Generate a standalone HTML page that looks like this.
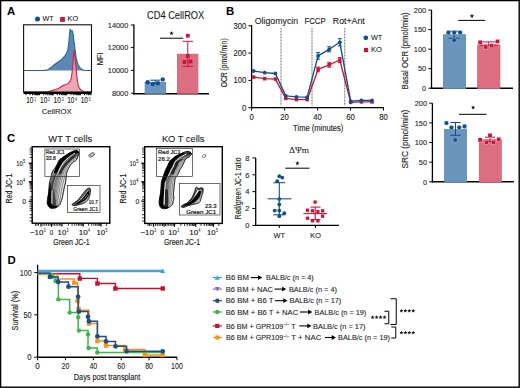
<!DOCTYPE html>
<html><head><meta charset="utf-8"><style>
html,body{margin:0;padding:0;background:#fff;}
svg{display:block;font-family:"Liberation Sans",sans-serif;}
</style></head><body>
<svg width="520" height="388" viewBox="0 0 520 388">
<rect width="520" height="388" fill="#fff"/>
<rect x="0.6" y="0.6" width="518.6" height="386.6" fill="none" stroke="#000" stroke-width="1.4" />
<text x="7" y="15.3" font-size="11.4" text-anchor="start" font-weight="bold" fill="#000" >A</text>
<text x="226" y="15.3" font-size="11.4" text-anchor="start" font-weight="bold" fill="#000" >B</text>
<text x="7" y="142.4" font-size="11.4" text-anchor="start" font-weight="bold" fill="#000" >C</text>
<text x="7.5" y="264.0" font-size="11.4" text-anchor="start" font-weight="bold" fill="#000" >D</text>
<text x="42.5" y="21.3" font-size="7.6" text-anchor="start" font-weight="normal" fill="#1c1c1c" stroke="#1c1c1c" stroke-width="0.1" textLength="11.2" lengthAdjust="spacingAndGlyphs" >WT</text>
<circle cx="37.5" cy="19" r="2.5" fill="#124e8c" />
<rect x="60.1" y="17.0" width="4.8" height="4.8" fill="#c8163a" />
<text x="67.5" y="21.3" font-size="7.6" text-anchor="start" font-weight="normal" fill="#1c1c1c" stroke="#1c1c1c" stroke-width="0.1" textLength="10.6" lengthAdjust="spacingAndGlyphs" >KO</text>
<path d="M23.60,70.50 L28.24,70.51 L34.70,70.52 L40.00,70.50 L42.88,70.46 L44.61,70.38 L46.00,70.20 L47.22,69.91 L48.11,69.52 L49.00,69.00 L50.00,68.29 L51.00,67.44 L52.00,66.60 L52.97,65.81 L53.93,65.03 L55.00,64.20 L56.30,63.25 L57.70,62.26 L58.90,61.40 L59.73,60.80 L60.35,60.33 L61.00,59.80 L61.75,59.13 L62.53,58.40 L63.30,57.60 L64.09,56.74 L64.87,55.81 L65.60,54.80 L66.26,53.76 L66.86,52.62 L67.40,51.20 L67.86,49.43 L68.25,47.37 L68.60,45.00 L68.90,42.13 L69.15,38.94 L69.40,36.00 L69.67,33.24 L69.93,30.73 L70.20,29.20 L70.47,29.30 L70.73,30.39 L71.00,31.20 L71.27,31.20 L71.53,30.93 L71.80,30.80 L72.06,30.77 L72.32,30.87 L72.60,31.60 L72.92,33.26 L73.26,35.54 L73.60,38.00 L73.93,40.50 L74.25,43.17 L74.60,46.00 L74.97,49.11 L75.37,52.39 L75.80,55.40 L76.26,58.05 L76.76,60.44 L77.30,62.50 L77.89,64.15 L78.52,65.47 L79.20,66.60 L79.91,67.57 L80.67,68.34 L81.50,69.00 L82.30,69.56 L83.19,69.99 L84.50,70.30 L86.77,70.46 L89.47,70.49 L91.40,70.50 Z" fill="#5d88b2" stroke="none" stroke-width="1" />
<path d="M23.60,70.50 L28.24,70.51 L34.70,70.52 L40.00,70.50 L42.88,70.46 L44.61,70.38 L46.00,70.20 L47.22,69.91 L48.11,69.52 L49.00,69.00 L50.00,68.29 L51.00,67.44 L52.00,66.60 L52.97,65.81 L53.93,65.03 L55.00,64.20 L56.30,63.25 L57.70,62.26 L58.90,61.40 L59.73,60.80 L60.35,60.33 L61.00,59.80 L61.75,59.13 L62.53,58.40 L63.30,57.60 L64.09,56.74 L64.87,55.81 L65.60,54.80 L66.26,53.76 L66.86,52.62 L67.40,51.20 L67.86,49.43 L68.25,47.37 L68.60,45.00 L68.90,42.13 L69.15,38.94 L69.40,36.00 L69.67,33.24 L69.93,30.73 L70.20,29.20 L70.47,29.30 L70.73,30.39 L71.00,31.20 L71.27,31.20 L71.53,30.93 L71.80,30.80 L72.06,30.77 L72.32,30.87 L72.60,31.60 L72.92,33.26 L73.26,35.54 L73.60,38.00 L73.93,40.50 L74.25,43.17 L74.60,46.00 L74.97,49.11 L75.37,52.39 L75.80,55.40 L76.26,58.05 L76.76,60.44 L77.30,62.50 L77.89,64.15 L78.52,65.47 L79.20,66.60 L79.91,67.57 L80.67,68.34 L81.50,69.00 L82.30,69.56 L83.19,69.99 L84.50,70.30 L86.77,70.46 L89.47,70.49 L91.40,70.50" fill="none" stroke="#2563a0" stroke-width="1.1" />
<path d="M23.60,92.00 L30.13,92.02 L39.14,92.04 L46.00,92.00 L48.40,91.87 L48.64,91.67 L49.00,91.40 L50.24,91.05 L51.59,90.64 L53.00,90.20 L54.50,89.77 L56.06,89.32 L57.50,88.80 L58.77,88.16 L59.92,87.46 L61.00,86.80 L61.99,86.21 L62.90,85.67 L63.80,85.20 L64.72,84.84 L65.63,84.54 L66.50,84.20 L67.31,83.83 L68.07,83.42 L68.80,82.80 L69.52,81.96 L70.20,80.91 L70.80,79.50 L71.27,77.68 L71.65,75.51 L72.00,73.00 L72.33,70.02 L72.63,66.70 L72.90,63.50 L73.16,60.43 L73.39,57.48 L73.60,55.00 L73.78,52.95 L73.93,51.38 L74.10,50.80 L74.28,51.59 L74.47,53.36 L74.70,55.50 L74.97,57.85 L75.28,60.56 L75.60,63.50 L75.93,66.74 L76.26,70.20 L76.60,73.50 L76.93,76.57 L77.25,79.48 L77.60,82.00 L77.95,84.00 L78.32,85.61 L78.80,87.00 L79.45,88.21 L80.21,89.19 L81.00,90.00 L81.81,90.61 L82.66,91.05 L83.50,91.40 L84.23,91.68 L84.95,91.87 L86.00,92.00 L87.79,92.04 L89.89,92.02 L91.40,92.00 Z" fill="#e796a5" stroke="none" stroke-width="1" fill-opacity="0.85"/>
<path d="M23.60,92.00 L30.13,92.02 L39.14,92.04 L46.00,92.00 L48.40,91.87 L48.64,91.67 L49.00,91.40 L50.24,91.05 L51.59,90.64 L53.00,90.20 L54.50,89.77 L56.06,89.32 L57.50,88.80 L58.77,88.16 L59.92,87.46 L61.00,86.80 L61.99,86.21 L62.90,85.67 L63.80,85.20 L64.72,84.84 L65.63,84.54 L66.50,84.20 L67.31,83.83 L68.07,83.42 L68.80,82.80 L69.52,81.96 L70.20,80.91 L70.80,79.50 L71.27,77.68 L71.65,75.51 L72.00,73.00 L72.33,70.02 L72.63,66.70 L72.90,63.50 L73.16,60.43 L73.39,57.48 L73.60,55.00 L73.78,52.95 L73.93,51.38 L74.10,50.80 L74.28,51.59 L74.47,53.36 L74.70,55.50 L74.97,57.85 L75.28,60.56 L75.60,63.50 L75.93,66.74 L76.26,70.20 L76.60,73.50 L76.93,76.57 L77.25,79.48 L77.60,82.00 L77.95,84.00 L78.32,85.61 L78.80,87.00 L79.45,88.21 L80.21,89.19 L81.00,90.00 L81.81,90.61 L82.66,91.05 L83.50,91.40 L84.23,91.68 L84.95,91.87 L86.00,92.00 L87.79,92.04 L89.89,92.02 L91.40,92.00" fill="none" stroke="#d2204a" stroke-width="1.1" />
<rect x="23.6" y="24.8" width="67.9" height="67.2" fill="none" stroke="#111" stroke-width="1.1" />
<line x1="26.00" y1="92" x2="26.00" y2="95.2" stroke="#000" stroke-width="1.0" />
<line x1="30.09" y1="92" x2="30.09" y2="95.2" stroke="#000" stroke-width="1.0" />
<line x1="32.49" y1="92" x2="32.49" y2="95.2" stroke="#000" stroke-width="1.0" />
<line x1="34.19" y1="92" x2="34.19" y2="95.2" stroke="#000" stroke-width="1.0" />
<line x1="35.51" y1="92" x2="35.51" y2="95.2" stroke="#000" stroke-width="1.0" />
<line x1="36.58" y1="92" x2="36.58" y2="95.2" stroke="#000" stroke-width="1.0" />
<line x1="37.49" y1="92" x2="37.49" y2="95.2" stroke="#000" stroke-width="1.0" />
<line x1="38.28" y1="92" x2="38.28" y2="95.2" stroke="#000" stroke-width="1.0" />
<line x1="38.98" y1="92" x2="38.98" y2="95.2" stroke="#000" stroke-width="1.0" />
<line x1="39.60" y1="92" x2="39.60" y2="95.2" stroke="#000" stroke-width="1.0" />
<line x1="43.69" y1="92" x2="43.69" y2="95.2" stroke="#000" stroke-width="1.0" />
<line x1="46.09" y1="92" x2="46.09" y2="95.2" stroke="#000" stroke-width="1.0" />
<line x1="47.79" y1="92" x2="47.79" y2="95.2" stroke="#000" stroke-width="1.0" />
<line x1="49.11" y1="92" x2="49.11" y2="95.2" stroke="#000" stroke-width="1.0" />
<line x1="50.18" y1="92" x2="50.18" y2="95.2" stroke="#000" stroke-width="1.0" />
<line x1="51.09" y1="92" x2="51.09" y2="95.2" stroke="#000" stroke-width="1.0" />
<line x1="51.88" y1="92" x2="51.88" y2="95.2" stroke="#000" stroke-width="1.0" />
<line x1="52.58" y1="92" x2="52.58" y2="95.2" stroke="#000" stroke-width="1.0" />
<line x1="53.20" y1="92" x2="53.20" y2="95.2" stroke="#000" stroke-width="1.0" />
<line x1="57.29" y1="92" x2="57.29" y2="95.2" stroke="#000" stroke-width="1.0" />
<line x1="59.69" y1="92" x2="59.69" y2="95.2" stroke="#000" stroke-width="1.0" />
<line x1="61.39" y1="92" x2="61.39" y2="95.2" stroke="#000" stroke-width="1.0" />
<line x1="62.71" y1="92" x2="62.71" y2="95.2" stroke="#000" stroke-width="1.0" />
<line x1="63.78" y1="92" x2="63.78" y2="95.2" stroke="#000" stroke-width="1.0" />
<line x1="64.69" y1="92" x2="64.69" y2="95.2" stroke="#000" stroke-width="1.0" />
<line x1="65.48" y1="92" x2="65.48" y2="95.2" stroke="#000" stroke-width="1.0" />
<line x1="66.18" y1="92" x2="66.18" y2="95.2" stroke="#000" stroke-width="1.0" />
<line x1="66.80" y1="92" x2="66.80" y2="95.2" stroke="#000" stroke-width="1.0" />
<line x1="70.89" y1="92" x2="70.89" y2="95.2" stroke="#000" stroke-width="1.0" />
<line x1="73.29" y1="92" x2="73.29" y2="95.2" stroke="#000" stroke-width="1.0" />
<line x1="74.99" y1="92" x2="74.99" y2="95.2" stroke="#000" stroke-width="1.0" />
<line x1="76.31" y1="92" x2="76.31" y2="95.2" stroke="#000" stroke-width="1.0" />
<line x1="77.38" y1="92" x2="77.38" y2="95.2" stroke="#000" stroke-width="1.0" />
<line x1="78.29" y1="92" x2="78.29" y2="95.2" stroke="#000" stroke-width="1.0" />
<line x1="79.08" y1="92" x2="79.08" y2="95.2" stroke="#000" stroke-width="1.0" />
<line x1="79.78" y1="92" x2="79.78" y2="95.2" stroke="#000" stroke-width="1.0" />
<line x1="80.40" y1="92" x2="80.40" y2="95.2" stroke="#000" stroke-width="1.0" />
<line x1="84.49" y1="92" x2="84.49" y2="95.2" stroke="#000" stroke-width="1.0" />
<line x1="86.89" y1="92" x2="86.89" y2="95.2" stroke="#000" stroke-width="1.0" />
<line x1="88.59" y1="92" x2="88.59" y2="95.2" stroke="#000" stroke-width="1.0" />
<line x1="89.91" y1="92" x2="89.91" y2="95.2" stroke="#000" stroke-width="1.0" />
<line x1="90.98" y1="92" x2="90.98" y2="95.2" stroke="#000" stroke-width="1.0" />
<line x1="23.6" y1="92.9" x2="91.4" y2="92.9" stroke="#000" stroke-width="2.0" />
<text x="26.2" y="103.3" font-size="8.2" text-anchor="start" font-weight="normal" fill="#1c1c1c" stroke="#1c1c1c" stroke-width="0.12" textLength="7.3" lengthAdjust="spacingAndGlyphs" >10</text>
<text x="34.3" y="100.8" font-size="4.8" text-anchor="start" font-weight="normal" fill="#1c1c1c" stroke="#1c1c1c" stroke-width="0.08" textLength="1.8" lengthAdjust="spacingAndGlyphs" >1</text>
<text x="40" y="103.3" font-size="8.2" text-anchor="start" font-weight="normal" fill="#1c1c1c" stroke="#1c1c1c" stroke-width="0.12" textLength="7.3" lengthAdjust="spacingAndGlyphs" >10</text>
<text x="48.1" y="100.8" font-size="4.8" text-anchor="start" font-weight="normal" fill="#1c1c1c" stroke="#1c1c1c" stroke-width="0.08" textLength="1.8" lengthAdjust="spacingAndGlyphs" >2</text>
<text x="53.6" y="103.3" font-size="8.2" text-anchor="start" font-weight="normal" fill="#1c1c1c" stroke="#1c1c1c" stroke-width="0.12" textLength="7.3" lengthAdjust="spacingAndGlyphs" >10</text>
<text x="61.7" y="100.8" font-size="4.8" text-anchor="start" font-weight="normal" fill="#1c1c1c" stroke="#1c1c1c" stroke-width="0.08" textLength="1.8" lengthAdjust="spacingAndGlyphs" >3</text>
<text x="67.2" y="103.3" font-size="8.2" text-anchor="start" font-weight="normal" fill="#1c1c1c" stroke="#1c1c1c" stroke-width="0.12" textLength="7.3" lengthAdjust="spacingAndGlyphs" >10</text>
<text x="75.3" y="100.8" font-size="4.8" text-anchor="start" font-weight="normal" fill="#1c1c1c" stroke="#1c1c1c" stroke-width="0.08" textLength="1.8" lengthAdjust="spacingAndGlyphs" >4</text>
<text x="80.7" y="103.3" font-size="8.2" text-anchor="start" font-weight="normal" fill="#1c1c1c" stroke="#1c1c1c" stroke-width="0.12" textLength="7.3" lengthAdjust="spacingAndGlyphs" >10</text>
<text x="88.8" y="100.8" font-size="4.8" text-anchor="start" font-weight="normal" fill="#1c1c1c" stroke="#1c1c1c" stroke-width="0.08" textLength="1.8" lengthAdjust="spacingAndGlyphs" >5</text>
<text x="41.7" y="113.7" font-size="7.6" text-anchor="start" font-weight="normal" fill="#1c1c1c" stroke="#1c1c1c" stroke-width="0.1" textLength="30" lengthAdjust="spacingAndGlyphs" >CellROX</text>
<text x="147.0" y="19.1" font-size="10.2" text-anchor="start" font-weight="normal" fill="#1c1c1c" stroke="#1c1c1c" stroke-width="0.1" textLength="57.3" lengthAdjust="spacingAndGlyphs" >CD4 CellROX</text>
<line x1="133.9" y1="24.6" x2="133.9" y2="94.5" stroke="#000" stroke-width="1.3" />
<line x1="133.3" y1="93.8" x2="209" y2="93.8" stroke="#000" stroke-width="1.5" />
<line x1="130.9" y1="25" x2="133.9" y2="25" stroke="#000" stroke-width="1" />
<text x="128.3" y="27.7" font-size="7.7" text-anchor="end" font-weight="normal" fill="#1c1c1c" stroke="#1c1c1c" stroke-width="0.1" textLength="20.5" lengthAdjust="spacingAndGlyphs" >14000</text>
<line x1="130.9" y1="47.6" x2="133.9" y2="47.6" stroke="#000" stroke-width="1" />
<text x="128.3" y="50.300000000000004" font-size="7.7" text-anchor="end" font-weight="normal" fill="#1c1c1c" stroke="#1c1c1c" stroke-width="0.1" textLength="20.5" lengthAdjust="spacingAndGlyphs" >12000</text>
<line x1="130.9" y1="70.4" x2="133.9" y2="70.4" stroke="#000" stroke-width="1" />
<text x="128.3" y="73.10000000000001" font-size="7.7" text-anchor="end" font-weight="normal" fill="#1c1c1c" stroke="#1c1c1c" stroke-width="0.1" textLength="20.5" lengthAdjust="spacingAndGlyphs" >10000</text>
<line x1="130.9" y1="93.2" x2="133.9" y2="93.2" stroke="#000" stroke-width="1" />
<text x="128.3" y="95.9" font-size="7.7" text-anchor="end" font-weight="normal" fill="#1c1c1c" stroke="#1c1c1c" stroke-width="0.1" textLength="16.4" lengthAdjust="spacingAndGlyphs" >8000</text>
<text x="103.3" y="58.9" font-size="8.6" text-anchor="middle" font-weight="normal" fill="#1c1c1c" stroke="#1c1c1c" stroke-width="0.1" textLength="12.9" lengthAdjust="spacingAndGlyphs" transform="rotate(-90 103.3 58.9)" >MFI</text>
<rect x="145.1" y="82.4" width="20.5" height="11.0" fill="#6b95bd" stroke="#5b88b3" stroke-width="0.8" />
<rect x="177.4" y="54.2" width="20.5" height="39.2" fill="#dd6e81" stroke="#d65a71" stroke-width="0.8" />
<line x1="155.2" y1="80.2" x2="155.2" y2="84" stroke="#124e8c" stroke-width="1" />
<line x1="150.2" y1="80.2" x2="160.1" y2="80.2" stroke="#124e8c" stroke-width="1" />
<circle cx="147.7" cy="82.2" r="2.2" fill="#124e8c" />
<circle cx="152.8" cy="83.9" r="2.2" fill="#124e8c" />
<circle cx="157.9" cy="83.3" r="2.2" fill="#124e8c" />
<circle cx="162.7" cy="79.4" r="2.2" fill="#124e8c" />
<line x1="187.8" y1="41.3" x2="187.8" y2="66.4" stroke="#c8163a" stroke-width="1" />
<line x1="182.6" y1="41.3" x2="193" y2="41.3" stroke="#c8163a" stroke-width="1" />
<line x1="182.6" y1="66.4" x2="193" y2="66.4" stroke="#c8163a" stroke-width="1" />
<rect x="185.9" y="33.800000000000004" width="3.8" height="3.8" fill="#c8163a" />
<rect x="185.9" y="54.1" width="3.8" height="3.8" fill="#c8163a" />
<rect x="182.6" y="60.1" width="3.8" height="3.8" fill="#c8163a" />
<rect x="188.6" y="59.6" width="3.8" height="3.8" fill="#c8163a" />
<line x1="160" y1="38.2" x2="183.3" y2="38.2" stroke="#000" stroke-width="1" />
<path d="M171.50,31.00 L172.07,32.52 L173.69,32.59 L172.42,33.60 L172.85,35.16 L171.50,34.27 L170.15,35.16 L170.58,33.60 L169.31,32.59 L170.93,32.52 Z" fill="#111"/>
<line x1="251.6" y1="25.2" x2="251.6" y2="108.3" stroke="#000" stroke-width="1.3" />
<line x1="251.0" y1="107.7" x2="384" y2="107.7" stroke="#000" stroke-width="1.3" />
<line x1="248.4" y1="107.7" x2="251.6" y2="107.7" stroke="#000" stroke-width="1" />
<text x="246.4" y="110.7" font-size="8.4" text-anchor="end" font-weight="normal" fill="#1c1c1c" stroke="#1c1c1c" stroke-width="0.12" textLength="4.3" lengthAdjust="spacingAndGlyphs" >0</text>
<line x1="248.4" y1="80.4" x2="251.6" y2="80.4" stroke="#000" stroke-width="1" />
<text x="246.4" y="83.4" font-size="8.4" text-anchor="end" font-weight="normal" fill="#1c1c1c" stroke="#1c1c1c" stroke-width="0.12" textLength="12.8" lengthAdjust="spacingAndGlyphs" >100</text>
<line x1="248.4" y1="53.1" x2="251.6" y2="53.1" stroke="#000" stroke-width="1" />
<text x="246.4" y="56.1" font-size="8.4" text-anchor="end" font-weight="normal" fill="#1c1c1c" stroke="#1c1c1c" stroke-width="0.12" textLength="12.8" lengthAdjust="spacingAndGlyphs" >200</text>
<line x1="248.4" y1="25.799999999999997" x2="251.6" y2="25.799999999999997" stroke="#000" stroke-width="1" />
<text x="246.4" y="28.799999999999997" font-size="8.4" text-anchor="end" font-weight="normal" fill="#1c1c1c" stroke="#1c1c1c" stroke-width="0.12" textLength="12.8" lengthAdjust="spacingAndGlyphs" >300</text>
<line x1="251.6" y1="107.7" x2="251.6" y2="110.5" stroke="#000" stroke-width="1" />
<text x="251.6" y="119.9" font-size="8.4" text-anchor="middle" font-weight="normal" fill="#1c1c1c" stroke="#1c1c1c" stroke-width="0.12" textLength="4.3" lengthAdjust="spacingAndGlyphs" >0</text>
<line x1="284.57" y1="107.7" x2="284.57" y2="110.5" stroke="#000" stroke-width="1" />
<text x="284.57" y="119.9" font-size="8.4" text-anchor="middle" font-weight="normal" fill="#1c1c1c" stroke="#1c1c1c" stroke-width="0.12" textLength="8.6" lengthAdjust="spacingAndGlyphs" >20</text>
<line x1="317.53999999999996" y1="107.7" x2="317.53999999999996" y2="110.5" stroke="#000" stroke-width="1" />
<text x="317.53999999999996" y="119.9" font-size="8.4" text-anchor="middle" font-weight="normal" fill="#1c1c1c" stroke="#1c1c1c" stroke-width="0.12" textLength="8.6" lengthAdjust="spacingAndGlyphs" >40</text>
<line x1="350.51" y1="107.7" x2="350.51" y2="110.5" stroke="#000" stroke-width="1" />
<text x="350.51" y="119.9" font-size="8.4" text-anchor="middle" font-weight="normal" fill="#1c1c1c" stroke="#1c1c1c" stroke-width="0.12" textLength="8.6" lengthAdjust="spacingAndGlyphs" >60</text>
<line x1="383.48" y1="107.7" x2="383.48" y2="110.5" stroke="#000" stroke-width="1" />
<text x="383.48" y="119.9" font-size="8.4" text-anchor="middle" font-weight="normal" fill="#1c1c1c" stroke="#1c1c1c" stroke-width="0.12" textLength="8.6" lengthAdjust="spacingAndGlyphs" >80</text>
<text x="293.1" y="130.5" font-size="9.2" text-anchor="start" font-weight="normal" fill="#1c1c1c" stroke="#1c1c1c" stroke-width="0.14" textLength="50.3" lengthAdjust="spacingAndGlyphs" >Time (minutes)</text>
<text x="227.4" y="62.85" font-size="9.0" text-anchor="middle" font-weight="normal" fill="#1c1c1c" stroke="#1c1c1c" stroke-width="0.14" textLength="49" lengthAdjust="spacingAndGlyphs" transform="rotate(-90 227.4 62.85)" >OCR (pmol/min)</text>
<line x1="281" y1="28" x2="281" y2="105.5" stroke="#888" stroke-width="1.2" stroke-dasharray="0.9,0.6"/>
<line x1="312" y1="28" x2="312" y2="105.5" stroke="#888" stroke-width="1.2" stroke-dasharray="0.9,0.6"/>
<line x1="344.7" y1="28" x2="344.7" y2="105.5" stroke="#888" stroke-width="1.2" stroke-dasharray="0.9,0.6"/>
<text x="254.8" y="24.4" font-size="8.4" text-anchor="start" font-weight="normal" fill="#1c1c1c" stroke="#1c1c1c" stroke-width="0.1" textLength="43.3" lengthAdjust="spacingAndGlyphs" >Oligomycin</text>
<text x="304.4" y="24.4" font-size="8.4" text-anchor="start" font-weight="normal" fill="#1c1c1c" stroke="#1c1c1c" stroke-width="0.1" textLength="21.4" lengthAdjust="spacingAndGlyphs" >FCCP</text>
<text x="332.8" y="24.4" font-size="8.4" text-anchor="start" font-weight="normal" fill="#1c1c1c" stroke="#1c1c1c" stroke-width="0.1" textLength="32" lengthAdjust="spacingAndGlyphs" >Rot+Ant</text>
<path d="M253.60,77.10 L264.70,78.70 L275.40,79.10 L285.80,98.40 L296.50,99.60 L307.20,99.60 L318.10,69.40 L329.20,64.80 L339.80,60.00 L350.70,102.40 L361.40,101.90 L372.00,101.90" fill="none" stroke="#c8163a" stroke-width="1.35" stroke-linejoin="round"/>
<rect x="251.85" y="75.35" width="3.5" height="3.5" fill="#c8163a" />
<rect x="262.95" y="76.95" width="3.5" height="3.5" fill="#c8163a" />
<rect x="273.65" y="77.35" width="3.5" height="3.5" fill="#c8163a" />
<rect x="284.05" y="96.65" width="3.5" height="3.5" fill="#c8163a" />
<rect x="294.75" y="97.85" width="3.5" height="3.5" fill="#c8163a" />
<rect x="305.45" y="97.85" width="3.5" height="3.5" fill="#c8163a" />
<rect x="316.35" y="67.65" width="3.5" height="3.5" fill="#c8163a" />
<rect x="327.45" y="63.05" width="3.5" height="3.5" fill="#c8163a" />
<rect x="338.05" y="58.25" width="3.5" height="3.5" fill="#c8163a" />
<rect x="348.95" y="100.65" width="3.5" height="3.5" fill="#c8163a" />
<rect x="359.65" y="100.15" width="3.5" height="3.5" fill="#c8163a" />
<rect x="370.25" y="100.15" width="3.5" height="3.5" fill="#c8163a" />
<path d="M253.60,71.00 L264.70,72.70 L275.40,73.50 L285.80,95.80 L296.50,96.80 L307.20,97.20 L318.10,55.90 L329.20,49.30 L339.80,42.30 L350.70,101.20 L361.40,100.40 L372.00,100.40" fill="none" stroke="#124e8c" stroke-width="1.35" stroke-linejoin="round"/>
<circle cx="253.6" cy="71" r="1.9" fill="#124e8c" />
<circle cx="264.7" cy="72.7" r="1.9" fill="#124e8c" />
<circle cx="275.4" cy="73.5" r="1.9" fill="#124e8c" />
<circle cx="285.8" cy="95.8" r="1.9" fill="#124e8c" />
<circle cx="296.5" cy="96.8" r="1.9" fill="#124e8c" />
<circle cx="307.2" cy="97.2" r="1.9" fill="#124e8c" />
<circle cx="318.1" cy="55.9" r="1.9" fill="#124e8c" />
<circle cx="329.2" cy="49.3" r="1.9" fill="#124e8c" />
<circle cx="339.8" cy="42.3" r="1.9" fill="#124e8c" />
<circle cx="350.7" cy="101.2" r="1.9" fill="#124e8c" />
<circle cx="361.4" cy="100.4" r="1.9" fill="#124e8c" />
<circle cx="372.0" cy="100.4" r="1.9" fill="#124e8c" />
<line x1="318.1" y1="52.6" x2="318.1" y2="59.199999999999996" stroke="#124e8c" stroke-width="1" />
<line x1="316.1" y1="52.6" x2="320.1" y2="52.6" stroke="#124e8c" stroke-width="1" />
<line x1="316.1" y1="59.199999999999996" x2="320.1" y2="59.199999999999996" stroke="#124e8c" stroke-width="1" />
<line x1="329.2" y1="46.8" x2="329.2" y2="51.8" stroke="#124e8c" stroke-width="1" />
<line x1="327.2" y1="46.8" x2="331.2" y2="46.8" stroke="#124e8c" stroke-width="1" />
<line x1="327.2" y1="51.8" x2="331.2" y2="51.8" stroke="#124e8c" stroke-width="1" />
<line x1="339.8" y1="38.699999999999996" x2="339.8" y2="45.9" stroke="#124e8c" stroke-width="1" />
<line x1="337.8" y1="38.699999999999996" x2="341.8" y2="38.699999999999996" stroke="#124e8c" stroke-width="1" />
<line x1="337.8" y1="45.9" x2="341.8" y2="45.9" stroke="#124e8c" stroke-width="1" />
<line x1="318.1" y1="67.0" x2="318.1" y2="71.80000000000001" stroke="#c8163a" stroke-width="1" />
<line x1="316.1" y1="67.0" x2="320.1" y2="67.0" stroke="#c8163a" stroke-width="1" />
<line x1="316.1" y1="71.80000000000001" x2="320.1" y2="71.80000000000001" stroke="#c8163a" stroke-width="1" />
<line x1="329.2" y1="62.4" x2="329.2" y2="67.2" stroke="#c8163a" stroke-width="1" />
<line x1="327.2" y1="62.4" x2="331.2" y2="62.4" stroke="#c8163a" stroke-width="1" />
<line x1="327.2" y1="67.2" x2="331.2" y2="67.2" stroke="#c8163a" stroke-width="1" />
<line x1="339.8" y1="57.6" x2="339.8" y2="62.4" stroke="#c8163a" stroke-width="1" />
<line x1="337.8" y1="57.6" x2="341.8" y2="57.6" stroke="#c8163a" stroke-width="1" />
<line x1="337.8" y1="62.4" x2="341.8" y2="62.4" stroke="#c8163a" stroke-width="1" />
<circle cx="365.8" cy="37.8" r="2.4" fill="#124e8c" />
<text x="370.9" y="40.3" font-size="7.6" text-anchor="start" font-weight="normal" fill="#1c1c1c" stroke="#1c1c1c" stroke-width="0.1" textLength="11.4" lengthAdjust="spacingAndGlyphs" >WT</text>
<rect x="363.9" y="47.9" width="4.2" height="4.2" fill="#c8163a" />
<text x="371.0" y="52.1" font-size="7.6" text-anchor="start" font-weight="normal" fill="#1c1c1c" stroke="#1c1c1c" stroke-width="0.1" textLength="11.0" lengthAdjust="spacingAndGlyphs" >KO</text>
<line x1="431.5" y1="10.099999999999994" x2="431.5" y2="88.9" stroke="#000" stroke-width="1.3" />
<line x1="430.9" y1="88.2" x2="513.0" y2="88.2" stroke="#000" stroke-width="1.5" />
<line x1="428.3" y1="88.2" x2="431.5" y2="88.2" stroke="#000" stroke-width="1" />
<text x="426.1" y="91.0" font-size="7.8" text-anchor="end" font-weight="normal" fill="#1c1c1c" stroke="#1c1c1c" stroke-width="0.1" textLength="4.0" lengthAdjust="spacingAndGlyphs" >0</text>
<line x1="428.3" y1="68.675" x2="431.5" y2="68.675" stroke="#000" stroke-width="1" />
<text x="426.1" y="71.475" font-size="7.8" text-anchor="end" font-weight="normal" fill="#1c1c1c" stroke="#1c1c1c" stroke-width="0.1" textLength="8.2" lengthAdjust="spacingAndGlyphs" >50</text>
<line x1="428.3" y1="49.15" x2="431.5" y2="49.15" stroke="#000" stroke-width="1" />
<text x="426.1" y="51.949999999999996" font-size="7.8" text-anchor="end" font-weight="normal" fill="#1c1c1c" stroke="#1c1c1c" stroke-width="0.1" textLength="12.3" lengthAdjust="spacingAndGlyphs" >100</text>
<line x1="428.3" y1="29.625" x2="431.5" y2="29.625" stroke="#000" stroke-width="1" />
<text x="426.1" y="32.425" font-size="7.8" text-anchor="end" font-weight="normal" fill="#1c1c1c" stroke="#1c1c1c" stroke-width="0.1" textLength="12.3" lengthAdjust="spacingAndGlyphs" >150</text>
<line x1="428.3" y1="10.099999999999994" x2="431.5" y2="10.099999999999994" stroke="#000" stroke-width="1" />
<text x="426.1" y="12.899999999999995" font-size="7.8" text-anchor="end" font-weight="normal" fill="#1c1c1c" stroke="#1c1c1c" stroke-width="0.1" textLength="12.3" lengthAdjust="spacingAndGlyphs" >200</text>
<rect x="443.4" y="34.711" width="22.2" height="53.889" fill="#6b95bd" stroke="#5b88b3" stroke-width="0.8" />
<rect x="477.7" y="44.864" width="22.2" height="43.736000000000004" fill="#dd6e81" stroke="#d65a71" stroke-width="0.8" />
<line x1="454.2" y1="31.3" x2="454.2" y2="38.3" stroke="#124e8c" stroke-width="1" />
<line x1="448.7" y1="31.3" x2="459.7" y2="31.3" stroke="#124e8c" stroke-width="1" />
<line x1="448.7" y1="38.3" x2="459.7" y2="38.3" stroke="#124e8c" stroke-width="1" />
<circle cx="448.4" cy="32.6" r="2.3" fill="#124e8c" stroke="#fff" stroke-width="0.3"/>
<circle cx="454.2" cy="32.6" r="2.3" fill="#124e8c" stroke="#fff" stroke-width="0.3"/>
<circle cx="460.2" cy="32.6" r="2.3" fill="#124e8c" stroke="#fff" stroke-width="0.3"/>
<circle cx="454.2" cy="40.3" r="2.3" fill="#124e8c" stroke="#fff" stroke-width="0.3"/>
<line x1="488.8" y1="41.9" x2="488.8" y2="45.3" stroke="#c8163a" stroke-width="1" />
<line x1="480.3" y1="41.9" x2="497.3" y2="41.9" stroke="#c8163a" stroke-width="1" />
<line x1="480.3" y1="45.3" x2="497.3" y2="45.3" stroke="#c8163a" stroke-width="1" />
<rect x="478.05" y="40.25" width="4.1" height="4.1" fill="#c8163a" stroke="#fff" stroke-width="0.3"/>
<rect x="483.75" y="44.95" width="4.1" height="4.1" fill="#c8163a" stroke="#fff" stroke-width="0.3"/>
<rect x="489.45" y="43.650000000000006" width="4.1" height="4.1" fill="#c8163a" stroke="#fff" stroke-width="0.3"/>
<rect x="495.45" y="39.35" width="4.1" height="4.1" fill="#c8163a" stroke="#fff" stroke-width="0.3"/>
<line x1="458.2" y1="20.4" x2="485.1" y2="20.4" stroke="#000" stroke-width="1" />
<path d="M471.95,13.80 L472.52,15.32 L474.14,15.39 L472.87,16.40 L473.30,17.96 L471.95,17.07 L470.60,17.96 L471.03,16.40 L469.76,15.39 L471.38,15.32 Z" fill="#111"/>
<text x="407.8" y="50.9" font-size="8.6" text-anchor="middle" font-weight="normal" fill="#1c1c1c" stroke="#1c1c1c" stroke-width="0.14" textLength="77.2" lengthAdjust="spacingAndGlyphs" transform="rotate(-90 407.8 50.9)" >Basal OCR (pmol/min)</text>
<line x1="432.4" y1="103.2" x2="432.4" y2="182.5" stroke="#000" stroke-width="1.3" />
<line x1="431.79999999999995" y1="181.8" x2="513.9" y2="181.8" stroke="#000" stroke-width="1.5" />
<line x1="429.2" y1="181.8" x2="432.4" y2="181.8" stroke="#000" stroke-width="1" />
<text x="427.0" y="184.60000000000002" font-size="7.8" text-anchor="end" font-weight="normal" fill="#1c1c1c" stroke="#1c1c1c" stroke-width="0.1" textLength="4.0" lengthAdjust="spacingAndGlyphs" >0</text>
<line x1="429.2" y1="162.15" x2="432.4" y2="162.15" stroke="#000" stroke-width="1" />
<text x="427.0" y="164.95000000000002" font-size="7.8" text-anchor="end" font-weight="normal" fill="#1c1c1c" stroke="#1c1c1c" stroke-width="0.1" textLength="8.2" lengthAdjust="spacingAndGlyphs" >50</text>
<line x1="429.2" y1="142.5" x2="432.4" y2="142.5" stroke="#000" stroke-width="1" />
<text x="427.0" y="145.3" font-size="7.8" text-anchor="end" font-weight="normal" fill="#1c1c1c" stroke="#1c1c1c" stroke-width="0.1" textLength="12.3" lengthAdjust="spacingAndGlyphs" >100</text>
<line x1="429.2" y1="122.85000000000001" x2="432.4" y2="122.85000000000001" stroke="#000" stroke-width="1" />
<text x="427.0" y="125.65" font-size="7.8" text-anchor="end" font-weight="normal" fill="#1c1c1c" stroke="#1c1c1c" stroke-width="0.1" textLength="12.3" lengthAdjust="spacingAndGlyphs" >150</text>
<line x1="429.2" y1="103.2" x2="432.4" y2="103.2" stroke="#000" stroke-width="1" />
<text x="427.0" y="106.0" font-size="7.8" text-anchor="end" font-weight="normal" fill="#1c1c1c" stroke="#1c1c1c" stroke-width="0.1" textLength="12.3" lengthAdjust="spacingAndGlyphs" >200</text>
<rect x="444.5" y="129.538" width="21.999999999999954" height="52.662" fill="#6b95bd" stroke="#5b88b3" stroke-width="0.8" />
<rect x="479.29999999999995" y="139.756" width="22.00000000000001" height="42.444" fill="#dd6e81" stroke="#d65a71" stroke-width="0.8" />
<line x1="455.5" y1="122.5" x2="455.5" y2="135.3" stroke="#124e8c" stroke-width="1" />
<line x1="450.3" y1="122.5" x2="460.7" y2="122.5" stroke="#124e8c" stroke-width="1" />
<line x1="450.3" y1="135.3" x2="460.7" y2="135.3" stroke="#124e8c" stroke-width="1" />
<circle cx="446.4" cy="123" r="2.3" fill="#124e8c" stroke="#fff" stroke-width="0.3"/>
<circle cx="451.5" cy="127.6" r="2.3" fill="#124e8c" stroke="#fff" stroke-width="0.3"/>
<circle cx="459.2" cy="127.6" r="2.3" fill="#124e8c" stroke="#fff" stroke-width="0.3"/>
<circle cx="464.5" cy="126.4" r="2.3" fill="#124e8c" stroke="#fff" stroke-width="0.3"/>
<circle cx="455.2" cy="139.9" r="2.3" fill="#124e8c" stroke="#fff" stroke-width="0.3"/>
<line x1="490" y1="137.2" x2="490" y2="141.5" stroke="#c8163a" stroke-width="1" />
<line x1="485.0" y1="137.2" x2="495.0" y2="137.2" stroke="#c8163a" stroke-width="1" />
<line x1="485.0" y1="141.5" x2="495.0" y2="141.5" stroke="#c8163a" stroke-width="1" />
<rect x="478.05" y="137.85" width="4.1" height="4.1" fill="#c8163a" stroke="#fff" stroke-width="0.3"/>
<rect x="484.55" y="140.14999999999998" width="4.1" height="4.1" fill="#c8163a" stroke="#fff" stroke-width="0.3"/>
<rect x="487.95" y="133.25" width="4.1" height="4.1" fill="#c8163a" stroke="#fff" stroke-width="0.3"/>
<rect x="491.45" y="140.14999999999998" width="4.1" height="4.1" fill="#c8163a" stroke="#fff" stroke-width="0.3"/>
<rect x="496.65" y="137.14999999999998" width="4.1" height="4.1" fill="#c8163a" stroke="#fff" stroke-width="0.3"/>
<line x1="459.0" y1="114.3" x2="486.6" y2="114.3" stroke="#000" stroke-width="1" />
<path d="M473.10,105.20 L473.67,106.72 L475.29,106.79 L474.02,107.80 L474.45,109.36 L473.10,108.47 L471.75,109.36 L472.18,107.80 L470.91,106.79 L472.53,106.72 Z" fill="#111"/>
<text x="408.3" y="139.1" font-size="8.6" text-anchor="middle" font-weight="normal" fill="#1c1c1c" stroke="#1c1c1c" stroke-width="0.14" textLength="58.8" lengthAdjust="spacingAndGlyphs" transform="rotate(-90 408.3 139.1)" >SRC (pmol/min)</text>
<text x="48.3" y="142.4" font-size="9.8" text-anchor="start" font-weight="normal" fill="#1c1c1c" stroke="#1c1c1c" stroke-width="0.1" textLength="43.9" lengthAdjust="spacingAndGlyphs" >WT T cells</text>
<text x="161.9" y="142.4" font-size="9.8" text-anchor="start" font-weight="normal" fill="#1c1c1c" stroke="#1c1c1c" stroke-width="0.1" textLength="42.6" lengthAdjust="spacingAndGlyphs" >KO T cells</text>
<line x1="29.6" y1="148.10" x2="32.2" y2="148.10" stroke="#000" stroke-width="0.8" />
<line x1="29.6" y1="150.00" x2="32.2" y2="150.00" stroke="#000" stroke-width="0.8" />
<line x1="29.6" y1="152.00" x2="32.2" y2="152.00" stroke="#000" stroke-width="0.8" />
<line x1="29.6" y1="154.30" x2="32.2" y2="154.30" stroke="#000" stroke-width="0.8" />
<line x1="29.6" y1="157.40" x2="32.2" y2="157.40" stroke="#000" stroke-width="0.8" />
<line x1="29.6" y1="176.20" x2="32.2" y2="176.20" stroke="#000" stroke-width="0.8" />
<line x1="29.6" y1="191.38" x2="32.2" y2="191.38" stroke="#000" stroke-width="0.8" />
<line x1="29.6" y1="172.93" x2="32.2" y2="172.93" stroke="#000" stroke-width="0.8" />
<line x1="29.6" y1="188.96" x2="32.2" y2="188.96" stroke="#000" stroke-width="0.8" />
<line x1="29.6" y1="170.60" x2="32.2" y2="170.60" stroke="#000" stroke-width="0.8" />
<line x1="29.6" y1="187.25" x2="32.2" y2="187.25" stroke="#000" stroke-width="0.8" />
<line x1="29.6" y1="168.80" x2="32.2" y2="168.80" stroke="#000" stroke-width="0.8" />
<line x1="29.6" y1="185.92" x2="32.2" y2="185.92" stroke="#000" stroke-width="0.8" />
<line x1="29.6" y1="167.33" x2="32.2" y2="167.33" stroke="#000" stroke-width="0.8" />
<line x1="29.6" y1="184.84" x2="32.2" y2="184.84" stroke="#000" stroke-width="0.8" />
<line x1="29.6" y1="166.08" x2="32.2" y2="166.08" stroke="#000" stroke-width="0.8" />
<line x1="29.6" y1="183.92" x2="32.2" y2="183.92" stroke="#000" stroke-width="0.8" />
<line x1="29.6" y1="165.00" x2="32.2" y2="165.00" stroke="#000" stroke-width="0.8" />
<line x1="29.6" y1="183.13" x2="32.2" y2="183.13" stroke="#000" stroke-width="0.8" />
<line x1="29.6" y1="164.05" x2="32.2" y2="164.05" stroke="#000" stroke-width="0.8" />
<line x1="29.6" y1="182.43" x2="32.2" y2="182.43" stroke="#000" stroke-width="0.8" />
<line x1="29.6" y1="197.00" x2="32.2" y2="197.00" stroke="#000" stroke-width="0.8" />
<line x1="29.6" y1="199.40" x2="32.2" y2="199.40" stroke="#000" stroke-width="0.8" />
<line x1="29.6" y1="203.20" x2="32.2" y2="203.20" stroke="#000" stroke-width="0.8" />
<line x1="29.6" y1="205.00" x2="32.2" y2="205.00" stroke="#000" stroke-width="0.8" />
<line x1="29.6" y1="206.80" x2="32.2" y2="206.80" stroke="#000" stroke-width="0.8" />
<line x1="29.6" y1="208.60" x2="32.2" y2="208.60" stroke="#000" stroke-width="0.8" />
<line x1="29.6" y1="210.40" x2="32.2" y2="210.40" stroke="#000" stroke-width="0.8" />
<line x1="29.6" y1="214.70" x2="32.2" y2="214.70" stroke="#000" stroke-width="0.8" />
<line x1="29.6" y1="217.80" x2="32.2" y2="217.80" stroke="#000" stroke-width="0.8" />
<line x1="29.6" y1="221.00" x2="32.2" y2="221.00" stroke="#000" stroke-width="0.8" />
<line x1="28.800000000000004" y1="163.2" x2="32.2" y2="163.2" stroke="#000" stroke-width="1.3" />
<line x1="28.800000000000004" y1="181.8" x2="32.2" y2="181.8" stroke="#000" stroke-width="1.3" />
<line x1="28.800000000000004" y1="201.2" x2="32.2" y2="201.2" stroke="#000" stroke-width="1.3" />
<line x1="88.56" y1="223.2" x2="88.56" y2="225.79999999999998" stroke="#000" stroke-width="0.8" />
<line x1="68.38" y1="223.2" x2="68.38" y2="225.79999999999998" stroke="#000" stroke-width="0.8" />
<line x1="106.36" y1="223.2" x2="106.36" y2="225.79999999999998" stroke="#000" stroke-width="0.8" />
<line x1="91.69" y1="223.2" x2="91.69" y2="225.79999999999998" stroke="#000" stroke-width="0.8" />
<line x1="72.11" y1="223.2" x2="72.11" y2="225.79999999999998" stroke="#000" stroke-width="0.8" />
<line x1="93.92" y1="223.2" x2="93.92" y2="225.79999999999998" stroke="#000" stroke-width="0.8" />
<line x1="74.76" y1="223.2" x2="74.76" y2="225.79999999999998" stroke="#000" stroke-width="0.8" />
<line x1="95.64" y1="223.2" x2="95.64" y2="225.79999999999998" stroke="#000" stroke-width="0.8" />
<line x1="76.82" y1="223.2" x2="76.82" y2="225.79999999999998" stroke="#000" stroke-width="0.8" />
<line x1="97.05" y1="223.2" x2="97.05" y2="225.79999999999998" stroke="#000" stroke-width="0.8" />
<line x1="78.50" y1="223.2" x2="78.50" y2="225.79999999999998" stroke="#000" stroke-width="0.8" />
<line x1="98.24" y1="223.2" x2="98.24" y2="225.79999999999998" stroke="#000" stroke-width="0.8" />
<line x1="79.92" y1="223.2" x2="79.92" y2="225.79999999999998" stroke="#000" stroke-width="0.8" />
<line x1="99.28" y1="223.2" x2="99.28" y2="225.79999999999998" stroke="#000" stroke-width="0.8" />
<line x1="81.15" y1="223.2" x2="81.15" y2="225.79999999999998" stroke="#000" stroke-width="0.8" />
<line x1="100.19" y1="223.2" x2="100.19" y2="225.79999999999998" stroke="#000" stroke-width="0.8" />
<line x1="82.23" y1="223.2" x2="82.23" y2="225.79999999999998" stroke="#000" stroke-width="0.8" />
<line x1="35.50" y1="223.2" x2="35.50" y2="225.79999999999998" stroke="#000" stroke-width="0.8" />
<line x1="37.00" y1="223.2" x2="37.00" y2="225.79999999999998" stroke="#000" stroke-width="0.8" />
<line x1="38.50" y1="223.2" x2="38.50" y2="225.79999999999998" stroke="#000" stroke-width="0.8" />
<line x1="43.00" y1="223.2" x2="43.00" y2="225.79999999999998" stroke="#000" stroke-width="0.8" />
<line x1="44.80" y1="223.2" x2="44.80" y2="225.79999999999998" stroke="#000" stroke-width="0.8" />
<line x1="46.60" y1="223.2" x2="46.60" y2="225.79999999999998" stroke="#000" stroke-width="0.8" />
<line x1="48.40" y1="223.2" x2="48.40" y2="225.79999999999998" stroke="#000" stroke-width="0.8" />
<line x1="50.00" y1="223.2" x2="50.00" y2="225.79999999999998" stroke="#000" stroke-width="0.8" />
<line x1="53.00" y1="223.2" x2="53.00" y2="225.79999999999998" stroke="#000" stroke-width="0.8" />
<line x1="54.60" y1="223.2" x2="54.60" y2="225.79999999999998" stroke="#000" stroke-width="0.8" />
<line x1="56.20" y1="223.2" x2="56.20" y2="225.79999999999998" stroke="#000" stroke-width="0.8" />
<line x1="57.80" y1="223.2" x2="57.80" y2="225.79999999999998" stroke="#000" stroke-width="0.8" />
<line x1="59.40" y1="223.2" x2="59.40" y2="225.79999999999998" stroke="#000" stroke-width="0.8" />
<line x1="60.80" y1="223.2" x2="60.80" y2="225.79999999999998" stroke="#000" stroke-width="0.8" />
<line x1="41.0" y1="223.2" x2="41.0" y2="226.6" stroke="#000" stroke-width="1.2" />
<line x1="51.5" y1="223.2" x2="51.5" y2="226.6" stroke="#000" stroke-width="1.2" />
<line x1="62.0" y1="223.2" x2="62.0" y2="226.6" stroke="#000" stroke-width="1.2" />
<line x1="83.2" y1="223.2" x2="83.2" y2="226.6" stroke="#000" stroke-width="1.2" />
<line x1="101.0" y1="223.2" x2="101.0" y2="226.6" stroke="#000" stroke-width="1.2" />
<rect x="32.2" y="146.7" width="77.6" height="76.5" fill="none" stroke="#000" stroke-width="1.4" />
<text x="16.3" y="166.0" font-size="7.8" text-anchor="start" font-weight="normal" fill="#1c1c1c" stroke="#1c1c1c" stroke-width="0.14" textLength="6.5" lengthAdjust="spacingAndGlyphs" >10</text>
<text x="16.3" y="184.60000000000002" font-size="7.8" text-anchor="start" font-weight="normal" fill="#1c1c1c" stroke="#1c1c1c" stroke-width="0.14" textLength="6.5" lengthAdjust="spacingAndGlyphs" >10</text>
<text x="23.0" y="163.39999999999998" font-size="4.8" text-anchor="start" font-weight="normal" fill="#1c1c1c" stroke="#1c1c1c" stroke-width="0.1" textLength="2.2" lengthAdjust="spacingAndGlyphs" >5</text>
<text x="23.0" y="182.0" font-size="4.8" text-anchor="start" font-weight="normal" fill="#1c1c1c" stroke="#1c1c1c" stroke-width="0.1" textLength="2.2" lengthAdjust="spacingAndGlyphs" >4</text>
<text x="26.1" y="204.0" font-size="7.8" text-anchor="end" font-weight="normal" fill="#1c1c1c" stroke="#1c1c1c" stroke-width="0.14" textLength="3.8" lengthAdjust="spacingAndGlyphs" >0</text>
<text x="12.4" y="188.6" font-size="8.6" text-anchor="middle" font-weight="normal" fill="#1c1c1c" stroke="#1c1c1c" stroke-width="0.16" textLength="30" lengthAdjust="spacingAndGlyphs" transform="rotate(-90 12.4 188.6)" >Red JC-1</text>
<text x="29.9" y="235.2" font-size="7.4" text-anchor="start" font-weight="normal" fill="#1c1c1c" stroke="#1c1c1c" stroke-width="0.14" textLength="13.4" lengthAdjust="spacingAndGlyphs" >−10</text>
<text x="43.7" y="232.4" font-size="4.6" text-anchor="start" font-weight="normal" fill="#1c1c1c" stroke="#1c1c1c" stroke-width="0.1" textLength="1.8" lengthAdjust="spacingAndGlyphs" >3</text>
<text x="49.8" y="235.2" font-size="7.4" text-anchor="start" font-weight="normal" fill="#1c1c1c" stroke="#1c1c1c" stroke-width="0.14" textLength="3.4" lengthAdjust="spacingAndGlyphs" >0</text>
<text x="57.6" y="235.2" font-size="7.4" text-anchor="start" font-weight="normal" fill="#1c1c1c" stroke="#1c1c1c" stroke-width="0.14" textLength="8.6" lengthAdjust="spacingAndGlyphs" >10</text>
<text x="66.6" y="232.4" font-size="4.6" text-anchor="start" font-weight="normal" fill="#1c1c1c" stroke="#1c1c1c" stroke-width="0.1" textLength="1.8" lengthAdjust="spacingAndGlyphs" >3</text>
<text x="78.7" y="235.2" font-size="7.4" text-anchor="start" font-weight="normal" fill="#1c1c1c" stroke="#1c1c1c" stroke-width="0.14" textLength="9.0" lengthAdjust="spacingAndGlyphs" >10</text>
<text x="88.0" y="232.4" font-size="4.6" text-anchor="start" font-weight="normal" fill="#1c1c1c" stroke="#1c1c1c" stroke-width="0.1" textLength="1.9" lengthAdjust="spacingAndGlyphs" >4</text>
<text x="96.4" y="235.2" font-size="7.4" text-anchor="start" font-weight="normal" fill="#1c1c1c" stroke="#1c1c1c" stroke-width="0.14" textLength="8.6" lengthAdjust="spacingAndGlyphs" >10</text>
<text x="105.4" y="232.4" font-size="4.6" text-anchor="start" font-weight="normal" fill="#1c1c1c" stroke="#1c1c1c" stroke-width="0.1" textLength="1.8" lengthAdjust="spacingAndGlyphs" >5</text>
<text x="53.3" y="245.4" font-size="9.2" text-anchor="start" font-weight="normal" fill="#1c1c1c" stroke="#1c1c1c" stroke-width="0.16" textLength="36.3" lengthAdjust="spacingAndGlyphs" >Green JC-1</text>
<line x1="142.1" y1="148.10" x2="144.7" y2="148.10" stroke="#000" stroke-width="0.8" />
<line x1="142.1" y1="150.00" x2="144.7" y2="150.00" stroke="#000" stroke-width="0.8" />
<line x1="142.1" y1="152.00" x2="144.7" y2="152.00" stroke="#000" stroke-width="0.8" />
<line x1="142.1" y1="154.30" x2="144.7" y2="154.30" stroke="#000" stroke-width="0.8" />
<line x1="142.1" y1="157.40" x2="144.7" y2="157.40" stroke="#000" stroke-width="0.8" />
<line x1="142.1" y1="176.20" x2="144.7" y2="176.20" stroke="#000" stroke-width="0.8" />
<line x1="142.1" y1="191.38" x2="144.7" y2="191.38" stroke="#000" stroke-width="0.8" />
<line x1="142.1" y1="172.93" x2="144.7" y2="172.93" stroke="#000" stroke-width="0.8" />
<line x1="142.1" y1="188.96" x2="144.7" y2="188.96" stroke="#000" stroke-width="0.8" />
<line x1="142.1" y1="170.60" x2="144.7" y2="170.60" stroke="#000" stroke-width="0.8" />
<line x1="142.1" y1="187.25" x2="144.7" y2="187.25" stroke="#000" stroke-width="0.8" />
<line x1="142.1" y1="168.80" x2="144.7" y2="168.80" stroke="#000" stroke-width="0.8" />
<line x1="142.1" y1="185.92" x2="144.7" y2="185.92" stroke="#000" stroke-width="0.8" />
<line x1="142.1" y1="167.33" x2="144.7" y2="167.33" stroke="#000" stroke-width="0.8" />
<line x1="142.1" y1="184.84" x2="144.7" y2="184.84" stroke="#000" stroke-width="0.8" />
<line x1="142.1" y1="166.08" x2="144.7" y2="166.08" stroke="#000" stroke-width="0.8" />
<line x1="142.1" y1="183.92" x2="144.7" y2="183.92" stroke="#000" stroke-width="0.8" />
<line x1="142.1" y1="165.00" x2="144.7" y2="165.00" stroke="#000" stroke-width="0.8" />
<line x1="142.1" y1="183.13" x2="144.7" y2="183.13" stroke="#000" stroke-width="0.8" />
<line x1="142.1" y1="164.05" x2="144.7" y2="164.05" stroke="#000" stroke-width="0.8" />
<line x1="142.1" y1="182.43" x2="144.7" y2="182.43" stroke="#000" stroke-width="0.8" />
<line x1="142.1" y1="197.00" x2="144.7" y2="197.00" stroke="#000" stroke-width="0.8" />
<line x1="142.1" y1="199.40" x2="144.7" y2="199.40" stroke="#000" stroke-width="0.8" />
<line x1="142.1" y1="203.20" x2="144.7" y2="203.20" stroke="#000" stroke-width="0.8" />
<line x1="142.1" y1="205.00" x2="144.7" y2="205.00" stroke="#000" stroke-width="0.8" />
<line x1="142.1" y1="206.80" x2="144.7" y2="206.80" stroke="#000" stroke-width="0.8" />
<line x1="142.1" y1="208.60" x2="144.7" y2="208.60" stroke="#000" stroke-width="0.8" />
<line x1="142.1" y1="210.40" x2="144.7" y2="210.40" stroke="#000" stroke-width="0.8" />
<line x1="142.1" y1="214.70" x2="144.7" y2="214.70" stroke="#000" stroke-width="0.8" />
<line x1="142.1" y1="217.80" x2="144.7" y2="217.80" stroke="#000" stroke-width="0.8" />
<line x1="142.1" y1="221.00" x2="144.7" y2="221.00" stroke="#000" stroke-width="0.8" />
<line x1="141.29999999999998" y1="163.2" x2="144.7" y2="163.2" stroke="#000" stroke-width="1.3" />
<line x1="141.29999999999998" y1="181.8" x2="144.7" y2="181.8" stroke="#000" stroke-width="1.3" />
<line x1="141.29999999999998" y1="201.2" x2="144.7" y2="201.2" stroke="#000" stroke-width="1.3" />
<line x1="201.06" y1="223.4" x2="201.06" y2="226.0" stroke="#000" stroke-width="0.8" />
<line x1="180.88" y1="223.4" x2="180.88" y2="226.0" stroke="#000" stroke-width="0.8" />
<line x1="218.86" y1="223.4" x2="218.86" y2="226.0" stroke="#000" stroke-width="0.8" />
<line x1="204.19" y1="223.4" x2="204.19" y2="226.0" stroke="#000" stroke-width="0.8" />
<line x1="184.61" y1="223.4" x2="184.61" y2="226.0" stroke="#000" stroke-width="0.8" />
<line x1="206.42" y1="223.4" x2="206.42" y2="226.0" stroke="#000" stroke-width="0.8" />
<line x1="187.26" y1="223.4" x2="187.26" y2="226.0" stroke="#000" stroke-width="0.8" />
<line x1="208.14" y1="223.4" x2="208.14" y2="226.0" stroke="#000" stroke-width="0.8" />
<line x1="189.32" y1="223.4" x2="189.32" y2="226.0" stroke="#000" stroke-width="0.8" />
<line x1="209.55" y1="223.4" x2="209.55" y2="226.0" stroke="#000" stroke-width="0.8" />
<line x1="191.00" y1="223.4" x2="191.00" y2="226.0" stroke="#000" stroke-width="0.8" />
<line x1="210.74" y1="223.4" x2="210.74" y2="226.0" stroke="#000" stroke-width="0.8" />
<line x1="192.42" y1="223.4" x2="192.42" y2="226.0" stroke="#000" stroke-width="0.8" />
<line x1="211.78" y1="223.4" x2="211.78" y2="226.0" stroke="#000" stroke-width="0.8" />
<line x1="193.65" y1="223.4" x2="193.65" y2="226.0" stroke="#000" stroke-width="0.8" />
<line x1="212.69" y1="223.4" x2="212.69" y2="226.0" stroke="#000" stroke-width="0.8" />
<line x1="194.73" y1="223.4" x2="194.73" y2="226.0" stroke="#000" stroke-width="0.8" />
<line x1="148.00" y1="223.4" x2="148.00" y2="226.0" stroke="#000" stroke-width="0.8" />
<line x1="149.50" y1="223.4" x2="149.50" y2="226.0" stroke="#000" stroke-width="0.8" />
<line x1="151.00" y1="223.4" x2="151.00" y2="226.0" stroke="#000" stroke-width="0.8" />
<line x1="155.50" y1="223.4" x2="155.50" y2="226.0" stroke="#000" stroke-width="0.8" />
<line x1="157.30" y1="223.4" x2="157.30" y2="226.0" stroke="#000" stroke-width="0.8" />
<line x1="159.10" y1="223.4" x2="159.10" y2="226.0" stroke="#000" stroke-width="0.8" />
<line x1="160.90" y1="223.4" x2="160.90" y2="226.0" stroke="#000" stroke-width="0.8" />
<line x1="162.50" y1="223.4" x2="162.50" y2="226.0" stroke="#000" stroke-width="0.8" />
<line x1="165.50" y1="223.4" x2="165.50" y2="226.0" stroke="#000" stroke-width="0.8" />
<line x1="167.10" y1="223.4" x2="167.10" y2="226.0" stroke="#000" stroke-width="0.8" />
<line x1="168.70" y1="223.4" x2="168.70" y2="226.0" stroke="#000" stroke-width="0.8" />
<line x1="170.30" y1="223.4" x2="170.30" y2="226.0" stroke="#000" stroke-width="0.8" />
<line x1="171.90" y1="223.4" x2="171.90" y2="226.0" stroke="#000" stroke-width="0.8" />
<line x1="173.30" y1="223.4" x2="173.30" y2="226.0" stroke="#000" stroke-width="0.8" />
<line x1="153.5" y1="223.4" x2="153.5" y2="226.8" stroke="#000" stroke-width="1.2" />
<line x1="164.0" y1="223.4" x2="164.0" y2="226.8" stroke="#000" stroke-width="1.2" />
<line x1="174.5" y1="223.4" x2="174.5" y2="226.8" stroke="#000" stroke-width="1.2" />
<line x1="195.7" y1="223.4" x2="195.7" y2="226.8" stroke="#000" stroke-width="1.2" />
<line x1="213.5" y1="223.4" x2="213.5" y2="226.8" stroke="#000" stroke-width="1.2" />
<rect x="144.7" y="146.7" width="77.60000000000002" height="76.70000000000002" fill="none" stroke="#000" stroke-width="1.4" />
<text x="129.6" y="166.0" font-size="7.8" text-anchor="start" font-weight="normal" fill="#1c1c1c" stroke="#1c1c1c" stroke-width="0.14" textLength="6.5" lengthAdjust="spacingAndGlyphs" >10</text>
<text x="129.6" y="184.60000000000002" font-size="7.8" text-anchor="start" font-weight="normal" fill="#1c1c1c" stroke="#1c1c1c" stroke-width="0.14" textLength="6.5" lengthAdjust="spacingAndGlyphs" >10</text>
<text x="136.3" y="163.39999999999998" font-size="4.8" text-anchor="start" font-weight="normal" fill="#1c1c1c" stroke="#1c1c1c" stroke-width="0.1" textLength="2.2" lengthAdjust="spacingAndGlyphs" >5</text>
<text x="136.3" y="182.0" font-size="4.8" text-anchor="start" font-weight="normal" fill="#1c1c1c" stroke="#1c1c1c" stroke-width="0.1" textLength="2.2" lengthAdjust="spacingAndGlyphs" >4</text>
<text x="139.4" y="204.0" font-size="7.8" text-anchor="end" font-weight="normal" fill="#1c1c1c" stroke="#1c1c1c" stroke-width="0.14" textLength="3.8" lengthAdjust="spacingAndGlyphs" >0</text>
<text x="125.7" y="188.6" font-size="8.6" text-anchor="middle" font-weight="normal" fill="#1c1c1c" stroke="#1c1c1c" stroke-width="0.16" textLength="30" lengthAdjust="spacingAndGlyphs" transform="rotate(-90 125.7 188.6)" >Red JC-1</text>
<text x="140.5" y="235.2" font-size="7.4" text-anchor="start" font-weight="normal" fill="#1c1c1c" stroke="#1c1c1c" stroke-width="0.14" textLength="13.4" lengthAdjust="spacingAndGlyphs" >−10</text>
<text x="154.3" y="232.4" font-size="4.6" text-anchor="start" font-weight="normal" fill="#1c1c1c" stroke="#1c1c1c" stroke-width="0.1" textLength="1.8" lengthAdjust="spacingAndGlyphs" >3</text>
<text x="160.39999999999998" y="235.2" font-size="7.4" text-anchor="start" font-weight="normal" fill="#1c1c1c" stroke="#1c1c1c" stroke-width="0.14" textLength="3.4" lengthAdjust="spacingAndGlyphs" >0</text>
<text x="168.2" y="235.2" font-size="7.4" text-anchor="start" font-weight="normal" fill="#1c1c1c" stroke="#1c1c1c" stroke-width="0.14" textLength="8.6" lengthAdjust="spacingAndGlyphs" >10</text>
<text x="177.2" y="232.4" font-size="4.6" text-anchor="start" font-weight="normal" fill="#1c1c1c" stroke="#1c1c1c" stroke-width="0.1" textLength="1.8" lengthAdjust="spacingAndGlyphs" >3</text>
<text x="189.3" y="235.2" font-size="7.4" text-anchor="start" font-weight="normal" fill="#1c1c1c" stroke="#1c1c1c" stroke-width="0.14" textLength="9.0" lengthAdjust="spacingAndGlyphs" >10</text>
<text x="198.6" y="232.4" font-size="4.6" text-anchor="start" font-weight="normal" fill="#1c1c1c" stroke="#1c1c1c" stroke-width="0.1" textLength="1.9" lengthAdjust="spacingAndGlyphs" >4</text>
<text x="207.0" y="235.2" font-size="7.4" text-anchor="start" font-weight="normal" fill="#1c1c1c" stroke="#1c1c1c" stroke-width="0.14" textLength="8.6" lengthAdjust="spacingAndGlyphs" >10</text>
<text x="216.0" y="232.4" font-size="4.6" text-anchor="start" font-weight="normal" fill="#1c1c1c" stroke="#1c1c1c" stroke-width="0.1" textLength="1.8" lengthAdjust="spacingAndGlyphs" >5</text>
<text x="163.89999999999998" y="245.4" font-size="9.2" text-anchor="start" font-weight="normal" fill="#1c1c1c" stroke="#1c1c1c" stroke-width="0.16" textLength="36.3" lengthAdjust="spacingAndGlyphs" >Green JC-1</text>
<path d="M50.00,207.80 L49.45,207.31 L48.90,206.65 L48.38,205.90 L47.94,205.16 L47.60,204.50 L47.39,203.97 L47.30,203.51 L47.27,203.07 L47.28,202.58 L47.30,202.00 L47.33,201.30 L47.39,200.51 L47.48,199.67 L47.58,198.82 L47.70,198.00 L47.84,197.20 L48.02,196.40 L48.20,195.60 L48.37,194.80 L48.50,194.00 L48.59,193.20 L48.65,192.40 L48.70,191.60 L48.74,190.80 L48.80,190.00 L48.87,189.20 L48.95,188.40 L49.04,187.60 L49.12,186.80 L49.20,186.00 L49.27,185.20 L49.32,184.40 L49.38,183.60 L49.47,182.80 L49.60,182.00 L49.78,181.23 L50.01,180.50 L50.26,179.74 L50.53,178.93 L50.80,178.00 L51.06,176.90 L51.32,175.65 L51.60,174.35 L51.92,173.10 L52.30,172.00 L52.77,171.07 L53.31,170.26 L53.89,169.50 L54.47,168.77 L55.00,168.00 L55.49,167.20 L55.97,166.40 L56.43,165.60 L56.87,164.80 L57.30,164.00 L57.69,163.16 L58.06,162.29 L58.41,161.43 L58.78,160.65 L59.20,160.00 L59.66,159.53 L60.14,159.21 L60.65,158.95 L61.20,158.67 L61.80,158.30 L62.45,157.80 L63.16,157.24 L63.90,156.64 L64.65,156.05 L65.40,155.50 L66.13,155.01 L66.87,154.54 L67.61,154.10 L68.39,153.65 L69.20,153.20 L70.08,152.71 L71.03,152.18 L71.99,151.67 L72.92,151.23 L73.80,150.90 L74.63,150.69 L75.46,150.55 L76.23,150.50 L76.92,150.55 L77.50,150.70 L77.96,150.99 L78.34,151.40 L78.62,151.90 L78.80,152.44 L78.90,153.00 L78.88,153.57 L78.75,154.19 L78.54,154.83 L78.27,155.51 L78.00,156.20 L77.72,156.95 L77.41,157.75 L77.06,158.57 L76.66,159.33 L76.20,160.00 L75.63,160.54 L74.97,160.99 L74.28,161.39 L73.60,161.78 L73.00,162.20 L72.49,162.63 L72.04,163.06 L71.62,163.49 L71.21,163.96 L70.80,164.50 L70.39,165.12 L69.98,165.79 L69.58,166.51 L69.19,167.25 L68.80,168.00 L68.39,168.77 L67.97,169.56 L67.56,170.38 L67.20,171.19 L66.90,172.00 L66.70,172.77 L66.57,173.50 L66.48,174.26 L66.41,175.07 L66.30,176.00 L66.17,177.10 L66.04,178.35 L65.91,179.65 L65.76,180.90 L65.60,182.00 L65.42,182.93 L65.21,183.74 L65.00,184.50 L64.79,185.23 L64.60,186.00 L64.43,186.80 L64.27,187.60 L64.11,188.40 L63.96,189.20 L63.80,190.00 L63.64,190.80 L63.48,191.60 L63.31,192.40 L63.15,193.20 L63.00,194.00 L62.87,194.80 L62.75,195.60 L62.63,196.40 L62.49,197.20 L62.30,198.00 L62.05,198.82 L61.74,199.65 L61.42,200.47 L61.09,201.26 L60.80,202.00 L60.58,202.67 L60.41,203.29 L60.24,203.88 L59.99,204.44 L59.60,205.00 L59.02,205.58 L58.30,206.16 L57.51,206.72 L56.72,207.21 L56.00,207.60 L55.36,207.86 L54.76,208.03 L54.17,208.13 L53.59,208.18 L53.00,208.20 L52.39,208.23 L51.77,208.25 L51.16,208.22 L50.56,208.08 Z" fill="#e6e6e6" stroke="none"/>
<path d="M50.00,207.80 L49.45,207.31 L48.90,206.65 L48.38,205.90 L47.94,205.16 L47.60,204.50 L47.39,203.97 L47.30,203.51 L47.27,203.07 L47.28,202.58 L47.30,202.00 L47.33,201.30 L47.39,200.51 L47.48,199.67 L47.58,198.82 L47.70,198.00 L47.84,197.20 L48.02,196.40 L48.20,195.60 L48.37,194.80 L48.50,194.00 L48.59,193.20 L48.65,192.40 L48.70,191.60 L48.74,190.80 L48.80,190.00 L48.87,189.20 L48.95,188.40 L49.04,187.60 L49.12,186.80 L49.20,186.00 L49.27,185.20 L49.32,184.40 L49.38,183.60 L49.47,182.80 L49.60,182.00 L49.78,181.23 L50.01,180.50 L50.26,179.74 L50.53,178.93 L50.80,178.00 L51.06,176.90 L51.32,175.65 L51.60,174.35 L51.92,173.10 L52.30,172.00 L52.77,171.07 L53.31,170.26 L53.89,169.50 L54.47,168.77 L55.00,168.00 L55.49,167.20 L55.97,166.40 L56.43,165.60 L56.87,164.80 L57.30,164.00 L57.69,163.16 L58.06,162.29 L58.41,161.43 L58.78,160.65 L59.20,160.00 L59.66,159.53 L60.14,159.21 L60.65,158.95 L61.20,158.67 L61.80,158.30 L62.45,157.80 L63.16,157.24 L63.90,156.64 L64.65,156.05 L65.40,155.50 L66.13,155.01 L66.87,154.54 L67.61,154.10 L68.39,153.65 L69.20,153.20 L70.08,152.71 L71.03,152.18 L71.99,151.67 L72.92,151.23 L73.80,150.90 L74.63,150.69 L75.46,150.55 L76.23,150.50 L76.92,150.55 L77.50,150.70 L77.96,150.99 L78.34,151.40 L78.62,151.90 L78.80,152.44 L78.90,153.00 L78.88,153.57 L78.75,154.19 L78.54,154.83 L78.27,155.51 L78.00,156.20 L77.72,156.95 L77.41,157.75 L77.06,158.57 L76.66,159.33 L76.20,160.00 L75.63,160.54 L74.97,160.99 L74.28,161.39 L73.60,161.78 L73.00,162.20 L72.49,162.63 L72.04,163.06 L71.62,163.49 L71.21,163.96 L70.80,164.50 L70.39,165.12 L69.98,165.79 L69.58,166.51 L69.19,167.25 L68.80,168.00 L68.39,168.77 L67.97,169.56 L67.56,170.38 L67.20,171.19 L66.90,172.00 L66.70,172.77 L66.57,173.50 L66.48,174.26 L66.41,175.07 L66.30,176.00 L66.17,177.10 L66.04,178.35 L65.91,179.65 L65.76,180.90 L65.60,182.00 L65.42,182.93 L65.21,183.74 L65.00,184.50 L64.79,185.23 L64.60,186.00 L64.43,186.80 L64.27,187.60 L64.11,188.40 L63.96,189.20 L63.80,190.00 L63.64,190.80 L63.48,191.60 L63.31,192.40 L63.15,193.20 L63.00,194.00 L62.87,194.80 L62.75,195.60 L62.63,196.40 L62.49,197.20 L62.30,198.00 L62.05,198.82 L61.74,199.65 L61.42,200.47 L61.09,201.26 L60.80,202.00 L60.58,202.67 L60.41,203.29 L60.24,203.88 L59.99,204.44 L59.60,205.00 L59.02,205.58 L58.30,206.16 L57.51,206.72 L56.72,207.21 L56.00,207.60 L55.36,207.86 L54.76,208.03 L54.17,208.13 L53.59,208.18 L53.00,208.20 L52.39,208.23 L51.77,208.25 L51.16,208.22 L50.56,208.08 Z" fill="none" stroke="#1a1a1a" stroke-width="0.5"/>
<path d="M50.44,207.14 L50.00,206.75 L49.56,206.22 L49.14,205.62 L48.79,205.02 L48.52,204.47 L48.35,203.94 L48.27,203.48 L48.25,203.04 L48.25,202.55 L48.26,201.97 L48.28,201.27 L48.33,200.48 L48.39,199.64 L48.47,198.80 L48.56,198.00 L48.68,197.24 L48.83,196.44 L48.98,195.64 L49.12,194.84 L49.24,194.04 L49.32,193.24 L49.38,192.44 L49.42,191.64 L49.46,190.84 L49.52,190.04 L49.59,189.32 L49.68,188.53 L49.77,187.73 L49.86,186.93 L49.96,186.13 L50.04,185.33 L50.11,184.54 L50.19,183.74 L50.28,182.94 L50.42,182.14 L50.59,181.39 L50.77,180.78 L51.03,180.03 L51.30,179.21 L51.59,178.29 L51.87,177.19 L52.17,175.96 L52.48,174.68 L52.78,173.60 L53.20,172.52 L53.68,171.60 L54.21,170.77 L54.80,169.94 L55.34,169.18 L55.85,168.40 L56.32,167.59 L56.78,166.79 L57.22,166.01 L57.66,165.21 L58.08,164.41 L58.49,163.58 L58.86,162.71 L59.19,161.95 L59.54,161.25 L59.97,160.61 L60.42,160.13 L60.87,159.79 L61.35,159.50 L61.86,159.19 L62.42,158.79 L63.02,158.28 L63.65,157.77 L64.38,157.17 L65.12,156.57 L65.86,156.01 L66.58,155.50 L67.20,155.09 L67.94,154.65 L68.71,154.20 L69.52,153.74 L70.40,153.24 L71.34,152.71 L72.29,152.20 L73.18,151.78 L74.05,151.44 L74.87,151.19 L75.67,151.02 L76.42,150.92 L77.06,150.92 L77.52,151.04 L77.89,151.27 L78.19,151.60 L78.41,152.00 L78.56,152.43 L78.64,152.88 L78.63,153.34 L78.52,153.83 L78.32,154.36 L78.01,154.94 L77.70,155.54 L77.37,156.19 L77.01,156.89 L76.61,157.59 L76.17,158.26 L75.55,158.92 L74.97,159.43 L74.30,159.88 L73.61,160.28 L72.93,160.67 L72.33,161.08 L71.81,161.50 L71.15,162.07 L70.72,162.50 L70.30,162.96 L69.88,163.48 L69.28,164.24 L68.86,164.91 L68.44,165.61 L68.03,166.33 L67.61,167.06 L67.05,168.06 L66.62,168.86 L66.21,169.67 L65.84,170.48 L65.50,171.33 L65.27,172.09 L65.10,172.81 L64.97,173.54 L64.84,174.33 L64.70,175.20 L64.55,176.17 L64.33,177.37 L64.10,178.61 L63.72,180.15 L63.52,181.24 L63.31,182.16 L63.09,182.96 L62.86,183.71 L62.55,184.84 L62.37,185.61 L62.20,186.41 L62.04,187.21 L61.89,188.01 L61.74,188.81 L61.59,189.61 L61.43,190.41 L61.25,191.49 L61.11,192.29 L60.98,193.09 L60.85,193.89 L60.73,194.69 L60.63,195.49 L60.53,196.29 L60.40,197.10 L60.25,197.90 L60.04,198.88 L59.81,199.71 L59.55,200.53 L59.30,201.32 L59.07,202.05 L58.89,202.72 L58.77,203.34 L58.63,203.93 L58.43,204.45 L58.12,204.90 L57.66,205.36 L57.08,205.83 L56.45,206.28 L55.82,206.67 L55.24,206.98 L54.73,207.19 L54.25,207.33 L53.78,207.40 L53.31,207.44 L52.84,207.46 L52.35,207.48 L51.86,207.50 L51.37,207.47 L50.89,207.37 Z" fill="none" stroke="#1a1a1a" stroke-width="0.5"/>
<path d="M50.84,206.55 L50.49,206.24 L50.15,205.83 L49.83,205.37 L49.56,204.91 L49.35,204.45 L49.21,203.92 L49.15,203.46 L49.12,203.01 L49.13,202.53 L49.13,201.94 L49.14,201.24 L49.17,200.45 L49.21,199.62 L49.27,198.77 L49.33,198.00 L49.43,197.28 L49.56,196.48 L49.68,195.67 L49.80,194.87 L49.90,194.07 L49.97,193.27 L50.03,192.47 L50.07,191.67 L50.11,190.87 L50.16,190.07 L50.23,189.44 L50.33,188.64 L50.43,187.84 L50.53,187.05 L50.64,186.25 L50.73,185.46 L50.82,184.66 L50.91,183.87 L51.01,183.07 L51.15,182.27 L51.31,181.52 L51.46,181.03 L51.72,180.28 L52.00,179.47 L52.30,178.55 L52.61,177.46 L52.93,176.24 L53.27,174.98 L53.56,174.05 L54.01,172.99 L54.50,172.07 L55.02,171.24 L55.63,170.33 L56.13,169.56 L56.61,168.77 L57.07,167.95 L57.52,167.14 L57.93,166.39 L58.36,165.58 L58.79,164.78 L59.20,163.95 L59.59,163.09 L59.89,162.41 L60.22,161.79 L60.66,161.16 L61.10,160.67 L61.53,160.31 L61.97,159.99 L62.45,159.65 L62.97,159.22 L63.53,158.71 L64.09,158.26 L64.81,157.65 L65.55,157.04 L66.27,156.46 L66.97,155.93 L67.49,155.59 L68.24,155.14 L69.01,154.69 L69.82,154.23 L70.69,153.72 L71.63,153.19 L72.56,152.67 L73.41,152.27 L74.27,151.92 L75.08,151.65 L75.87,151.44 L76.60,151.29 L77.18,151.25 L77.54,151.35 L77.83,151.52 L78.06,151.78 L78.23,152.09 L78.35,152.43 L78.41,152.77 L78.39,153.13 L78.31,153.51 L78.12,153.94 L77.78,154.44 L77.42,154.95 L77.05,155.51 L76.65,156.11 L76.21,156.72 L75.72,157.30 L74.97,157.95 L74.37,158.44 L73.70,158.87 L73.01,159.28 L72.33,159.67 L71.73,160.08 L71.20,160.47 L70.34,161.19 L69.91,161.61 L69.49,162.06 L69.04,162.56 L68.29,163.46 L67.85,164.11 L67.42,164.79 L66.98,165.50 L66.54,166.22 L65.83,167.42 L65.41,168.22 L65.00,169.03 L64.61,169.84 L64.23,170.73 L63.98,171.48 L63.79,172.18 L63.61,172.89 L63.44,173.66 L63.26,174.48 L63.09,175.33 L62.79,176.48 L62.48,177.68 L61.89,179.48 L61.65,180.55 L61.41,181.46 L61.18,182.26 L60.94,183.01 L60.53,184.49 L60.36,185.26 L60.20,186.06 L60.05,186.86 L59.90,187.66 L59.75,188.46 L59.60,189.26 L59.44,190.07 L59.25,191.39 L59.13,192.19 L59.02,192.99 L58.91,193.80 L58.81,194.60 L58.72,195.40 L58.63,196.20 L58.53,197.00 L58.40,197.80 L58.24,198.93 L58.06,199.76 L57.87,200.58 L57.68,201.37 L57.51,202.10 L57.38,202.77 L57.28,203.39 L57.18,203.97 L57.03,204.46 L56.79,204.81 L56.43,205.17 L55.98,205.53 L55.49,205.88 L55.00,206.18 L54.56,206.42 L54.16,206.59 L53.79,206.69 L53.42,206.75 L53.06,206.78 L52.70,206.79 L52.32,206.81 L51.93,206.83 L51.55,206.80 L51.18,206.72 Z" fill="none" stroke="#1a1a1a" stroke-width="0.5"/>
<path d="M51.14,206.08 L50.88,205.85 L50.61,205.53 L50.37,205.17 L50.15,204.81 L49.99,204.43 L49.88,203.90 L49.83,203.44 L49.81,202.99 L49.81,202.51 L49.81,201.92 L49.81,201.22 L49.83,200.43 L49.85,199.60 L49.89,198.75 L49.94,198.00 L50.02,197.31 L50.12,196.51 L50.23,195.70 L50.33,194.90 L50.42,194.10 L50.48,193.29 L50.53,192.49 L50.58,191.69 L50.62,190.89 L50.67,190.09 L50.72,189.52 L50.83,188.73 L50.94,187.93 L51.06,187.14 L51.17,186.34 L51.27,185.55 L51.37,184.76 L51.47,183.97 L51.58,183.17 L51.72,182.37 L51.87,181.63 L52.00,181.23 L52.26,180.48 L52.54,179.67 L52.85,178.75 L53.17,177.67 L53.52,176.46 L53.89,175.21 L54.16,174.40 L54.64,173.35 L55.14,172.43 L55.65,171.60 L56.26,170.63 L56.74,169.85 L57.21,169.05 L57.65,168.23 L58.09,167.41 L58.48,166.68 L58.91,165.87 L59.34,165.07 L59.75,164.24 L60.15,163.39 L60.43,162.77 L60.76,162.21 L61.20,161.58 L61.64,161.09 L62.05,160.71 L62.46,160.37 L62.90,160.01 L63.40,159.56 L63.93,159.05 L64.43,158.64 L65.15,158.02 L65.88,157.40 L66.59,156.82 L67.28,156.27 L67.72,155.97 L68.47,155.52 L69.24,155.07 L70.04,154.61 L70.92,154.10 L71.85,153.56 L72.77,153.04 L73.59,152.66 L74.45,152.30 L75.25,152.01 L76.02,151.77 L76.73,151.58 L77.27,151.51 L77.55,151.58 L77.77,151.72 L77.95,151.92 L78.09,152.16 L78.18,152.42 L78.22,152.69 L78.22,152.96 L78.15,153.26 L77.97,153.61 L77.60,154.04 L77.21,154.49 L76.81,154.98 L76.37,155.50 L75.89,156.03 L75.37,156.55 L74.52,157.20 L73.91,157.67 L73.24,158.09 L72.54,158.50 L71.87,158.90 L71.26,159.29 L70.72,159.68 L69.72,160.50 L69.29,160.92 L68.85,161.36 L68.40,161.85 L67.51,162.85 L67.07,163.49 L66.62,164.16 L66.16,164.86 L65.71,165.56 L64.89,166.93 L64.47,167.73 L64.05,168.53 L63.66,169.34 L63.25,170.27 L62.98,171.00 L62.76,171.69 L62.56,172.39 L62.35,173.14 L62.14,173.92 L61.95,174.68 L61.59,175.79 L61.22,176.95 L60.46,178.95 L60.19,180.02 L59.94,180.92 L59.69,181.72 L59.45,182.46 L58.96,184.21 L58.80,184.98 L58.64,185.79 L58.49,186.59 L58.34,187.39 L58.20,188.19 L58.05,188.99 L57.90,189.80 L57.69,191.31 L57.59,192.11 L57.49,192.92 L57.40,193.72 L57.31,194.52 L57.24,195.32 L57.16,196.13 L57.07,196.93 L56.96,197.73 L56.84,198.98 L56.71,199.80 L56.56,200.62 L56.42,201.41 L56.29,202.14 L56.20,202.81 L56.13,203.42 L56.05,204.01 L55.94,204.47 L55.75,204.74 L55.48,205.02 L55.13,205.30 L54.75,205.57 L54.37,205.80 L54.02,205.99 L53.72,206.11 L53.43,206.20 L53.15,206.24 L52.87,206.26 L52.58,206.28 L52.29,206.29 L51.99,206.30 L51.70,206.28 L51.41,206.22 Z" fill="none" stroke="#1a1a1a" stroke-width="0.5"/>
<path d="M51.39,205.72 L51.18,205.54 L50.98,205.30 L50.79,205.02 L50.62,204.74 L50.50,204.41 L50.41,203.88 L50.36,203.42 L50.34,202.97 L50.34,202.49 L50.34,201.91 L50.33,201.20 L50.34,200.42 L50.36,199.58 L50.38,198.74 L50.41,198.00 L50.48,197.33 L50.57,196.53 L50.66,195.72 L50.75,194.92 L50.83,194.12 L50.88,193.31 L50.93,192.51 L50.97,191.71 L51.02,190.91 L51.06,190.11 L51.11,189.59 L51.23,188.80 L51.35,188.00 L51.47,187.21 L51.58,186.42 L51.70,185.62 L51.80,184.83 L51.91,184.04 L52.03,183.25 L52.17,182.45 L52.31,181.72 L52.42,181.38 L52.69,180.63 L52.97,179.82 L53.28,178.91 L53.62,177.83 L53.99,176.63 L54.37,175.39 L54.64,174.67 L55.14,173.63 L55.64,172.72 L56.15,171.89 L56.77,170.87 L57.23,170.08 L57.67,169.27 L58.11,168.44 L58.53,167.62 L58.91,166.90 L59.35,166.10 L59.77,165.30 L60.19,164.47 L60.60,163.62 L60.86,163.05 L61.17,162.54 L61.63,161.92 L62.05,161.42 L62.45,161.03 L62.84,160.67 L63.26,160.30 L63.74,159.83 L64.25,159.31 L64.70,158.93 L65.41,158.31 L66.14,157.69 L66.84,157.09 L67.52,156.54 L67.91,156.27 L68.65,155.83 L69.42,155.37 L70.22,154.90 L71.10,154.39 L72.03,153.85 L72.94,153.33 L73.73,152.96 L74.58,152.59 L75.38,152.29 L76.14,152.02 L76.84,151.81 L77.35,151.71 L77.56,151.77 L77.73,151.88 L77.87,152.03 L77.98,152.21 L78.05,152.42 L78.08,152.62 L78.07,152.83 L78.03,153.06 L77.85,153.35 L77.45,153.73 L77.04,154.13 L76.61,154.56 L76.15,155.02 L75.64,155.50 L75.10,155.96 L74.17,156.61 L73.54,157.06 L72.87,157.48 L72.18,157.89 L71.50,158.29 L70.89,158.68 L70.34,159.05 L69.23,159.96 L68.79,160.37 L68.35,160.81 L67.89,161.29 L66.91,162.37 L66.45,163.00 L65.99,163.67 L65.52,164.35 L65.05,165.04 L64.15,166.54 L63.73,167.34 L63.31,168.14 L62.91,168.94 L62.48,169.90 L62.19,170.63 L61.95,171.31 L61.73,172.00 L61.49,172.74 L61.26,173.48 L61.05,174.16 L60.65,175.25 L60.22,176.38 L59.34,178.54 L59.05,179.60 L58.78,180.49 L58.52,181.29 L58.27,182.03 L57.73,184.00 L57.57,184.77 L57.42,185.57 L57.27,186.38 L57.12,187.18 L56.98,187.98 L56.83,188.78 L56.68,189.58 L56.46,191.25 L56.38,192.05 L56.30,192.86 L56.21,193.66 L56.14,194.46 L56.07,195.27 L56.00,196.07 L55.92,196.87 L55.83,197.68 L55.74,199.01 L55.64,199.84 L55.54,200.65 L55.43,201.44 L55.34,202.17 L55.27,202.83 L55.22,203.45 L55.17,204.03 L55.08,204.48 L54.94,204.69 L54.72,204.90 L54.46,205.12 L54.17,205.32 L53.87,205.50 L53.61,205.65 L53.37,205.74 L53.15,205.81 L52.93,205.84 L52.71,205.86 L52.50,205.87 L52.27,205.88 L52.04,205.89 L51.81,205.88 L51.59,205.83 Z" fill="none" stroke="#1a1a1a" stroke-width="0.5"/>
<path d="M51.58,205.42 L51.43,205.29 L51.27,205.10 L51.13,204.89 L51.01,204.68 L50.91,204.40 L50.84,203.87 L50.80,203.41 L50.78,202.96 L50.78,202.48 L50.77,201.89 L50.76,201.19 L50.76,200.40 L50.77,199.57 L50.78,198.73 L50.80,198.00 L50.86,197.35 L50.93,196.55 L51.01,195.74 L51.09,194.94 L51.16,194.13 L51.21,193.33 L51.26,192.53 L51.30,191.73 L51.34,190.93 L51.39,190.13 L51.43,189.65 L51.56,188.86 L51.68,188.06 L51.80,187.27 L51.92,186.48 L52.04,185.69 L52.16,184.90 L52.27,184.11 L52.40,183.31 L52.53,182.51 L52.68,181.78 L52.76,181.51 L53.03,180.76 L53.32,179.95 L53.63,179.04 L53.99,177.97 L54.37,176.77 L54.77,175.54 L55.03,174.89 L55.55,173.87 L56.05,172.96 L56.55,172.12 L57.18,171.07 L57.62,170.27 L58.05,169.45 L58.48,168.62 L58.90,167.79 L59.27,167.09 L59.70,166.28 L60.12,165.48 L60.54,164.66 L60.96,163.81 L61.21,163.28 L61.51,162.81 L61.98,162.19 L62.40,161.69 L62.78,161.29 L63.15,160.92 L63.56,160.53 L64.02,160.05 L64.50,159.53 L64.92,159.17 L65.63,158.55 L66.35,157.92 L67.05,157.32 L67.72,156.76 L68.05,156.52 L68.80,156.07 L69.57,155.62 L70.37,155.15 L71.24,154.64 L72.17,154.09 L73.08,153.56 L73.84,153.21 L74.70,152.83 L75.48,152.52 L76.24,152.24 L76.93,152.00 L77.41,151.88 L77.57,151.92 L77.70,152.00 L77.81,152.12 L77.88,152.26 L77.94,152.41 L77.96,152.57 L77.96,152.73 L77.92,152.90 L77.75,153.13 L77.34,153.48 L76.91,153.84 L76.46,154.22 L75.97,154.63 L75.44,155.06 L74.88,155.48 L73.87,156.12 L73.24,156.56 L72.57,156.98 L71.88,157.39 L71.20,157.79 L70.59,158.18 L70.04,158.54 L68.83,159.51 L68.39,159.93 L67.94,160.36 L67.47,160.83 L66.41,161.98 L65.95,162.61 L65.48,163.26 L65.00,163.94 L64.52,164.62 L63.54,166.22 L63.12,167.02 L62.70,167.82 L62.30,168.62 L61.85,169.60 L61.55,170.32 L61.29,171.00 L61.05,171.67 L60.79,172.40 L60.54,173.12 L60.32,173.74 L59.88,174.81 L59.41,175.91 L58.43,178.21 L58.11,179.25 L57.83,180.15 L57.56,180.94 L57.31,181.68 L56.72,183.82 L56.57,184.59 L56.42,185.40 L56.27,186.20 L56.13,187.00 L55.98,187.80 L55.84,188.61 L55.69,189.41 L55.46,191.20 L55.39,192.00 L55.32,192.81 L55.24,193.61 L55.18,194.42 L55.12,195.22 L55.05,196.02 L54.98,196.82 L54.90,197.63 L54.84,199.04 L54.77,199.86 L54.70,200.68 L54.62,201.46 L54.56,202.19 L54.51,202.86 L54.48,203.47 L54.44,204.06 L54.38,204.48 L54.27,204.64 L54.11,204.80 L53.91,204.97 L53.69,205.12 L53.47,205.26 L53.26,205.37 L53.09,205.44 L52.92,205.49 L52.75,205.52 L52.59,205.53 L52.42,205.54 L52.25,205.54 L52.08,205.55 L51.91,205.54 L51.74,205.50 Z" fill="none" stroke="#1a1a1a" stroke-width="0.5"/>
<path d="M51.76,205.16 L51.65,205.06 L51.54,204.93 L51.44,204.78 L51.35,204.63 L51.28,204.39 L51.22,203.86 L51.19,203.39 L51.17,202.95 L51.17,202.46 L51.15,201.88 L51.14,201.18 L51.14,200.39 L51.13,199.56 L51.13,198.71 L51.14,198.00 L51.19,197.37 L51.26,196.56 L51.33,195.76 L51.39,194.95 L51.45,194.15 L51.50,193.35 L51.55,192.54 L51.59,191.74 L51.63,190.94 L51.67,190.14 L51.72,189.70 L51.85,188.91 L51.97,188.11 L52.10,187.32 L52.23,186.53 L52.35,185.74 L52.47,184.95 L52.59,184.16 L52.72,183.37 L52.86,182.57 L53.00,181.85 L53.07,181.62 L53.34,180.87 L53.63,180.07 L53.95,179.15 L54.31,178.09 L54.71,176.89 L55.12,175.67 L55.37,175.09 L55.91,174.07 L56.42,173.17 L56.91,172.33 L57.54,171.24 L57.97,170.43 L58.39,169.61 L58.81,168.78 L59.23,167.95 L59.58,167.26 L60.01,166.45 L60.44,165.65 L60.86,164.82 L61.28,163.98 L61.52,163.49 L61.82,163.05 L62.28,162.43 L62.70,161.93 L63.07,161.52 L63.43,161.14 L63.82,160.74 L64.26,160.25 L64.73,159.72 L65.11,159.39 L65.82,158.76 L66.54,158.13 L67.23,157.52 L67.90,156.96 L68.19,156.74 L68.93,156.29 L69.70,155.84 L70.50,155.36 L71.37,154.85 L72.30,154.30 L73.20,153.77 L73.94,153.43 L74.80,153.05 L75.58,152.72 L76.32,152.42 L77.00,152.17 L77.46,152.03 L77.58,152.06 L77.67,152.12 L77.75,152.20 L77.80,152.30 L77.84,152.41 L77.86,152.52 L77.86,152.63 L77.83,152.76 L77.66,152.95 L77.23,153.26 L76.78,153.58 L76.32,153.92 L75.80,154.29 L75.26,154.67 L74.68,155.05 L73.62,155.69 L72.98,156.12 L72.30,156.54 L71.61,156.95 L70.94,157.34 L70.32,157.73 L69.76,158.09 L68.47,159.12 L68.03,159.53 L67.58,159.96 L67.10,160.42 L65.97,161.63 L65.50,162.25 L65.02,162.90 L64.53,163.57 L64.04,164.24 L63.00,165.94 L62.58,166.74 L62.16,167.54 L61.76,168.34 L61.29,169.33 L60.98,170.05 L60.71,170.72 L60.44,171.39 L60.16,172.11 L59.90,172.80 L59.67,173.37 L59.19,174.41 L58.69,175.50 L57.61,177.91 L57.28,178.95 L56.98,179.84 L56.71,180.63 L56.46,181.36 L55.82,183.66 L55.67,184.44 L55.53,185.24 L55.38,186.05 L55.24,186.85 L55.09,187.65 L54.95,188.45 L54.81,189.25 L54.57,191.15 L54.51,191.96 L54.44,192.76 L54.38,193.57 L54.32,194.37 L54.27,195.18 L54.21,195.98 L54.15,196.78 L54.08,197.59 L54.04,199.06 L54.00,199.89 L53.95,200.70 L53.91,201.49 L53.87,202.21 L53.84,202.88 L53.82,203.49 L53.80,204.07 L53.76,204.49 L53.68,204.60 L53.56,204.72 L53.42,204.83 L53.26,204.94 L53.10,205.04 L52.96,205.12 L52.83,205.17 L52.71,205.21 L52.59,205.23 L52.48,205.24 L52.36,205.24 L52.24,205.25 L52.11,205.25 L51.99,205.24 L51.87,205.22 Z" fill="none" stroke="#1a1a1a" stroke-width="0.5"/>
<path d="M51.91,204.93 L51.84,204.87 L51.77,204.78 L51.70,204.68 L51.65,204.59 L51.60,204.38 L51.56,203.84 L51.53,203.38 L51.52,202.94 L51.51,202.45 L51.49,201.87 L51.48,201.17 L51.46,200.38 L51.45,199.55 L51.44,198.71 L51.44,198.00 L51.49,197.38 L51.54,196.58 L51.60,195.77 L51.66,194.96 L51.71,194.16 L51.76,193.36 L51.80,192.56 L51.84,191.76 L51.88,190.96 L51.92,190.16 L51.97,189.74 L52.10,188.95 L52.23,188.16 L52.36,187.37 L52.49,186.58 L52.62,185.79 L52.75,185.00 L52.88,184.21 L53.01,183.42 L53.15,182.62 L53.28,181.90 L53.34,181.72 L53.61,180.97 L53.90,180.16 L54.23,179.26 L54.60,178.19 L55.01,177.00 L55.43,175.79 L55.68,175.26 L56.22,174.26 L56.73,173.35 L57.23,172.51 L57.86,171.39 L58.28,170.58 L58.69,169.75 L59.10,168.92 L59.51,168.08 L59.86,167.40 L60.29,166.59 L60.71,165.79 L61.14,164.97 L61.56,164.13 L61.79,163.67 L62.08,163.26 L62.55,162.65 L62.97,162.14 L63.33,161.72 L63.67,161.33 L64.05,160.92 L64.48,160.42 L64.93,159.89 L65.28,159.58 L65.99,158.95 L66.70,158.31 L67.40,157.70 L68.05,157.13 L68.30,156.93 L69.05,156.49 L69.81,156.03 L70.61,155.55 L71.48,155.04 L72.41,154.49 L73.30,153.96 L74.03,153.62 L74.88,153.24 L75.66,152.90 L76.40,152.59 L77.07,152.32 L77.51,152.16 L77.59,152.18 L77.65,152.22 L77.70,152.27 L77.73,152.33 L77.76,152.41 L77.77,152.48 L77.77,152.55 L77.75,152.63 L77.58,152.78 L77.14,153.06 L76.68,153.35 L76.19,153.65 L75.66,153.98 L75.10,154.33 L74.51,154.68 L73.39,155.32 L72.75,155.73 L72.07,156.15 L71.38,156.56 L70.71,156.96 L70.08,157.34 L69.53,157.69 L68.16,158.77 L67.72,159.18 L67.26,159.61 L66.78,160.07 L65.58,161.32 L65.11,161.94 L64.62,162.59 L64.12,163.25 L63.62,163.91 L62.53,165.69 L62.11,166.49 L61.69,167.29 L61.28,168.09 L60.80,169.10 L60.48,169.81 L60.19,170.47 L59.91,171.13 L59.62,171.85 L59.34,172.52 L59.11,173.04 L58.59,174.07 L58.06,175.14 L56.90,177.65 L56.55,178.68 L56.25,179.57 L55.97,180.36 L55.71,181.09 L55.04,183.52 L54.89,184.30 L54.75,185.11 L54.60,185.91 L54.46,186.71 L54.32,187.51 L54.18,188.32 L54.03,189.12 L53.79,191.12 L53.74,191.92 L53.68,192.73 L53.63,193.53 L53.58,194.34 L53.53,195.14 L53.47,195.94 L53.42,196.75 L53.36,197.55 L53.34,199.08 L53.32,199.91 L53.30,200.72 L53.28,201.50 L53.26,202.23 L53.25,202.90 L53.24,203.51 L53.23,204.09 L53.21,204.49 L53.16,204.56 L53.09,204.64 L52.99,204.72 L52.89,204.79 L52.79,204.85 L52.69,204.90 L52.61,204.94 L52.53,204.96 L52.46,204.97 L52.38,204.98 L52.30,204.98 L52.22,204.98 L52.14,204.99 L52.06,204.98 L51.99,204.97 Z" fill="none" stroke="#1a1a1a" stroke-width="0.5"/>
<path d="M52.05,204.73 L52.01,204.70 L51.97,204.65 L51.93,204.60 L51.90,204.55 L51.87,204.37 L51.84,203.84 L51.82,203.38 L51.81,202.93 L51.80,202.44 L51.78,201.86 L51.76,201.16 L51.74,200.37 L51.73,199.54 L51.71,198.70 L51.70,198.00 L51.74,197.39 L51.79,196.59 L51.84,195.78 L51.89,194.98 L51.93,194.17 L51.98,193.37 L52.02,192.57 L52.06,191.77 L52.10,190.97 L52.14,190.17 L52.18,189.78 L52.32,188.99 L52.45,188.20 L52.58,187.41 L52.72,186.62 L52.85,185.83 L52.98,185.04 L53.12,184.25 L53.25,183.46 L53.39,182.66 L53.52,181.95 L53.57,181.80 L53.84,181.06 L54.13,180.25 L54.46,179.34 L54.84,178.28 L55.26,177.09 L55.69,175.88 L55.93,175.41 L56.49,174.41 L57.01,173.51 L57.50,172.66 L58.14,171.52 L58.54,170.70 L58.95,169.87 L59.35,169.03 L59.76,168.20 L60.10,167.53 L60.52,166.72 L60.95,165.91 L61.37,165.09 L61.80,164.26 L62.03,163.82 L62.31,163.44 L62.79,162.83 L63.19,162.32 L63.55,161.89 L63.88,161.50 L64.24,161.07 L64.66,160.56 L65.10,160.03 L65.43,159.74 L66.13,159.11 L66.85,158.47 L67.53,157.85 L68.19,157.27 L68.40,157.10 L69.15,156.65 L69.91,156.19 L70.71,155.72 L71.58,155.20 L72.50,154.64 L73.39,154.12 L74.11,153.78 L74.96,153.40 L75.73,153.05 L76.46,152.73 L77.13,152.44 L77.55,152.27 L77.59,152.28 L77.63,152.30 L77.65,152.33 L77.67,152.36 L77.68,152.40 L77.69,152.44 L77.69,152.48 L77.68,152.53 L77.52,152.64 L77.06,152.89 L76.59,153.15 L76.09,153.42 L75.54,153.72 L74.96,154.04 L74.36,154.36 L73.20,154.99 L72.55,155.40 L71.87,155.81 L71.18,156.22 L70.51,156.62 L69.88,157.00 L69.32,157.35 L67.89,158.48 L67.45,158.89 L66.99,159.31 L66.50,159.76 L65.25,161.06 L64.77,161.68 L64.28,162.32 L63.77,162.97 L63.27,163.63 L62.13,165.48 L61.71,166.28 L61.29,167.08 L60.87,167.87 L60.37,168.90 L60.05,169.61 L59.75,170.27 L59.46,170.92 L59.15,171.62 L58.86,172.28 L58.62,172.76 L58.08,173.77 L57.52,174.82 L56.29,177.42 L55.93,178.45 L55.61,179.33 L55.33,180.12 L55.07,180.85 L54.36,183.41 L54.22,184.18 L54.08,184.99 L53.94,185.79 L53.80,186.59 L53.65,187.40 L53.51,188.20 L53.37,189.00 L53.13,191.08 L53.08,191.89 L53.03,192.69 L52.98,193.50 L52.93,194.30 L52.89,195.11 L52.84,195.91 L52.80,196.72 L52.74,197.52 L52.74,199.10 L52.74,199.93 L52.74,200.74 L52.74,201.52 L52.74,202.25 L52.74,202.91 L52.75,203.53 L52.75,204.11 L52.75,204.50 L52.72,204.53 L52.68,204.58 L52.63,204.62 L52.57,204.66 L52.52,204.69 L52.47,204.72 L52.42,204.74 L52.38,204.75 L52.34,204.75 L52.30,204.76 L52.26,204.76 L52.21,204.76 L52.17,204.76 L52.13,204.76 L52.09,204.75 Z" fill="none" stroke="#1a1a1a" stroke-width="0.5"/>
<path d="M54.00,172.80 L54.13,171.53 L54.78,169.72 L55.50,168.00 L56.16,166.61 L56.89,165.30 L57.60,164.00 L58.25,162.61 L58.89,161.21 L59.60,160.00 L60.39,159.08 L61.25,158.34 L62.20,157.60 L63.26,156.79 L64.41,155.99 L65.60,155.20 L66.81,154.45 L68.07,153.72 L69.40,153.00 L70.85,152.22 L72.36,151.46 L73.80,150.90 L75.17,150.60 L76.46,150.51 L77.50,150.70 L78.28,151.36 L78.80,152.30 L78.90,153.00 L78.46,153.15 L77.60,153.06 L76.50,153.20 L75.16,153.77 L73.58,154.56 L72.00,155.40 L70.46,156.22 L68.93,157.09 L67.50,158.00 L66.23,158.96 L65.08,159.96 L64.00,161.00 L62.99,162.09 L62.06,163.22 L61.20,164.40 L60.41,165.61 L59.68,166.86 L59.00,168.20 L58.42,169.84 L57.89,171.58 L57.20,172.80 L56.06,173.32 L54.77,173.33 Z" fill="#000" stroke="none"/>
<path d="M50.00,182.50 L49.81,183.35 L49.60,184.65 L49.40,186.00 L49.20,187.30 L48.99,188.65 L48.80,190.00 L48.63,191.33 L48.48,192.67 L48.30,194.00 L48.07,195.33 L47.81,196.67 L47.60,198.00 L47.44,199.37 L47.33,200.74 L47.30,202.00 L47.31,203.08 L47.40,204.05 L47.70,205.00 L48.30,206.03 L49.11,207.04 L50.00,207.80 L50.94,208.18 L51.95,208.31 L53.00,208.30 L54.14,208.20 L55.32,207.97 L56.30,207.60 L57.07,206.95 L57.65,206.15 L57.80,205.60 L57.35,205.53 L56.48,205.71 L55.50,205.80 L54.38,205.83 L53.15,205.77 L52.20,205.20 L51.73,203.84 L51.53,201.96 L51.40,200.00 L51.30,198.06 L51.26,196.03 L51.20,194.00 L51.08,191.96 L50.93,189.93 L50.80,188.00 L50.70,186.09 L50.61,184.30 L50.50,183.00 L50.35,182.35 L50.18,182.20 Z" fill="#000" stroke="none"/>
<path d="M58.60,173.50 L59.16,172.17 L60.29,170.34 L61.50,168.50 L62.65,166.78 L63.89,165.05 L65.20,163.40 L66.57,161.85 L68.01,160.38 L69.50,159.00 L71.14,157.59 L72.83,156.27 L74.20,155.40 L75.25,155.10 L75.97,155.24 L76.00,155.80 L74.96,156.91 L73.21,158.45 L71.50,160.00 L70.07,161.40 L68.67,162.82 L67.30,164.30 L65.93,165.89 L64.59,167.55 L63.40,169.20 L62.42,171.00 L61.59,172.80 L60.80,174.00 L59.85,174.39 L58.94,174.20 Z" fill="#1a1a1a" fill-opacity="0.85" stroke="none"/>
<path d="M52.40,190.00 L52.26,191.97 L52.32,195.05 L52.40,198.00 L52.33,200.59 L52.29,203.04 L52.60,204.80 L53.64,205.72 L55.04,205.95 L56.00,205.40 L56.12,203.81 L55.79,201.44 L55.40,199.00 L55.07,196.53 L54.67,193.99 L54.20,192.00 L53.58,190.59 L52.89,189.74 Z" fill="#1a1a1a" fill-opacity="0.6" stroke="none"/>
<path d="M51.90,203.50 L51.90,201.80 L51.89,199.37 L51.90,197.00 L51.93,194.74 L51.97,192.54 L52.00,191.00" fill="none" stroke="#fff" stroke-width="0.9" stroke-linecap="round"/>
<path d="M57.80,172.90 L58.49,171.48 L59.48,169.46 L60.50,167.50 L61.46,165.82 L62.45,164.21 L63.50,162.70 L64.61,161.30 L65.79,160.01 L67.00,158.80 L68.28,157.68 L69.60,156.64 L70.90,155.70 L72.29,154.79 L73.65,153.97 L74.60,153.40" fill="none" stroke="#fff" stroke-width="0.9" stroke-linecap="round"/>
<path d="M50.00,207.80 L49.45,207.31 L48.90,206.65 L48.38,205.90 L47.94,205.16 L47.60,204.50 L47.39,203.97 L47.30,203.51 L47.27,203.07 L47.28,202.58 L47.30,202.00 L47.33,201.30 L47.39,200.51 L47.48,199.67 L47.58,198.82 L47.70,198.00 L47.84,197.20 L48.02,196.40 L48.20,195.60 L48.37,194.80 L48.50,194.00 L48.59,193.20 L48.65,192.40 L48.70,191.60 L48.74,190.80 L48.80,190.00 L48.87,189.20 L48.95,188.40 L49.04,187.60 L49.12,186.80 L49.20,186.00 L49.27,185.20 L49.32,184.40 L49.38,183.60 L49.47,182.80 L49.60,182.00 L49.78,181.23 L50.01,180.50 L50.26,179.74 L50.53,178.93 L50.80,178.00 L51.06,176.90 L51.32,175.65 L51.60,174.35 L51.92,173.10 L52.30,172.00 L52.77,171.07 L53.31,170.26 L53.89,169.50 L54.47,168.77 L55.00,168.00 L55.49,167.20 L55.97,166.40 L56.43,165.60 L56.87,164.80 L57.30,164.00 L57.69,163.16 L58.06,162.29 L58.41,161.43 L58.78,160.65 L59.20,160.00 L59.66,159.53 L60.14,159.21 L60.65,158.95 L61.20,158.67 L61.80,158.30 L62.45,157.80 L63.16,157.24 L63.90,156.64 L64.65,156.05 L65.40,155.50 L66.13,155.01 L66.87,154.54 L67.61,154.10 L68.39,153.65 L69.20,153.20 L70.08,152.71 L71.03,152.18 L71.99,151.67 L72.92,151.23 L73.80,150.90 L74.63,150.69 L75.46,150.55 L76.23,150.50 L76.92,150.55 L77.50,150.70 L77.96,150.99 L78.34,151.40 L78.62,151.90 L78.80,152.44 L78.90,153.00 L78.88,153.57 L78.75,154.19 L78.54,154.83 L78.27,155.51 L78.00,156.20 L77.72,156.95 L77.41,157.75 L77.06,158.57 L76.66,159.33 L76.20,160.00 L75.63,160.54 L74.97,160.99 L74.28,161.39 L73.60,161.78 L73.00,162.20 L72.49,162.63 L72.04,163.06 L71.62,163.49 L71.21,163.96 L70.80,164.50 L70.39,165.12 L69.98,165.79 L69.58,166.51 L69.19,167.25 L68.80,168.00 L68.39,168.77 L67.97,169.56 L67.56,170.38 L67.20,171.19 L66.90,172.00 L66.70,172.77 L66.57,173.50 L66.48,174.26 L66.41,175.07 L66.30,176.00 L66.17,177.10 L66.04,178.35 L65.91,179.65 L65.76,180.90 L65.60,182.00 L65.42,182.93 L65.21,183.74 L65.00,184.50 L64.79,185.23 L64.60,186.00 L64.43,186.80 L64.27,187.60 L64.11,188.40 L63.96,189.20 L63.80,190.00 L63.64,190.80 L63.48,191.60 L63.31,192.40 L63.15,193.20 L63.00,194.00 L62.87,194.80 L62.75,195.60 L62.63,196.40 L62.49,197.20 L62.30,198.00 L62.05,198.82 L61.74,199.65 L61.42,200.47 L61.09,201.26 L60.80,202.00 L60.58,202.67 L60.41,203.29 L60.24,203.88 L59.99,204.44 L59.60,205.00 L59.02,205.58 L58.30,206.16 L57.51,206.72 L56.72,207.21 L56.00,207.60 L55.36,207.86 L54.76,208.03 L54.17,208.13 L53.59,208.18 L53.00,208.20 L52.39,208.23 L51.77,208.25 L51.16,208.22 L50.56,208.08 Z" fill="none" stroke="#000" stroke-width="0.7"/>
<path d="M72.00,204.60 L72.17,204.27 L72.61,203.89 L73.22,203.47 L73.88,203.04 L74.50,202.60 L75.07,202.20 L75.66,201.82 L76.27,201.41 L76.92,200.92 L77.60,200.30 L78.33,199.52 L79.11,198.61 L79.91,197.62 L80.71,196.60 L81.50,195.60 L82.28,194.58 L83.07,193.49 L83.85,192.42 L84.60,191.43 L85.30,190.60 L85.95,189.93 L86.57,189.36 L87.15,188.90 L87.69,188.55 L88.20,188.30 L88.69,188.14 L89.16,188.06 L89.58,188.10 L89.94,188.27 L90.20,188.60 L90.37,189.11 L90.46,189.79 L90.48,190.60 L90.43,191.52 L90.30,192.50 L90.11,193.62 L89.86,194.91 L89.54,196.25 L89.12,197.55 L88.60,198.70 L87.96,199.71 L87.20,200.64 L86.36,201.50 L85.45,202.25 L84.50,202.90 L83.47,203.41 L82.35,203.79 L81.20,204.09 L80.06,204.34 L79.00,204.60 L78.00,204.88 L77.03,205.15 L76.11,205.38 L75.26,205.54 L74.50,205.60 L73.79,205.54 L73.12,205.39 L72.54,205.17 L72.15,204.90 Z" fill="#ececec" stroke="none"/>
<path d="M72.00,204.60 L72.17,204.27 L72.61,203.89 L73.22,203.47 L73.88,203.04 L74.50,202.60 L75.07,202.20 L75.66,201.82 L76.27,201.41 L76.92,200.92 L77.60,200.30 L78.33,199.52 L79.11,198.61 L79.91,197.62 L80.71,196.60 L81.50,195.60 L82.28,194.58 L83.07,193.49 L83.85,192.42 L84.60,191.43 L85.30,190.60 L85.95,189.93 L86.57,189.36 L87.15,188.90 L87.69,188.55 L88.20,188.30 L88.69,188.14 L89.16,188.06 L89.58,188.10 L89.94,188.27 L90.20,188.60 L90.37,189.11 L90.46,189.79 L90.48,190.60 L90.43,191.52 L90.30,192.50 L90.11,193.62 L89.86,194.91 L89.54,196.25 L89.12,197.55 L88.60,198.70 L87.96,199.71 L87.20,200.64 L86.36,201.50 L85.45,202.25 L84.50,202.90 L83.47,203.41 L82.35,203.79 L81.20,204.09 L80.06,204.34 L79.00,204.60 L78.00,204.88 L77.03,205.15 L76.11,205.38 L75.26,205.54 L74.50,205.60 L73.79,205.54 L73.12,205.39 L72.54,205.17 L72.15,204.90 Z" fill="none" stroke="#1a1a1a" stroke-width="0.5"/>
<path d="M72.60,204.48 L72.74,204.22 L73.09,203.91 L73.57,203.58 L74.11,203.23 L74.67,202.83 L75.23,202.43 L75.82,202.04 L76.43,201.63 L77.08,201.15 L77.77,200.55 L78.53,199.80 L79.37,198.86 L80.19,197.89 L81.01,196.89 L81.82,195.91 L82.66,194.86 L83.45,193.78 L84.23,192.71 L84.98,191.72 L85.67,190.88 L86.31,190.19 L86.90,189.61 L87.38,189.22 L87.81,188.94 L88.22,188.74 L88.61,188.61 L88.98,188.55 L89.32,188.58 L89.61,188.71 L89.82,188.98 L89.96,189.39 L90.03,189.93 L90.04,190.58 L90.00,191.31 L89.85,192.16 L89.58,193.22 L89.24,194.44 L88.83,195.72 L88.34,196.96 L87.77,198.08 L87.16,199.01 L86.43,199.89 L85.59,200.74 L84.69,201.52 L83.78,202.19 L82.81,202.76 L81.78,203.19 L80.77,203.49 L79.69,203.82 L78.67,204.14 L77.72,204.48 L76.79,204.80 L75.90,205.09 L75.20,205.23 L74.60,205.28 L74.03,205.24 L73.49,205.11 L73.04,204.93 L72.72,204.72 Z" fill="none" stroke="#1a1a1a" stroke-width="0.5"/>
<path d="M73.20,204.36 L73.30,204.16 L73.57,203.93 L73.93,203.68 L74.33,203.42 L74.83,203.07 L75.40,202.66 L75.98,202.27 L76.59,201.86 L77.24,201.37 L77.95,200.79 L78.73,200.08 L79.63,199.11 L80.46,198.16 L81.31,197.18 L82.13,196.22 L83.03,195.14 L83.83,194.06 L84.61,193.00 L85.36,192.01 L86.05,191.16 L86.66,190.46 L87.23,189.86 L87.61,189.54 L87.94,189.33 L88.24,189.18 L88.53,189.08 L88.81,189.04 L89.07,189.06 L89.28,189.16 L89.44,189.36 L89.54,189.67 L89.60,190.07 L89.61,190.56 L89.58,191.11 L89.41,191.83 L89.05,192.82 L88.62,193.97 L88.12,195.18 L87.56,196.37 L86.95,197.45 L86.37,198.30 L85.66,199.13 L84.82,199.99 L83.94,200.78 L83.06,201.49 L82.14,202.11 L81.21,202.60 L80.35,202.90 L79.31,203.30 L78.35,203.68 L77.43,204.08 L76.54,204.46 L75.70,204.80 L75.15,204.92 L74.70,204.96 L74.28,204.93 L73.87,204.84 L73.53,204.70 L73.29,204.54 Z" fill="none" stroke="#1a1a1a" stroke-width="0.5"/>
<path d="M73.74,204.25 L73.81,204.11 L74.00,203.95 L74.25,203.78 L74.53,203.59 L74.98,203.28 L75.55,202.87 L76.13,202.48 L76.74,202.06 L77.39,201.58 L78.11,201.01 L78.91,200.33 L79.86,199.34 L80.71,198.40 L81.57,197.44 L82.41,196.50 L83.37,195.40 L84.17,194.32 L84.96,193.26 L85.71,192.27 L86.38,191.42 L86.98,190.70 L87.53,190.08 L87.82,189.83 L88.04,189.68 L88.26,189.58 L88.46,189.51 L88.66,189.48 L88.84,189.49 L88.99,189.56 L89.10,189.70 L89.17,189.92 L89.21,190.20 L89.22,190.54 L89.19,190.93 L89.00,191.52 L88.57,192.46 L88.06,193.55 L87.48,194.70 L86.85,195.84 L86.20,196.89 L85.66,197.67 L84.96,198.46 L84.12,199.31 L83.26,200.12 L82.41,200.85 L81.54,201.52 L80.70,202.06 L79.96,202.36 L78.98,202.83 L78.06,203.27 L77.18,203.72 L76.32,204.15 L75.51,204.54 L75.11,204.65 L74.79,204.67 L74.49,204.65 L74.21,204.58 L73.97,204.49 L73.80,204.38 Z" fill="none" stroke="#1a1a1a" stroke-width="0.5"/>
<path d="M74.22,204.16 L74.26,204.07 L74.38,203.97 L74.54,203.86 L74.71,203.75 L75.11,203.46 L75.68,203.06 L76.26,202.66 L76.86,202.24 L77.52,201.76 L78.25,201.21 L79.07,200.56 L80.07,199.55 L80.93,198.62 L81.81,197.67 L82.67,196.74 L83.67,195.62 L84.47,194.55 L85.27,193.49 L86.01,192.50 L86.68,191.64 L87.26,190.92 L87.79,190.28 L88.00,190.08 L88.14,189.99 L88.27,189.93 L88.40,189.89 L88.52,189.87 L88.63,189.87 L88.73,189.92 L88.79,190.01 L88.84,190.14 L88.86,190.32 L88.87,190.53 L88.85,190.76 L88.65,191.25 L88.15,192.14 L87.56,193.17 L86.91,194.27 L86.23,195.37 L85.54,196.39 L85.03,197.11 L84.35,197.85 L83.51,198.71 L82.66,199.53 L81.83,200.29 L81.01,201.00 L80.24,201.58 L79.62,201.88 L78.68,202.41 L77.80,202.91 L76.95,203.40 L76.13,203.87 L75.35,204.31 L75.07,204.40 L74.87,204.42 L74.69,204.40 L74.51,204.36 L74.36,204.30 L74.26,204.23 Z" fill="none" stroke="#1a1a1a" stroke-width="0.5"/>
<path d="M76.00,203.20 L76.93,202.50 L78.46,201.63 L80.00,200.60 L81.36,199.39 L82.73,198.03 L84.00,196.60 L85.17,194.96 L86.24,193.26 L87.20,192.00 L88.09,191.31 L88.86,191.07 L89.30,191.40 L89.31,192.56 L89.00,194.30 L88.40,196.00 L87.49,197.49 L86.30,198.93 L85.00,200.20 L83.56,201.23 L82.01,202.08 L80.60,202.80 L79.41,203.44 L78.37,203.96 L77.50,204.20 L76.68,204.10 L76.03,203.74 Z" fill="#000" stroke="none"/>
<path d="M82.50,200.20 L83.30,199.50 L84.44,198.48 L85.50,197.40 L86.40,196.19 L87.23,194.90 L87.80,194.00" fill="none" stroke="#fff" stroke-width="0.55" stroke-opacity="0.9"/>
<path d="M72.00,204.60 L72.17,204.27 L72.61,203.89 L73.22,203.47 L73.88,203.04 L74.50,202.60 L75.07,202.20 L75.66,201.82 L76.27,201.41 L76.92,200.92 L77.60,200.30 L78.33,199.52 L79.11,198.61 L79.91,197.62 L80.71,196.60 L81.50,195.60 L82.28,194.58 L83.07,193.49 L83.85,192.42 L84.60,191.43 L85.30,190.60 L85.95,189.93 L86.57,189.36 L87.15,188.90 L87.69,188.55 L88.20,188.30 L88.69,188.14 L89.16,188.06 L89.58,188.10 L89.94,188.27 L90.20,188.60 L90.37,189.11 L90.46,189.79 L90.48,190.60 L90.43,191.52 L90.30,192.50 L90.11,193.62 L89.86,194.91 L89.54,196.25 L89.12,197.55 L88.60,198.70 L87.96,199.71 L87.20,200.64 L86.36,201.50 L85.45,202.25 L84.50,202.90 L83.47,203.41 L82.35,203.79 L81.20,204.09 L80.06,204.34 L79.00,204.60 L78.00,204.88 L77.03,205.15 L76.11,205.38 L75.26,205.54 L74.50,205.60 L73.79,205.54 L73.12,205.39 L72.54,205.17 L72.15,204.90 Z" fill="none" stroke="#000" stroke-width="0.6"/>
<ellipse cx="91.7" cy="154.9" rx="3.2" ry="1.8" transform="rotate(-28 91.7 154.9)" fill="none" stroke="#222" stroke-width="0.6"/>
<ellipse cx="91.7" cy="154.9" rx="1.9" ry="0.9" transform="rotate(-28 91.7 154.9)" fill="none" stroke="#333" stroke-width="0.5"/>
<rect x="44.9" y="149.0" width="34.50000000000001" height="27.400000000000006" fill="none" stroke="#333" stroke-width="0.7" />
<rect x="67.5" y="185.5" width="32.5" height="27.099999999999994" fill="none" stroke="#333" stroke-width="0.7" />
<text x="46.0" y="153.9" font-size="5.0" text-anchor="start" font-weight="normal" fill="#1c1c1c" stroke="#1c1c1c" stroke-width="0.22" textLength="18.8" lengthAdjust="spacingAndGlyphs" >Red JC1</text>
<text x="46.0" y="159.6" font-size="5.4" text-anchor="start" font-weight="normal" fill="#1c1c1c" stroke="#1c1c1c" stroke-width="0.22" textLength="9.8" lengthAdjust="spacingAndGlyphs" >33.8</text>
<text x="88.8" y="204.2" font-size="5.6" text-anchor="start" font-weight="normal" fill="#1c1c1c" stroke="#1c1c1c" stroke-width="0.22" textLength="8.9" lengthAdjust="spacingAndGlyphs" >10.7</text>
<text x="73.3" y="211.4" font-size="5.4" text-anchor="start" font-weight="normal" fill="#1c1c1c" stroke="#1c1c1c" stroke-width="0.22" textLength="24.8" lengthAdjust="spacingAndGlyphs" >Green JC1</text>
<path d="M162.00,208.30 L161.42,208.00 L160.91,207.61 L160.48,207.14 L160.11,206.60 L159.80,206.00 L159.56,205.31 L159.40,204.52 L159.29,203.68 L159.23,202.83 L159.20,202.00 L159.21,201.20 L159.27,200.40 L159.36,199.60 L159.48,198.80 L159.60,198.00 L159.74,197.20 L159.91,196.40 L160.09,195.60 L160.26,194.80 L160.40,194.00 L160.51,193.20 L160.59,192.40 L160.66,191.60 L160.73,190.80 L160.80,190.00 L160.88,189.20 L160.96,188.40 L161.05,187.60 L161.13,186.80 L161.20,186.00 L161.25,185.20 L161.28,184.40 L161.32,183.60 L161.38,182.80 L161.50,182.00 L161.69,181.18 L161.92,180.35 L162.19,179.53 L162.46,178.74 L162.70,178.00 L162.90,177.37 L163.07,176.82 L163.24,176.30 L163.45,175.71 L163.70,175.00 L164.02,174.11 L164.40,173.10 L164.80,172.02 L165.21,170.97 L165.60,170.00 L165.98,169.13 L166.36,168.30 L166.75,167.52 L167.13,166.75 L167.50,166.00 L167.86,165.26 L168.19,164.53 L168.53,163.82 L168.90,163.14 L169.30,162.50 L169.74,161.91 L170.19,161.37 L170.68,160.85 L171.21,160.33 L171.80,159.80 L172.46,159.24 L173.18,158.66 L173.95,158.08 L174.73,157.52 L175.50,157.00 L176.26,156.52 L177.03,156.09 L177.80,155.67 L178.59,155.24 L179.40,154.80 L180.23,154.31 L181.08,153.79 L181.94,153.27 L182.81,152.79 L183.70,152.40 L184.62,152.06 L185.59,151.75 L186.55,151.50 L187.46,151.37 L188.30,151.40 L189.11,151.63 L189.92,152.03 L190.64,152.54 L191.20,153.08 L191.50,153.60 L191.51,154.09 L191.29,154.59 L190.90,155.11 L190.38,155.65 L189.80,156.20 L189.08,156.78 L188.17,157.38 L187.20,158.00 L186.30,158.61 L185.60,159.20 L185.15,159.75 L184.87,160.28 L184.67,160.80 L184.47,161.37 L184.20,162.00 L183.84,162.72 L183.46,163.51 L183.06,164.34 L182.64,165.18 L182.20,166.00 L181.74,166.78 L181.26,167.55 L180.77,168.33 L180.28,169.14 L179.80,170.00 L179.33,170.97 L178.86,172.02 L178.40,173.10 L177.95,174.11 L177.50,175.00 L177.05,175.71 L176.58,176.30 L176.14,176.82 L175.73,177.37 L175.40,178.00 L175.15,178.74 L174.97,179.53 L174.83,180.35 L174.71,181.18 L174.60,182.00 L174.49,182.80 L174.41,183.60 L174.34,184.40 L174.27,185.20 L174.20,186.00 L174.12,186.80 L174.04,187.60 L173.96,188.40 L173.88,189.20 L173.80,190.00 L173.71,190.80 L173.60,191.60 L173.50,192.40 L173.43,193.20 L173.40,194.00 L173.45,194.80 L173.56,195.60 L173.69,196.40 L173.78,197.20 L173.80,198.00 L173.72,198.82 L173.56,199.67 L173.37,200.51 L173.17,201.30 L173.00,202.00 L172.88,202.60 L172.79,203.12 L172.69,203.59 L172.54,204.04 L172.30,204.50 L171.97,204.98 L171.58,205.46 L171.12,205.93 L170.59,206.38 L170.00,206.80 L169.31,207.21 L168.52,207.61 L167.68,207.99 L166.83,208.29 L166.00,208.50 L165.17,208.62 L164.31,208.66 L163.47,208.62 L162.68,208.50 Z" fill="#e6e6e6" stroke="none"/>
<path d="M162.00,208.30 L161.42,208.00 L160.91,207.61 L160.48,207.14 L160.11,206.60 L159.80,206.00 L159.56,205.31 L159.40,204.52 L159.29,203.68 L159.23,202.83 L159.20,202.00 L159.21,201.20 L159.27,200.40 L159.36,199.60 L159.48,198.80 L159.60,198.00 L159.74,197.20 L159.91,196.40 L160.09,195.60 L160.26,194.80 L160.40,194.00 L160.51,193.20 L160.59,192.40 L160.66,191.60 L160.73,190.80 L160.80,190.00 L160.88,189.20 L160.96,188.40 L161.05,187.60 L161.13,186.80 L161.20,186.00 L161.25,185.20 L161.28,184.40 L161.32,183.60 L161.38,182.80 L161.50,182.00 L161.69,181.18 L161.92,180.35 L162.19,179.53 L162.46,178.74 L162.70,178.00 L162.90,177.37 L163.07,176.82 L163.24,176.30 L163.45,175.71 L163.70,175.00 L164.02,174.11 L164.40,173.10 L164.80,172.02 L165.21,170.97 L165.60,170.00 L165.98,169.13 L166.36,168.30 L166.75,167.52 L167.13,166.75 L167.50,166.00 L167.86,165.26 L168.19,164.53 L168.53,163.82 L168.90,163.14 L169.30,162.50 L169.74,161.91 L170.19,161.37 L170.68,160.85 L171.21,160.33 L171.80,159.80 L172.46,159.24 L173.18,158.66 L173.95,158.08 L174.73,157.52 L175.50,157.00 L176.26,156.52 L177.03,156.09 L177.80,155.67 L178.59,155.24 L179.40,154.80 L180.23,154.31 L181.08,153.79 L181.94,153.27 L182.81,152.79 L183.70,152.40 L184.62,152.06 L185.59,151.75 L186.55,151.50 L187.46,151.37 L188.30,151.40 L189.11,151.63 L189.92,152.03 L190.64,152.54 L191.20,153.08 L191.50,153.60 L191.51,154.09 L191.29,154.59 L190.90,155.11 L190.38,155.65 L189.80,156.20 L189.08,156.78 L188.17,157.38 L187.20,158.00 L186.30,158.61 L185.60,159.20 L185.15,159.75 L184.87,160.28 L184.67,160.80 L184.47,161.37 L184.20,162.00 L183.84,162.72 L183.46,163.51 L183.06,164.34 L182.64,165.18 L182.20,166.00 L181.74,166.78 L181.26,167.55 L180.77,168.33 L180.28,169.14 L179.80,170.00 L179.33,170.97 L178.86,172.02 L178.40,173.10 L177.95,174.11 L177.50,175.00 L177.05,175.71 L176.58,176.30 L176.14,176.82 L175.73,177.37 L175.40,178.00 L175.15,178.74 L174.97,179.53 L174.83,180.35 L174.71,181.18 L174.60,182.00 L174.49,182.80 L174.41,183.60 L174.34,184.40 L174.27,185.20 L174.20,186.00 L174.12,186.80 L174.04,187.60 L173.96,188.40 L173.88,189.20 L173.80,190.00 L173.71,190.80 L173.60,191.60 L173.50,192.40 L173.43,193.20 L173.40,194.00 L173.45,194.80 L173.56,195.60 L173.69,196.40 L173.78,197.20 L173.80,198.00 L173.72,198.82 L173.56,199.67 L173.37,200.51 L173.17,201.30 L173.00,202.00 L172.88,202.60 L172.79,203.12 L172.69,203.59 L172.54,204.04 L172.30,204.50 L171.97,204.98 L171.58,205.46 L171.12,205.93 L170.59,206.38 L170.00,206.80 L169.31,207.21 L168.52,207.61 L167.68,207.99 L166.83,208.29 L166.00,208.50 L165.17,208.62 L164.31,208.66 L163.47,208.62 L162.68,208.50 Z" fill="none" stroke="#1a1a1a" stroke-width="0.5"/>
<path d="M162.36,207.44 L161.90,207.20 L161.49,206.89 L161.14,206.51 L160.85,206.08 L160.60,205.60 L160.41,205.05 L160.28,204.42 L160.19,203.71 L160.15,202.86 L160.13,202.03 L160.15,201.23 L160.20,200.43 L160.28,199.63 L160.38,198.83 L160.48,198.03 L160.60,197.33 L160.76,196.53 L160.92,195.73 L161.08,194.92 L161.22,194.12 L161.33,193.28 L161.41,192.48 L161.49,191.68 L161.56,190.88 L161.63,190.08 L161.71,189.28 L161.80,188.48 L161.88,187.68 L161.96,186.88 L162.03,186.08 L162.09,185.28 L162.13,184.48 L162.18,183.69 L162.24,182.89 L162.35,182.09 L162.51,181.35 L162.73,180.59 L162.99,179.77 L163.25,178.97 L163.49,178.24 L163.69,177.60 L163.86,177.06 L164.00,176.64 L164.18,176.12 L164.46,175.42 L164.81,174.54 L165.21,173.54 L165.64,172.49 L166.08,171.45 L166.49,170.49 L166.89,169.63 L167.28,168.81 L167.67,168.02 L168.05,167.28 L168.43,166.54 L168.80,165.80 L169.15,165.07 L169.50,164.37 L169.93,163.50 L170.30,162.84 L170.70,162.24 L171.10,161.68 L171.52,161.18 L171.95,160.77 L172.43,160.32 L173.07,159.74 L173.77,159.14 L174.50,158.53 L175.24,157.94 L175.88,157.51 L176.63,157.02 L177.38,156.57 L178.14,156.12 L178.92,155.68 L179.68,155.24 L180.47,154.78 L181.33,154.27 L182.20,153.76 L183.07,153.29 L183.95,152.89 L184.87,152.53 L185.79,152.20 L186.65,151.98 L187.57,151.84 L188.39,151.82 L189.18,151.97 L189.97,152.27 L190.55,152.67 L191.00,153.11 L191.24,153.52 L191.25,153.91 L191.07,154.31 L190.76,154.73 L190.27,155.17 L189.68,155.65 L188.93,156.14 L188.01,156.67 L186.85,157.32 L185.94,157.90 L185.22,158.46 L184.74,158.96 L184.43,159.43 L184.20,159.89 L183.96,160.38 L183.65,160.93 L183.08,161.69 L182.65,162.42 L182.19,163.18 L181.72,163.95 L180.99,165.00 L180.26,166.27 L179.82,167.06 L179.36,167.85 L178.96,168.51 L178.54,169.27 L178.05,170.23 L177.57,171.28 L177.08,172.34 L176.59,173.37 L176.14,174.25 L175.70,174.97 L175.26,175.57 L174.83,176.11 L174.45,176.66 L174.11,177.29 L173.84,178.01 L173.61,178.78 L173.43,179.58 L173.26,180.38 L172.99,181.52 L172.86,182.31 L172.74,183.10 L172.60,184.23 L172.53,185.03 L172.46,185.83 L172.38,186.63 L172.30,187.43 L172.22,188.23 L172.14,189.03 L172.06,189.83 L171.97,190.63 L171.87,191.43 L171.77,192.23 L171.70,193.03 L171.66,193.83 L171.68,194.62 L171.76,195.33 L171.84,196.12 L171.89,196.92 L171.88,197.71 L171.79,198.54 L171.64,199.61 L171.48,200.45 L171.32,201.23 L171.18,201.94 L171.07,202.54 L171.00,203.06 L170.92,203.53 L170.79,203.98 L170.60,204.40 L170.34,204.79 L170.02,205.17 L169.66,205.55 L169.24,205.91 L168.76,206.24 L168.21,206.57 L167.58,206.89 L166.91,207.19 L166.22,207.43 L165.56,207.60 L164.90,207.69 L164.21,207.73 L163.54,207.70 L162.91,207.60 Z" fill="none" stroke="#1a1a1a" stroke-width="0.5"/>
<path d="M162.68,206.67 L162.32,206.48 L162.01,206.24 L161.74,205.95 L161.51,205.61 L161.32,205.24 L161.17,204.81 L161.07,204.32 L161.01,203.74 L160.98,202.89 L160.97,202.06 L160.99,201.26 L161.03,200.46 L161.10,199.66 L161.18,198.86 L161.27,198.06 L161.37,197.44 L161.52,196.64 L161.68,195.84 L161.83,195.04 L161.96,194.23 L162.08,193.36 L162.16,192.56 L162.23,191.76 L162.30,190.96 L162.38,190.16 L162.46,189.36 L162.54,188.56 L162.62,187.76 L162.70,186.96 L162.78,186.16 L162.84,185.36 L162.89,184.56 L162.95,183.76 L163.02,182.96 L163.12,182.16 L163.25,181.49 L163.45,180.81 L163.71,179.98 L163.96,179.19 L164.20,178.45 L164.39,177.82 L164.56,177.27 L164.67,176.94 L164.85,176.48 L165.14,175.79 L165.51,174.93 L165.94,173.95 L166.40,172.90 L166.86,171.88 L167.29,170.93 L167.70,170.07 L168.11,169.26 L168.50,168.48 L168.88,167.76 L169.27,167.02 L169.65,166.29 L170.01,165.57 L170.37,164.87 L170.86,163.82 L171.20,163.15 L171.56,162.54 L171.92,161.96 L172.28,161.48 L172.61,161.16 L173.00,160.80 L173.62,160.20 L174.29,159.57 L174.99,158.94 L175.70,158.32 L176.22,157.96 L176.96,157.47 L177.70,157.00 L178.45,156.54 L179.21,156.08 L179.93,155.64 L180.69,155.21 L181.55,154.71 L182.43,154.21 L183.31,153.74 L184.18,153.33 L185.08,152.95 L185.97,152.60 L186.75,152.41 L187.66,152.25 L188.48,152.20 L189.25,152.29 L190.02,152.48 L190.47,152.79 L190.82,153.13 L191.01,153.45 L191.01,153.75 L190.88,154.06 L190.63,154.39 L190.18,154.75 L189.57,155.15 L188.81,155.57 L187.87,156.03 L186.53,156.70 L185.61,157.27 L184.87,157.80 L184.37,158.25 L184.03,158.66 L183.77,159.06 L183.50,159.49 L183.15,159.97 L182.39,160.77 L181.92,161.43 L181.42,162.13 L180.90,162.84 L179.90,164.10 L178.92,165.81 L178.51,166.61 L178.10,167.41 L177.78,167.94 L177.40,168.62 L176.91,169.57 L176.40,170.61 L175.89,171.65 L175.38,172.70 L174.92,173.58 L174.48,174.30 L174.06,174.91 L173.66,175.46 L173.29,176.02 L172.95,176.65 L172.65,177.36 L172.40,178.11 L172.17,178.89 L171.95,179.67 L171.53,181.08 L171.38,181.87 L171.24,182.65 L171.04,184.07 L170.97,184.87 L170.89,185.67 L170.81,186.47 L170.73,187.27 L170.65,188.07 L170.57,188.87 L170.49,189.67 L170.40,190.47 L170.31,191.27 L170.21,192.07 L170.14,192.87 L170.09,193.67 L170.09,194.46 L170.14,195.09 L170.18,195.87 L170.19,196.66 L170.16,197.45 L170.06,198.28 L169.91,199.55 L169.78,200.39 L169.65,201.18 L169.53,201.88 L169.45,202.48 L169.39,203.00 L169.32,203.47 L169.22,203.93 L169.07,204.31 L168.87,204.61 L168.62,204.91 L168.34,205.20 L168.01,205.48 L167.64,205.74 L167.22,205.99 L166.73,206.24 L166.21,206.47 L165.68,206.66 L165.16,206.79 L164.65,206.86 L164.12,206.89 L163.60,206.87 L163.11,206.79 Z" fill="none" stroke="#1a1a1a" stroke-width="0.5"/>
<path d="M162.94,206.06 L162.66,205.92 L162.41,205.73 L162.21,205.51 L162.03,205.25 L161.88,204.96 L161.77,204.63 L161.69,204.25 L161.64,203.76 L161.62,202.91 L161.62,202.08 L161.64,201.28 L161.68,200.48 L161.74,199.68 L161.81,198.88 L161.89,198.08 L161.97,197.53 L162.11,196.73 L162.26,195.93 L162.41,195.12 L162.54,194.32 L162.65,193.41 L162.74,192.61 L162.81,191.82 L162.89,191.02 L162.96,190.22 L163.04,189.42 L163.12,188.62 L163.21,187.82 L163.29,187.02 L163.36,186.22 L163.43,185.42 L163.49,184.62 L163.54,183.82 L163.62,183.02 L163.71,182.22 L163.83,181.61 L164.01,180.98 L164.27,180.15 L164.52,179.35 L164.75,178.62 L164.95,177.98 L165.11,177.44 L165.20,177.18 L165.37,176.77 L165.68,176.09 L166.06,175.24 L166.51,174.26 L166.99,173.23 L167.47,172.21 L167.92,171.27 L168.34,170.42 L168.75,169.61 L169.15,168.84 L169.53,168.13 L169.92,167.39 L170.31,166.66 L170.68,165.95 L171.04,165.26 L171.59,164.06 L171.91,163.39 L172.23,162.77 L172.56,162.18 L172.87,161.71 L173.13,161.46 L173.45,161.16 L174.05,160.55 L174.69,159.91 L175.37,159.26 L176.05,158.62 L176.48,158.32 L177.22,157.81 L177.95,157.33 L178.69,156.86 L179.44,156.38 L180.13,155.94 L180.86,155.53 L181.73,155.05 L182.61,154.56 L183.49,154.09 L184.36,153.67 L185.25,153.27 L186.11,152.92 L186.82,152.75 L187.73,152.58 L188.54,152.50 L189.31,152.53 L190.05,152.64 L190.41,152.88 L190.68,153.14 L190.82,153.39 L190.83,153.63 L190.72,153.87 L190.53,154.12 L190.10,154.42 L189.48,154.76 L188.71,155.13 L187.76,155.53 L186.28,156.23 L185.36,156.78 L184.61,157.28 L184.09,157.70 L183.73,158.07 L183.44,158.42 L183.14,158.80 L182.77,159.23 L181.86,160.05 L181.35,160.67 L180.81,161.32 L180.26,161.98 L179.05,163.40 L177.88,165.46 L177.50,166.26 L177.11,167.07 L176.86,167.51 L176.52,168.11 L176.01,169.06 L175.49,170.09 L174.97,171.12 L174.43,172.18 L173.97,173.06 L173.54,173.78 L173.13,174.40 L172.75,174.96 L172.39,175.53 L172.05,176.16 L171.73,176.86 L171.45,177.59 L171.19,178.35 L170.93,179.11 L170.40,180.74 L170.23,181.52 L170.07,182.30 L169.82,183.95 L169.75,184.75 L169.67,185.55 L169.59,186.35 L169.51,187.15 L169.43,187.95 L169.35,188.75 L169.27,189.55 L169.18,190.35 L169.09,191.15 L169.00,191.95 L168.92,192.75 L168.87,193.55 L168.85,194.34 L168.88,194.90 L168.88,195.68 L168.87,196.46 L168.82,197.25 L168.71,198.07 L168.57,199.51 L168.46,200.34 L168.35,201.14 L168.26,201.84 L168.19,202.44 L168.14,202.96 L168.08,203.43 L168.00,203.89 L167.88,204.24 L167.72,204.47 L167.53,204.70 L167.31,204.93 L167.06,205.14 L166.78,205.34 L166.44,205.54 L166.07,205.73 L165.66,205.91 L165.25,206.06 L164.86,206.16 L164.46,206.22 L164.05,206.24 L163.64,206.22 L163.26,206.16 Z" fill="none" stroke="#1a1a1a" stroke-width="0.5"/>
<path d="M163.13,205.59 L162.92,205.48 L162.73,205.34 L162.57,205.16 L162.43,204.96 L162.32,204.74 L162.23,204.48 L162.17,204.19 L162.14,203.78 L162.13,202.92 L162.14,202.10 L162.16,201.30 L162.20,200.50 L162.25,199.70 L162.31,198.89 L162.37,198.09 L162.44,197.60 L162.58,196.80 L162.72,195.99 L162.86,195.19 L162.99,194.39 L163.11,193.46 L163.19,192.66 L163.27,191.86 L163.34,191.06 L163.42,190.26 L163.50,189.46 L163.58,188.66 L163.66,187.86 L163.74,187.06 L163.82,186.26 L163.89,185.46 L163.95,184.67 L164.01,183.87 L164.09,183.07 L164.18,182.27 L164.28,181.70 L164.45,181.11 L164.71,180.28 L164.96,179.49 L165.19,178.75 L165.38,178.11 L165.55,177.57 L165.61,177.37 L165.77,176.99 L166.09,176.32 L166.50,175.47 L166.96,174.51 L167.45,173.48 L167.94,172.47 L168.41,171.54 L168.83,170.70 L169.25,169.89 L169.66,169.12 L170.03,168.42 L170.44,167.69 L170.83,166.96 L171.20,166.26 L171.57,165.57 L172.16,164.26 L172.46,163.58 L172.76,162.95 L173.07,162.35 L173.34,161.89 L173.54,161.70 L173.79,161.45 L174.38,160.83 L175.01,160.17 L175.67,159.51 L176.33,158.85 L176.69,158.60 L177.42,158.09 L178.15,157.60 L178.88,157.11 L179.62,156.62 L180.28,156.19 L181.00,155.79 L181.87,155.31 L182.75,154.83 L183.63,154.37 L184.50,153.94 L185.39,153.53 L186.22,153.17 L186.88,153.01 L187.79,152.83 L188.60,152.73 L189.35,152.72 L190.08,152.77 L190.36,152.95 L190.57,153.16 L190.68,153.35 L190.69,153.53 L190.60,153.72 L190.46,153.91 L190.05,154.15 L189.41,154.45 L188.63,154.78 L187.67,155.14 L186.09,155.86 L185.16,156.39 L184.40,156.87 L183.86,157.27 L183.48,157.60 L183.18,157.92 L182.86,158.25 L182.46,158.64 L181.44,159.48 L180.90,160.07 L180.34,160.68 L179.76,161.31 L178.39,162.84 L177.06,165.18 L176.70,165.99 L176.34,166.81 L176.13,167.16 L175.82,167.71 L175.31,168.66 L174.78,169.68 L174.24,170.71 L173.69,171.77 L173.22,172.65 L172.80,173.37 L172.40,174.00 L172.03,174.57 L171.68,175.14 L171.34,175.77 L171.01,176.46 L170.71,177.18 L170.42,177.93 L170.14,178.67 L169.51,180.47 L169.33,181.25 L169.16,182.02 L168.86,183.85 L168.79,184.65 L168.71,185.45 L168.63,186.25 L168.55,187.05 L168.47,187.85 L168.39,188.65 L168.31,189.45 L168.23,190.25 L168.14,191.05 L168.05,191.85 L167.97,192.65 L167.91,193.45 L167.88,194.24 L167.89,194.75 L167.87,195.53 L167.83,196.31 L167.76,197.09 L167.65,197.91 L167.51,199.47 L167.42,200.31 L167.33,201.10 L167.25,201.81 L167.20,202.41 L167.15,202.93 L167.10,203.40 L167.04,203.85 L166.95,204.19 L166.82,204.36 L166.68,204.54 L166.51,204.72 L166.31,204.88 L166.09,205.04 L165.84,205.19 L165.55,205.34 L165.24,205.47 L164.92,205.59 L164.61,205.66 L164.31,205.71 L163.99,205.72 L163.68,205.71 L163.39,205.67 Z" fill="none" stroke="#1a1a1a" stroke-width="0.5"/>
<path d="M163.30,205.20 L163.13,205.12 L162.99,205.01 L162.87,204.88 L162.77,204.73 L162.68,204.56 L162.61,204.37 L162.57,204.15 L162.54,203.79 L162.54,202.94 L162.56,202.11 L162.58,201.31 L162.61,200.51 L162.66,199.71 L162.71,198.91 L162.76,198.11 L162.82,197.66 L162.96,196.86 L163.10,196.05 L163.23,195.25 L163.36,194.44 L163.48,193.50 L163.56,192.70 L163.64,191.90 L163.72,191.10 L163.79,190.30 L163.87,189.50 L163.96,188.70 L164.04,187.90 L164.12,187.10 L164.19,186.30 L164.27,185.50 L164.33,184.70 L164.40,183.91 L164.48,183.11 L164.57,182.31 L164.65,181.77 L164.81,181.22 L165.06,180.39 L165.31,179.59 L165.54,178.85 L165.73,178.22 L165.90,177.67 L165.95,177.52 L166.11,177.18 L166.44,176.50 L166.85,175.67 L167.33,174.71 L167.83,173.69 L168.34,172.69 L168.81,171.76 L169.24,170.92 L169.66,170.12 L170.07,169.35 L170.45,168.66 L170.85,167.93 L171.25,167.21 L171.63,166.50 L172.01,165.82 L172.62,164.42 L172.91,163.74 L173.19,163.10 L173.48,162.49 L173.72,162.04 L173.87,161.89 L174.08,161.69 L174.66,161.05 L175.28,160.39 L175.92,159.71 L176.56,159.04 L176.86,158.83 L177.59,158.31 L178.31,157.81 L179.03,157.32 L179.76,156.82 L180.41,156.38 L181.11,156.01 L181.98,155.53 L182.86,155.05 L183.74,154.59 L184.61,154.16 L185.49,153.74 L186.32,153.37 L186.93,153.22 L187.84,153.04 L188.64,152.92 L189.38,152.87 L190.10,152.88 L190.32,153.01 L190.48,153.17 L190.56,153.31 L190.57,153.45 L190.51,153.59 L190.39,153.74 L190.00,153.94 L189.36,154.20 L188.57,154.49 L187.60,154.82 L185.93,155.55 L184.99,156.08 L184.22,156.54 L183.68,156.91 L183.29,157.22 L182.96,157.51 L182.63,157.81 L182.21,158.16 L181.09,159.02 L180.54,159.57 L179.95,160.16 L179.35,160.75 L177.84,162.39 L176.39,164.95 L176.05,165.76 L175.70,166.59 L175.54,166.88 L175.25,167.39 L174.74,168.33 L174.20,169.34 L173.65,170.36 L173.08,171.43 L172.61,172.31 L172.19,173.04 L171.80,173.67 L171.44,174.24 L171.10,174.82 L170.76,175.45 L170.42,176.13 L170.10,176.85 L169.79,177.58 L169.48,178.31 L168.79,180.26 L168.59,181.03 L168.41,181.80 L168.08,183.77 L168.00,184.57 L167.93,185.37 L167.85,186.17 L167.77,186.97 L167.69,187.77 L167.61,188.57 L167.53,189.37 L167.44,190.17 L167.36,190.98 L167.27,191.78 L167.19,192.58 L167.13,193.37 L167.08,194.16 L167.08,194.63 L167.04,195.40 L166.98,196.18 L166.90,196.96 L166.79,197.78 L166.64,199.44 L166.57,200.28 L166.50,201.07 L166.43,201.78 L166.38,202.38 L166.35,202.90 L166.31,203.37 L166.25,203.83 L166.18,204.14 L166.09,204.28 L165.98,204.41 L165.85,204.54 L165.70,204.67 L165.54,204.78 L165.34,204.90 L165.12,205.01 L164.89,205.12 L164.65,205.20 L164.42,205.26 L164.18,205.29 L163.94,205.30 L163.71,205.29 L163.49,205.26 Z" fill="none" stroke="#1a1a1a" stroke-width="0.5"/>
<path d="M163.44,204.86 L163.32,204.80 L163.22,204.72 L163.14,204.63 L163.06,204.52 L163.00,204.40 L162.95,204.26 L162.92,204.10 L162.90,203.80 L162.91,202.95 L162.93,202.12 L162.95,201.32 L162.99,200.52 L163.03,199.72 L163.07,198.92 L163.12,198.12 L163.17,197.71 L163.30,196.91 L163.43,196.10 L163.56,195.30 L163.69,194.49 L163.81,193.53 L163.89,192.73 L163.97,191.93 L164.05,191.13 L164.13,190.33 L164.21,189.53 L164.29,188.73 L164.37,187.93 L164.45,187.13 L164.53,186.33 L164.60,185.53 L164.67,184.74 L164.74,183.94 L164.82,183.14 L164.91,182.34 L164.98,181.84 L165.13,181.31 L165.38,180.49 L165.63,179.69 L165.86,178.95 L166.05,178.31 L166.21,177.77 L166.25,177.66 L166.40,177.34 L166.74,176.67 L167.16,175.84 L167.65,174.89 L168.17,173.88 L168.68,172.88 L169.16,171.96 L169.60,171.12 L170.03,170.32 L170.44,169.55 L170.82,168.88 L171.23,168.14 L171.63,167.42 L172.01,166.72 L172.39,166.04 L173.04,164.56 L173.31,163.87 L173.58,163.23 L173.84,162.62 L174.06,162.17 L174.16,162.07 L174.33,161.90 L174.90,161.26 L175.51,160.58 L176.14,159.89 L176.77,159.21 L177.01,159.03 L177.73,158.51 L178.45,158.00 L179.17,157.50 L179.89,156.99 L180.52,156.56 L181.20,156.19 L182.08,155.72 L182.96,155.25 L183.85,154.79 L184.71,154.36 L185.59,153.93 L186.40,153.55 L186.97,153.42 L187.88,153.23 L188.68,153.09 L189.42,153.01 L190.12,152.97 L190.29,153.07 L190.40,153.18 L190.46,153.28 L190.46,153.38 L190.42,153.48 L190.34,153.58 L189.96,153.75 L189.31,153.98 L188.51,154.24 L187.53,154.54 L185.79,155.28 L184.85,155.80 L184.07,156.24 L183.52,156.60 L183.11,156.88 L182.77,157.14 L182.43,157.41 L181.99,157.73 L180.79,158.61 L180.21,159.14 L179.60,159.69 L178.98,160.26 L177.36,161.99 L175.79,164.74 L175.47,165.56 L175.14,166.40 L175.02,166.63 L174.75,167.10 L174.23,168.03 L173.68,169.04 L173.12,170.06 L172.54,171.14 L172.06,172.01 L171.65,172.74 L171.27,173.38 L170.92,173.96 L170.58,174.54 L170.24,175.16 L169.90,175.85 L169.56,176.55 L169.23,177.27 L168.90,177.99 L168.14,180.06 L167.94,180.83 L167.74,181.60 L167.39,183.70 L167.31,184.50 L167.23,185.30 L167.15,186.10 L167.07,186.90 L166.99,187.70 L166.91,188.50 L166.83,189.30 L166.75,190.10 L166.66,190.91 L166.58,191.71 L166.50,192.51 L166.43,193.30 L166.38,194.09 L166.36,194.52 L166.30,195.29 L166.22,196.07 L166.13,196.85 L166.02,197.67 L165.88,199.42 L165.82,200.26 L165.75,201.05 L165.70,201.76 L165.66,202.36 L165.63,202.88 L165.60,203.35 L165.55,203.80 L165.50,204.10 L165.43,204.20 L165.36,204.29 L165.26,204.39 L165.16,204.48 L165.04,204.56 L164.90,204.64 L164.74,204.72 L164.58,204.80 L164.41,204.86 L164.24,204.90 L164.07,204.92 L163.90,204.93 L163.73,204.92 L163.58,204.90 Z" fill="none" stroke="#1a1a1a" stroke-width="0.5"/>
<path d="M163.57,204.56 L163.49,204.52 L163.42,204.47 L163.37,204.41 L163.32,204.34 L163.28,204.26 L163.25,204.17 L163.23,204.07 L163.22,203.81 L163.24,202.96 L163.26,202.14 L163.28,201.34 L163.31,200.53 L163.35,199.73 L163.38,198.93 L163.42,198.13 L163.47,197.76 L163.59,196.95 L163.72,196.15 L163.85,195.34 L163.97,194.54 L164.10,193.56 L164.18,192.76 L164.26,191.96 L164.34,191.16 L164.42,190.36 L164.50,189.56 L164.58,188.76 L164.66,187.96 L164.74,187.16 L164.82,186.36 L164.89,185.56 L164.97,184.77 L165.04,183.97 L165.12,183.17 L165.20,182.37 L165.27,181.89 L165.41,181.40 L165.66,180.57 L165.91,179.77 L166.13,179.03 L166.32,178.40 L166.49,177.85 L166.51,177.78 L166.66,177.48 L167.01,176.82 L167.44,175.99 L167.94,175.04 L168.46,174.04 L168.99,173.05 L169.47,172.13 L169.92,171.29 L170.35,170.50 L170.77,169.73 L171.14,169.06 L171.55,168.33 L171.96,167.61 L172.35,166.91 L172.73,166.23 L173.40,164.68 L173.66,163.99 L173.91,163.34 L174.16,162.73 L174.35,162.29 L174.42,162.22 L174.55,162.08 L175.11,161.43 L175.71,160.75 L176.33,160.05 L176.94,159.36 L177.14,159.21 L177.86,158.68 L178.57,158.17 L179.28,157.66 L180.01,157.15 L180.62,156.71 L181.29,156.36 L182.17,155.89 L183.05,155.43 L183.94,154.97 L184.80,154.53 L185.68,154.09 L186.47,153.71 L187.01,153.58 L187.91,153.39 L188.71,153.24 L189.44,153.13 L190.14,153.05 L190.26,153.11 L190.33,153.18 L190.37,153.25 L190.37,153.32 L190.34,153.38 L190.29,153.45 L189.92,153.59 L189.26,153.79 L188.46,154.02 L187.48,154.29 L185.67,155.04 L184.72,155.55 L183.94,155.99 L183.37,156.32 L182.96,156.58 L182.61,156.82 L182.25,157.07 L181.80,157.36 L180.52,158.25 L179.93,158.75 L179.30,159.29 L178.66,159.83 L176.93,161.64 L175.27,164.57 L174.96,165.39 L174.65,166.23 L174.56,166.41 L174.31,166.84 L173.78,167.78 L173.22,168.78 L172.66,169.79 L172.06,170.88 L171.59,171.75 L171.18,172.48 L170.81,173.12 L170.47,173.71 L170.13,174.29 L169.79,174.91 L169.44,175.59 L169.08,176.29 L168.74,177.00 L168.39,177.71 L167.58,179.89 L167.36,180.66 L167.15,181.42 L166.78,183.64 L166.70,184.44 L166.62,185.24 L166.54,186.04 L166.46,186.84 L166.38,187.64 L166.30,188.44 L166.22,189.24 L166.14,190.04 L166.05,190.85 L165.97,191.65 L165.89,192.45 L165.82,193.24 L165.76,194.03 L165.73,194.43 L165.65,195.19 L165.56,195.97 L165.46,196.75 L165.34,197.57 L165.20,199.39 L165.15,200.23 L165.11,201.03 L165.06,201.74 L165.03,202.34 L165.00,202.86 L164.98,203.33 L164.94,203.78 L164.91,204.06 L164.86,204.13 L164.81,204.19 L164.75,204.25 L164.68,204.31 L164.61,204.36 L164.52,204.42 L164.41,204.47 L164.30,204.52 L164.19,204.56 L164.09,204.59 L163.98,204.60 L163.87,204.61 L163.76,204.60 L163.66,204.59 Z" fill="none" stroke="#1a1a1a" stroke-width="0.5"/>
<path d="M163.67,204.30 L163.63,204.28 L163.60,204.25 L163.57,204.22 L163.54,204.18 L163.52,204.14 L163.50,204.09 L163.49,204.04 L163.49,203.82 L163.51,202.97 L163.54,202.14 L163.56,201.35 L163.59,200.54 L163.62,199.74 L163.65,198.94 L163.69,198.14 L163.72,197.80 L163.85,196.99 L163.97,196.18 L164.10,195.38 L164.22,194.57 L164.35,193.58 L164.43,192.78 L164.51,191.98 L164.59,191.19 L164.67,190.39 L164.75,189.59 L164.83,188.79 L164.91,187.99 L164.99,187.19 L165.07,186.39 L165.15,185.59 L165.22,184.79 L165.30,184.00 L165.38,183.20 L165.46,182.40 L165.51,181.94 L165.65,181.47 L165.90,180.64 L166.14,179.84 L166.37,179.10 L166.56,178.47 L166.72,177.92 L166.74,177.88 L166.88,177.60 L167.23,176.94 L167.68,176.12 L168.18,175.18 L168.72,174.18 L169.25,173.19 L169.74,172.28 L170.19,171.44 L170.63,170.65 L171.04,169.88 L171.42,169.22 L171.83,168.49 L172.24,167.78 L172.63,167.08 L173.02,166.40 L173.71,164.79 L173.96,164.10 L174.20,163.44 L174.43,162.82 L174.60,162.38 L174.64,162.35 L174.74,162.24 L175.30,161.58 L175.89,160.89 L176.49,160.19 L177.10,159.48 L177.25,159.36 L177.97,158.83 L178.68,158.31 L179.39,157.80 L180.10,157.28 L180.70,156.85 L181.36,156.50 L182.24,156.04 L183.13,155.57 L184.02,155.12 L184.88,154.67 L185.75,154.23 L186.53,153.84 L187.04,153.73 L187.94,153.53 L188.74,153.37 L189.47,153.24 L190.16,153.12 L190.23,153.15 L190.27,153.19 L190.29,153.23 L190.29,153.26 L190.28,153.30 L190.25,153.33 L189.89,153.44 L189.23,153.62 L188.42,153.83 L187.43,154.08 L185.56,154.84 L184.61,155.34 L183.82,155.76 L183.25,156.08 L182.83,156.33 L182.47,156.54 L182.10,156.77 L181.64,157.04 L180.29,157.94 L179.68,158.42 L179.04,158.94 L178.39,159.46 L176.57,161.34 L174.83,164.41 L174.53,165.24 L174.22,166.08 L174.16,166.22 L173.93,166.62 L173.40,167.56 L172.83,168.56 L172.26,169.57 L171.66,170.65 L171.18,171.52 L170.77,172.26 L170.41,172.90 L170.07,173.49 L169.75,174.07 L169.40,174.70 L169.04,175.38 L168.68,176.07 L168.32,176.77 L167.96,177.47 L167.09,179.75 L166.87,180.51 L166.65,181.27 L166.26,183.59 L166.18,184.39 L166.10,185.19 L166.02,185.99 L165.94,186.79 L165.86,187.59 L165.78,188.39 L165.70,189.19 L165.62,189.99 L165.53,190.79 L165.45,191.60 L165.37,192.39 L165.30,193.19 L165.23,193.98 L165.19,194.34 L165.09,195.11 L164.99,195.88 L164.89,196.66 L164.77,197.48 L164.63,199.37 L164.59,200.22 L164.55,201.01 L164.52,201.72 L164.49,202.32 L164.47,202.84 L164.44,203.31 L164.42,203.77 L164.40,204.03 L164.37,204.07 L164.34,204.10 L164.31,204.14 L164.28,204.17 L164.23,204.20 L164.19,204.22 L164.13,204.25 L164.07,204.28 L164.01,204.30 L163.95,204.31 L163.90,204.32 L163.84,204.33 L163.78,204.32 L163.72,204.32 Z" fill="none" stroke="#1a1a1a" stroke-width="0.5"/>
<path d="M162.00,208.30 L161.22,207.74 L160.42,206.97 L159.80,206.00 L159.44,204.79 L159.27,203.40 L159.20,202.00 L159.24,200.67 L159.40,199.33 L159.60,198.00 L159.85,196.67 L160.15,195.33 L160.40,194.00 L160.56,192.67 L160.68,191.33 L160.80,190.00 L160.94,188.67 L161.07,187.33 L161.20,186.00 L161.27,184.67 L161.34,183.33 L161.50,182.00 L161.84,180.63 L162.28,179.26 L162.70,178.00 L163.01,177.00 L163.31,176.11 L163.70,175.00 L164.27,173.44 L164.93,171.67 L165.60,170.00 L166.24,168.59 L166.89,167.30 L167.50,166.00 L168.03,164.62 L168.52,163.24 L169.10,162.00 L169.82,160.97 L170.63,160.07 L171.50,159.20 L172.44,158.30 L173.44,157.41 L174.50,156.60 L175.63,155.87 L176.81,155.20 L178.00,154.60 L179.20,154.06 L180.41,153.59 L181.50,153.20 L182.48,152.87 L183.35,152.64 L184.00,152.60 L184.44,152.86 L184.67,153.32 L184.50,153.80 L183.77,154.22 L182.65,154.67 L181.50,155.20 L180.41,155.86 L179.29,156.61 L178.20,157.40 L177.11,158.25 L176.06,159.15 L175.20,160.00 L174.68,160.70 L174.36,161.36 L174.00,162.20 L173.51,163.34 L172.99,164.66 L172.40,166.00 L171.74,167.28 L171.02,168.59 L170.30,170.00 L169.59,171.67 L168.87,173.44 L168.20,175.00 L167.60,176.11 L167.04,177.00 L166.50,178.00 L165.92,179.26 L165.35,180.63 L164.90,182.00 L164.65,183.33 L164.52,184.67 L164.40,186.00 L164.25,187.33 L164.11,188.67 L164.00,190.00 L163.96,191.33 L163.94,192.67 L163.90,194.00 L163.79,195.33 L163.64,196.67 L163.50,198.00 L163.37,199.34 L163.26,200.68 L163.20,202.00 L163.12,203.40 L163.10,204.79 L163.40,205.80 L164.26,206.22 L165.44,206.27 L166.50,206.30 L167.36,206.36 L168.10,206.40 L168.50,206.60 L168.48,207.15 L168.13,207.86 L167.50,208.40 L166.46,208.60 L165.15,208.63 L164.00,208.60 L163.23,208.61 L162.63,208.57 Z" fill="#000" stroke="none"/>
<path d="M181.00,159.30 L179.34,159.93 L177.31,160.89 L175.70,162.00 L174.94,163.24 L174.60,164.62 L174.20,166.00 L173.54,167.33 L172.81,168.67 L172.10,170.00 L171.25,171.47 L170.42,172.95 L170.20,174.00 L171.07,174.51 L172.56,174.60 L173.80,174.20 L174.39,173.12 L174.74,171.55 L175.20,170.00 L175.95,168.65 L176.81,167.33 L177.60,166.00 L178.14,164.61 L178.61,163.21 L179.30,162.00 L180.60,161.00 L182.11,160.19 L183.00,159.60 L182.88,159.23 L182.12,159.10 Z" fill="#1a1a1a" fill-opacity="0.85" stroke="none"/>
<path d="M164.90,190.00 L164.72,192.06 L164.86,195.00 L165.00,198.00 L164.96,201.10 L164.94,204.26 L165.20,206.50 L166.04,207.54 L167.16,207.68 L168.00,206.80 L168.29,204.51 L168.29,201.21 L168.20,198.00 L168.14,194.98 L167.99,192.04 L167.60,190.00 L166.75,189.11 L165.67,189.11 Z" fill="#1a1a1a" fill-opacity="0.85" stroke="none"/>
<path d="M164.20,204.00 L164.24,201.93 L164.31,198.96 L164.40,196.00 L164.51,193.26 L164.64,190.52 L164.80,188.00 L165.04,185.63 L165.31,183.48 L165.50,182.00" fill="none" stroke="#fff" stroke-width="0.9" stroke-linecap="round"/>
<path d="M168.60,175.50 L169.29,174.02 L170.27,171.93 L171.20,170.00 L171.99,168.54 L172.74,167.24 L173.40,166.00 L173.87,164.78 L174.26,163.62 L174.80,162.50 L175.59,161.43 L176.53,160.40 L177.60,159.40 L178.80,158.43 L180.11,157.49 L181.50,156.60 L183.12,155.68 L184.81,154.81 L186.00,154.20" fill="none" stroke="#fff" stroke-width="0.9" stroke-linecap="round"/>
<path d="M162.00,208.30 L161.42,208.00 L160.91,207.61 L160.48,207.14 L160.11,206.60 L159.80,206.00 L159.56,205.31 L159.40,204.52 L159.29,203.68 L159.23,202.83 L159.20,202.00 L159.21,201.20 L159.27,200.40 L159.36,199.60 L159.48,198.80 L159.60,198.00 L159.74,197.20 L159.91,196.40 L160.09,195.60 L160.26,194.80 L160.40,194.00 L160.51,193.20 L160.59,192.40 L160.66,191.60 L160.73,190.80 L160.80,190.00 L160.88,189.20 L160.96,188.40 L161.05,187.60 L161.13,186.80 L161.20,186.00 L161.25,185.20 L161.28,184.40 L161.32,183.60 L161.38,182.80 L161.50,182.00 L161.69,181.18 L161.92,180.35 L162.19,179.53 L162.46,178.74 L162.70,178.00 L162.90,177.37 L163.07,176.82 L163.24,176.30 L163.45,175.71 L163.70,175.00 L164.02,174.11 L164.40,173.10 L164.80,172.02 L165.21,170.97 L165.60,170.00 L165.98,169.13 L166.36,168.30 L166.75,167.52 L167.13,166.75 L167.50,166.00 L167.86,165.26 L168.19,164.53 L168.53,163.82 L168.90,163.14 L169.30,162.50 L169.74,161.91 L170.19,161.37 L170.68,160.85 L171.21,160.33 L171.80,159.80 L172.46,159.24 L173.18,158.66 L173.95,158.08 L174.73,157.52 L175.50,157.00 L176.26,156.52 L177.03,156.09 L177.80,155.67 L178.59,155.24 L179.40,154.80 L180.23,154.31 L181.08,153.79 L181.94,153.27 L182.81,152.79 L183.70,152.40 L184.62,152.06 L185.59,151.75 L186.55,151.50 L187.46,151.37 L188.30,151.40 L189.11,151.63 L189.92,152.03 L190.64,152.54 L191.20,153.08 L191.50,153.60 L191.51,154.09 L191.29,154.59 L190.90,155.11 L190.38,155.65 L189.80,156.20 L189.08,156.78 L188.17,157.38 L187.20,158.00 L186.30,158.61 L185.60,159.20 L185.15,159.75 L184.87,160.28 L184.67,160.80 L184.47,161.37 L184.20,162.00 L183.84,162.72 L183.46,163.51 L183.06,164.34 L182.64,165.18 L182.20,166.00 L181.74,166.78 L181.26,167.55 L180.77,168.33 L180.28,169.14 L179.80,170.00 L179.33,170.97 L178.86,172.02 L178.40,173.10 L177.95,174.11 L177.50,175.00 L177.05,175.71 L176.58,176.30 L176.14,176.82 L175.73,177.37 L175.40,178.00 L175.15,178.74 L174.97,179.53 L174.83,180.35 L174.71,181.18 L174.60,182.00 L174.49,182.80 L174.41,183.60 L174.34,184.40 L174.27,185.20 L174.20,186.00 L174.12,186.80 L174.04,187.60 L173.96,188.40 L173.88,189.20 L173.80,190.00 L173.71,190.80 L173.60,191.60 L173.50,192.40 L173.43,193.20 L173.40,194.00 L173.45,194.80 L173.56,195.60 L173.69,196.40 L173.78,197.20 L173.80,198.00 L173.72,198.82 L173.56,199.67 L173.37,200.51 L173.17,201.30 L173.00,202.00 L172.88,202.60 L172.79,203.12 L172.69,203.59 L172.54,204.04 L172.30,204.50 L171.97,204.98 L171.58,205.46 L171.12,205.93 L170.59,206.38 L170.00,206.80 L169.31,207.21 L168.52,207.61 L167.68,207.99 L166.83,208.29 L166.00,208.50 L165.17,208.62 L164.31,208.66 L163.47,208.62 L162.68,208.50 Z" fill="none" stroke="#000" stroke-width="0.7"/>
<path d="M181.20,206.60 L181.42,206.26 L181.92,205.84 L182.59,205.37 L183.32,204.91 L184.00,204.50 L184.61,204.20 L185.22,203.99 L185.86,203.77 L186.55,203.44 L187.30,202.90 L188.17,202.13 L189.13,201.18 L190.13,200.11 L191.07,198.97 L191.90,197.80 L192.60,196.55 L193.22,195.19 L193.77,193.80 L194.26,192.48 L194.70,191.30 L195.06,190.22 L195.32,189.19 L195.54,188.27 L195.78,187.54 L196.10,187.10 L196.47,187.05 L196.86,187.35 L197.30,187.81 L197.80,188.25 L198.40,188.50 L199.18,188.45 L200.13,188.21 L201.11,187.95 L201.98,187.83 L202.60,188.00 L202.94,188.51 L203.11,189.26 L203.13,190.16 L203.04,191.17 L202.90,192.20 L202.65,193.32 L202.26,194.58 L201.82,195.87 L201.37,197.11 L201.00,198.20 L200.75,199.14 L200.57,199.98 L200.39,200.74 L200.16,201.42 L199.80,202.00 L199.36,202.46 L198.87,202.79 L198.29,203.05 L197.55,203.30 L196.60,203.60 L195.34,203.95 L193.81,204.30 L192.16,204.66 L190.54,205.03 L189.10,205.40 L187.82,205.82 L186.61,206.28 L185.48,206.72 L184.47,207.08 L183.60,207.30 L182.84,207.35 L182.17,207.27 L181.64,207.11 L181.30,206.87 Z" fill="#ececec" stroke="none"/>
<path d="M181.20,206.60 L181.42,206.26 L181.92,205.84 L182.59,205.37 L183.32,204.91 L184.00,204.50 L184.61,204.20 L185.22,203.99 L185.86,203.77 L186.55,203.44 L187.30,202.90 L188.17,202.13 L189.13,201.18 L190.13,200.11 L191.07,198.97 L191.90,197.80 L192.60,196.55 L193.22,195.19 L193.77,193.80 L194.26,192.48 L194.70,191.30 L195.06,190.22 L195.32,189.19 L195.54,188.27 L195.78,187.54 L196.10,187.10 L196.47,187.05 L196.86,187.35 L197.30,187.81 L197.80,188.25 L198.40,188.50 L199.18,188.45 L200.13,188.21 L201.11,187.95 L201.98,187.83 L202.60,188.00 L202.94,188.51 L203.11,189.26 L203.13,190.16 L203.04,191.17 L202.90,192.20 L202.65,193.32 L202.26,194.58 L201.82,195.87 L201.37,197.11 L201.00,198.20 L200.75,199.14 L200.57,199.98 L200.39,200.74 L200.16,201.42 L199.80,202.00 L199.36,202.46 L198.87,202.79 L198.29,203.05 L197.55,203.30 L196.60,203.60 L195.34,203.95 L193.81,204.30 L192.16,204.66 L190.54,205.03 L189.10,205.40 L187.82,205.82 L186.61,206.28 L185.48,206.72 L184.47,207.08 L183.60,207.30 L182.84,207.35 L182.17,207.27 L181.64,207.11 L181.30,206.87 Z" fill="none" stroke="#1a1a1a" stroke-width="0.5"/>
<path d="M181.66,206.44 L181.84,206.17 L182.24,205.83 L182.78,205.46 L183.41,205.06 L184.09,204.66 L184.69,204.35 L185.29,204.12 L185.92,203.88 L186.60,203.54 L187.37,203.02 L188.29,202.24 L189.24,201.28 L190.24,200.21 L191.19,199.07 L192.05,197.93 L192.81,196.69 L193.46,195.34 L194.06,193.98 L194.60,192.68 L195.08,191.53 L195.48,190.48 L195.75,189.55 L195.93,188.81 L196.13,188.24 L196.43,187.86 L196.79,187.79 L197.15,188.01 L197.54,188.36 L197.99,188.69 L198.55,188.86 L199.31,188.76 L200.25,188.49 L201.09,188.26 L201.78,188.16 L202.28,188.30 L202.56,188.71 L202.69,189.30 L202.70,190.03 L202.63,190.84 L202.52,191.66 L202.32,192.56 L201.86,193.63 L201.33,194.74 L200.26,196.43 L199.85,197.49 L199.55,198.40 L199.32,199.22 L199.10,199.95 L198.84,200.61 L198.54,201.10 L198.19,201.47 L197.76,201.78 L197.21,202.07 L196.53,202.37 L195.65,202.74 L194.50,203.18 L193.10,203.65 L191.60,204.15 L190.13,204.62 L188.87,204.98 L187.61,205.44 L186.42,205.94 L185.31,206.41 L184.31,206.81 L183.58,207.00 L182.97,207.04 L182.43,206.98 L182.01,206.84 L181.74,206.66 Z" fill="none" stroke="#1a1a1a" stroke-width="0.5"/>
<path d="M182.12,206.28 L182.25,206.08 L182.55,205.82 L182.96,205.54 L183.49,205.21 L184.17,204.81 L184.77,204.50 L185.37,204.25 L185.98,203.98 L186.66,203.64 L187.43,203.14 L188.41,202.35 L189.36,201.38 L190.35,200.31 L191.31,199.18 L192.19,198.06 L193.03,196.82 L193.71,195.49 L194.35,194.16 L194.94,192.89 L195.46,191.77 L195.90,190.75 L196.19,189.91 L196.33,189.36 L196.47,188.93 L196.75,188.62 L197.11,188.54 L197.43,188.67 L197.77,188.92 L198.18,189.14 L198.71,189.21 L199.45,189.07 L200.37,188.77 L201.07,188.57 L201.59,188.50 L201.96,188.60 L202.17,188.91 L202.26,189.35 L202.28,189.90 L202.23,190.50 L202.14,191.12 L201.99,191.79 L201.45,192.68 L200.84,193.60 L199.16,195.75 L198.70,196.78 L198.35,197.66 L198.07,198.45 L197.81,199.16 L197.53,199.80 L197.28,200.20 L197.01,200.47 L196.64,200.76 L196.13,201.09 L195.51,201.45 L194.71,201.88 L193.66,202.41 L192.39,203.01 L191.03,203.63 L189.72,204.22 L188.63,204.57 L187.41,205.07 L186.23,205.60 L185.13,206.10 L184.16,206.53 L183.56,206.70 L183.10,206.73 L182.70,206.68 L182.38,206.58 L182.18,206.44 Z" fill="none" stroke="#1a1a1a" stroke-width="0.5"/>
<path d="M182.53,206.14 L182.63,205.99 L182.84,205.82 L183.12,205.62 L183.57,205.35 L184.25,204.95 L184.85,204.63 L185.43,204.36 L186.04,204.08 L186.71,203.73 L187.49,203.24 L188.52,202.45 L189.46,201.47 L190.45,200.40 L191.42,199.28 L192.32,198.18 L193.22,196.94 L193.93,195.63 L194.61,194.32 L195.24,193.08 L195.80,191.98 L196.28,190.98 L196.58,190.24 L196.68,189.85 L196.78,189.55 L197.04,189.31 L197.39,189.20 L197.69,189.27 L197.99,189.41 L198.35,189.53 L198.84,189.54 L199.57,189.34 L200.48,189.03 L201.05,188.85 L201.41,188.80 L201.67,188.87 L201.82,189.08 L201.88,189.40 L201.89,189.78 L201.86,190.20 L201.80,190.63 L201.69,191.10 L201.09,191.82 L200.40,192.58 L198.16,195.14 L197.66,196.15 L197.27,197.00 L196.95,197.76 L196.65,198.44 L196.34,199.07 L196.15,199.39 L195.96,199.58 L195.64,199.85 L195.16,200.21 L194.59,200.61 L193.85,201.10 L192.90,201.72 L191.75,202.43 L190.52,203.17 L189.36,203.85 L188.42,204.19 L187.22,204.74 L186.06,205.30 L184.98,205.83 L184.02,206.28 L183.54,206.43 L183.22,206.45 L182.94,206.42 L182.72,206.35 L182.57,206.25 Z" fill="none" stroke="#1a1a1a" stroke-width="0.5"/>
<path d="M182.90,206.01 L182.96,205.92 L183.09,205.81 L183.26,205.69 L183.64,205.47 L184.32,205.07 L184.92,204.75 L185.49,204.47 L186.09,204.17 L186.76,203.81 L187.54,203.33 L188.62,202.54 L189.55,201.56 L190.53,200.48 L191.52,199.37 L192.44,198.29 L193.39,197.04 L194.13,195.75 L194.85,194.47 L195.51,193.25 L196.10,192.16 L196.62,191.19 L196.93,190.53 L196.99,190.29 L197.05,190.10 L197.31,189.91 L197.65,189.80 L197.92,189.80 L198.18,189.86 L198.51,189.89 L198.97,189.82 L199.67,189.59 L200.58,189.25 L201.03,189.10 L201.25,189.07 L201.42,189.11 L201.51,189.24 L201.55,189.44 L201.55,189.67 L201.53,189.93 L201.49,190.20 L201.43,190.49 L200.76,191.06 L200.01,191.67 L197.27,194.59 L196.74,195.58 L196.32,196.41 L195.95,197.15 L195.62,197.81 L195.29,198.42 L195.14,198.67 L195.02,198.79 L194.75,199.04 L194.30,199.43 L193.77,199.87 L193.10,200.42 L192.22,201.11 L191.18,201.91 L190.07,202.76 L189.03,203.53 L188.24,203.86 L187.05,204.44 L185.91,205.03 L184.84,205.58 L183.89,206.06 L183.53,206.19 L183.33,206.20 L183.15,206.18 L183.02,206.14 L182.93,206.08 Z" fill="none" stroke="#1a1a1a" stroke-width="0.5"/>
<path d="M184.00,205.00 L184.99,204.44 L186.76,203.71 L188.50,202.80 L189.97,201.68 L191.41,200.39 L192.80,199.00 L194.15,197.50 L195.44,195.90 L196.60,194.40 L197.59,192.90 L198.44,191.48 L199.20,190.60 L199.97,190.44 L200.65,190.81 L201.00,191.60 L200.90,192.93 L200.47,194.69 L199.80,196.40 L198.88,197.95 L197.72,199.45 L196.40,200.80 L194.91,201.95 L193.27,202.94 L191.60,203.80 L189.83,204.58 L188.02,205.22 L186.50,205.60 L185.21,205.64 L184.22,205.41 Z" fill="#000" stroke="none"/>
<path d="M196.80,192.60 L197.33,191.95 L198.07,191.05 L198.60,190.40" fill="none" stroke="#fff" stroke-width="0.55" stroke-opacity="0.9"/>
<path d="M181.20,206.60 L181.42,206.26 L181.92,205.84 L182.59,205.37 L183.32,204.91 L184.00,204.50 L184.61,204.20 L185.22,203.99 L185.86,203.77 L186.55,203.44 L187.30,202.90 L188.17,202.13 L189.13,201.18 L190.13,200.11 L191.07,198.97 L191.90,197.80 L192.60,196.55 L193.22,195.19 L193.77,193.80 L194.26,192.48 L194.70,191.30 L195.06,190.22 L195.32,189.19 L195.54,188.27 L195.78,187.54 L196.10,187.10 L196.47,187.05 L196.86,187.35 L197.30,187.81 L197.80,188.25 L198.40,188.50 L199.18,188.45 L200.13,188.21 L201.11,187.95 L201.98,187.83 L202.60,188.00 L202.94,188.51 L203.11,189.26 L203.13,190.16 L203.04,191.17 L202.90,192.20 L202.65,193.32 L202.26,194.58 L201.82,195.87 L201.37,197.11 L201.00,198.20 L200.75,199.14 L200.57,199.98 L200.39,200.74 L200.16,201.42 L199.80,202.00 L199.36,202.46 L198.87,202.79 L198.29,203.05 L197.55,203.30 L196.60,203.60 L195.34,203.95 L193.81,204.30 L192.16,204.66 L190.54,205.03 L189.10,205.40 L187.82,205.82 L186.61,206.28 L185.48,206.72 L184.47,207.08 L183.60,207.30 L182.84,207.35 L182.17,207.27 L181.64,207.11 L181.30,206.87 Z" fill="none" stroke="#000" stroke-width="0.6"/>
<ellipse cx="204.2" cy="156.1" rx="2.0" ry="1.4" transform="rotate(-30 204.2 156.1)" fill="none" stroke="#333" stroke-width="0.6"/>
<rect x="156.5" y="148.6" width="36.099999999999994" height="27.80000000000001" fill="none" stroke="#333" stroke-width="0.7" />
<rect x="179.4" y="183.4" width="40.599999999999994" height="31.599999999999994" fill="none" stroke="#333" stroke-width="0.7" />
<text x="158.1" y="153.7" font-size="5.6" text-anchor="start" font-weight="normal" fill="#1c1c1c" stroke="#1c1c1c" stroke-width="0.22" textLength="22.7" lengthAdjust="spacingAndGlyphs" >Red JC1</text>
<text x="158.1" y="161.3" font-size="5.8" text-anchor="start" font-weight="normal" fill="#1c1c1c" stroke="#1c1c1c" stroke-width="0.22" textLength="11.9" lengthAdjust="spacingAndGlyphs" >26.2</text>
<text x="204.9" y="207.5" font-size="6.0" text-anchor="start" font-weight="normal" fill="#1c1c1c" stroke="#1c1c1c" stroke-width="0.22" textLength="11.6" lengthAdjust="spacingAndGlyphs" >23.3</text>
<text x="186.2" y="213.6" font-size="5.8" text-anchor="start" font-weight="normal" fill="#1c1c1c" stroke="#1c1c1c" stroke-width="0.22" textLength="30.1" lengthAdjust="spacingAndGlyphs" >Green JC1</text>
<line x1="255.7" y1="157.9" x2="255.7" y2="226.0" stroke="#000" stroke-width="1.3" />
<line x1="255.1" y1="225.4" x2="339" y2="225.4" stroke="#000" stroke-width="1.4" />
<line x1="252.39999999999998" y1="225.4" x2="255.7" y2="225.4" stroke="#000" stroke-width="1" />
<text x="249.4" y="228.20000000000002" font-size="7.8" text-anchor="end" font-weight="normal" fill="#1c1c1c" stroke="#1c1c1c" stroke-width="0.1" textLength="4.2" lengthAdjust="spacingAndGlyphs" >0</text>
<line x1="252.39999999999998" y1="208.525" x2="255.7" y2="208.525" stroke="#000" stroke-width="1" />
<text x="249.4" y="211.32500000000002" font-size="7.8" text-anchor="end" font-weight="normal" fill="#1c1c1c" stroke="#1c1c1c" stroke-width="0.1" textLength="4.2" lengthAdjust="spacingAndGlyphs" >2</text>
<line x1="252.39999999999998" y1="191.65" x2="255.7" y2="191.65" stroke="#000" stroke-width="1" />
<text x="249.4" y="194.45000000000002" font-size="7.8" text-anchor="end" font-weight="normal" fill="#1c1c1c" stroke="#1c1c1c" stroke-width="0.1" textLength="4.2" lengthAdjust="spacingAndGlyphs" >4</text>
<line x1="252.39999999999998" y1="174.775" x2="255.7" y2="174.775" stroke="#000" stroke-width="1" />
<text x="249.4" y="177.57500000000002" font-size="7.8" text-anchor="end" font-weight="normal" fill="#1c1c1c" stroke="#1c1c1c" stroke-width="0.1" textLength="4.2" lengthAdjust="spacingAndGlyphs" >6</text>
<line x1="252.39999999999998" y1="157.9" x2="255.7" y2="157.9" stroke="#000" stroke-width="1" />
<text x="249.4" y="160.70000000000002" font-size="7.8" text-anchor="end" font-weight="normal" fill="#1c1c1c" stroke="#1c1c1c" stroke-width="0.1" textLength="4.2" lengthAdjust="spacingAndGlyphs" >8</text>
<line x1="279.3" y1="225.4" x2="279.3" y2="228.0" stroke="#000" stroke-width="1" />
<text x="279.3" y="237.9" font-size="7.8" text-anchor="middle" font-weight="normal" fill="#1c1c1c" stroke="#1c1c1c" stroke-width="0.1" textLength="11.6" lengthAdjust="spacingAndGlyphs" >WT</text>
<line x1="315.5" y1="225.4" x2="315.5" y2="228.0" stroke="#000" stroke-width="1" />
<text x="315.5" y="237.9" font-size="7.8" text-anchor="middle" font-weight="normal" fill="#1c1c1c" stroke="#1c1c1c" stroke-width="0.1" textLength="11.2" lengthAdjust="spacingAndGlyphs" >KO</text>
<text x="241.2" y="188.3" font-size="8.6" text-anchor="middle" font-weight="normal" fill="#1c1c1c" stroke="#1c1c1c" stroke-width="0.14" textLength="61.7" lengthAdjust="spacingAndGlyphs" transform="rotate(-90 241.2 188.3)" >Red/green JC-1 ratio</text>
<text x="288.9" y="153.0" font-size="9.2" text-anchor="start" font-weight="normal" fill="#1c1c1c" font-family="Liberation Serif" stroke="#1c1c1c" stroke-width="0.1" textLength="20.2" lengthAdjust="spacingAndGlyphs" >ΔΨm</text>
<line x1="285.3" y1="168.2" x2="309.5" y2="168.2" stroke="#000" stroke-width="1" />
<path d="M297.40,161.00 L297.97,162.52 L299.59,162.59 L298.32,163.60 L298.75,165.16 L297.40,164.27 L296.05,165.16 L296.48,163.60 L295.21,162.59 L296.83,162.52 Z" fill="#111"/>
<line x1="279.3" y1="182.7" x2="279.3" y2="214.8" stroke="#124e8c" stroke-width="1.1" />
<line x1="267.8" y1="198.8" x2="291.4" y2="198.8" stroke="#124e8c" stroke-width="1.1" />
<line x1="273.3" y1="182.7" x2="285.3" y2="182.7" stroke="#124e8c" stroke-width="1.1" />
<line x1="273.3" y1="214.8" x2="285.3" y2="214.8" stroke="#124e8c" stroke-width="1.1" />
<circle cx="279.3" cy="176.2" r="1.9" fill="#124e8c" />
<circle cx="282.3" cy="177.6" r="1.9" fill="#124e8c" />
<circle cx="277.3" cy="181.2" r="1.9" fill="#124e8c" />
<circle cx="279.3" cy="199.1" r="1.9" fill="#124e8c" />
<circle cx="279.3" cy="204.5" r="1.9" fill="#124e8c" />
<circle cx="274.7" cy="210.6" r="1.9" fill="#124e8c" />
<circle cx="279.3" cy="210.6" r="1.9" fill="#124e8c" />
<circle cx="284.3" cy="213.2" r="1.9" fill="#124e8c" />
<circle cx="279.3" cy="216.2" r="1.9" fill="#124e8c" />
<line x1="315.2" y1="207.1" x2="315.2" y2="219.6" stroke="#c8163a" stroke-width="1.1" />
<line x1="303.4" y1="213.6" x2="327" y2="213.6" stroke="#c8163a" stroke-width="1.1" />
<line x1="310.5" y1="207.1" x2="320.5" y2="207.1" stroke="#c8163a" stroke-width="1.1" />
<line x1="310.5" y1="219.6" x2="320.5" y2="219.6" stroke="#c8163a" stroke-width="1.1" />
<rect x="313.45000000000005" y="200.45" width="3.3" height="3.3" fill="#c8163a" />
<rect x="305.85" y="208.54999999999998" width="3.3" height="3.3" fill="#c8163a" />
<rect x="310.85" y="209.15" width="3.3" height="3.3" fill="#c8163a" />
<rect x="316.25" y="209.95" width="3.3" height="3.3" fill="#c8163a" />
<rect x="320.95000000000005" y="209.15" width="3.3" height="3.3" fill="#c8163a" />
<rect x="305.85" y="216.54999999999998" width="3.3" height="3.3" fill="#c8163a" />
<rect x="310.85" y="219.15" width="3.3" height="3.3" fill="#c8163a" />
<rect x="316.25" y="219.15" width="3.3" height="3.3" fill="#c8163a" />
<rect x="320.95000000000005" y="214.54999999999998" width="3.3" height="3.3" fill="#c8163a" />
<line x1="37.6" y1="264.7" x2="37.6" y2="357.9" stroke="#000" stroke-width="1.3" />
<line x1="37.0" y1="357.2" x2="177" y2="357.2" stroke="#000" stroke-width="1.4" />
<line x1="34.300000000000004" y1="357.2" x2="37.6" y2="357.2" stroke="#000" stroke-width="1" />
<text x="31.6" y="360.2" font-size="8.4" text-anchor="end" font-weight="normal" fill="#1c1c1c" stroke="#1c1c1c" stroke-width="0.1" textLength="4.3" lengthAdjust="spacingAndGlyphs" >0</text>
<line x1="34.300000000000004" y1="314.8" x2="37.6" y2="314.8" stroke="#000" stroke-width="1" />
<text x="31.6" y="317.8" font-size="8.4" text-anchor="end" font-weight="normal" fill="#1c1c1c" stroke="#1c1c1c" stroke-width="0.1" textLength="8.2" lengthAdjust="spacingAndGlyphs" >50</text>
<line x1="34.300000000000004" y1="272.6" x2="37.6" y2="272.6" stroke="#000" stroke-width="1" />
<text x="31.6" y="275.6" font-size="8.4" text-anchor="end" font-weight="normal" fill="#1c1c1c" stroke="#1c1c1c" stroke-width="0.1" textLength="11.8" lengthAdjust="spacingAndGlyphs" >100</text>
<line x1="37.6" y1="357.2" x2="37.6" y2="360.2" stroke="#000" stroke-width="1" />
<text x="37.6" y="368.7" font-size="8.6" text-anchor="middle" font-weight="normal" fill="#1c1c1c" stroke="#1c1c1c" stroke-width="0.1" textLength="4.5" lengthAdjust="spacingAndGlyphs" >0</text>
<line x1="65.47" y1="357.2" x2="65.47" y2="360.2" stroke="#000" stroke-width="1" />
<text x="65.47" y="368.7" font-size="8.6" text-anchor="middle" font-weight="normal" fill="#1c1c1c" stroke="#1c1c1c" stroke-width="0.1" textLength="7.8" lengthAdjust="spacingAndGlyphs" >20</text>
<line x1="93.34" y1="357.2" x2="93.34" y2="360.2" stroke="#000" stroke-width="1" />
<text x="93.34" y="368.7" font-size="8.6" text-anchor="middle" font-weight="normal" fill="#1c1c1c" stroke="#1c1c1c" stroke-width="0.1" textLength="7.8" lengthAdjust="spacingAndGlyphs" >40</text>
<line x1="121.21000000000001" y1="357.2" x2="121.21000000000001" y2="360.2" stroke="#000" stroke-width="1" />
<text x="121.21000000000001" y="368.7" font-size="8.6" text-anchor="middle" font-weight="normal" fill="#1c1c1c" stroke="#1c1c1c" stroke-width="0.1" textLength="7.8" lengthAdjust="spacingAndGlyphs" >60</text>
<line x1="149.07999999999998" y1="357.2" x2="149.07999999999998" y2="360.2" stroke="#000" stroke-width="1" />
<text x="149.07999999999998" y="368.7" font-size="8.6" text-anchor="middle" font-weight="normal" fill="#1c1c1c" stroke="#1c1c1c" stroke-width="0.1" textLength="7.8" lengthAdjust="spacingAndGlyphs" >80</text>
<line x1="176.95" y1="357.2" x2="176.95" y2="360.2" stroke="#000" stroke-width="1" />
<text x="176.95" y="368.7" font-size="8.6" text-anchor="middle" font-weight="normal" fill="#1c1c1c" stroke="#1c1c1c" stroke-width="0.1" textLength="11.7" lengthAdjust="spacingAndGlyphs" >100</text>
<text x="18.4" y="310.6" font-size="8.8" text-anchor="middle" font-weight="normal" fill="#1c1c1c" stroke="#1c1c1c" stroke-width="0.14" textLength="39.7" lengthAdjust="spacingAndGlyphs" transform="rotate(-90 18.4 310.6)" >Survival (%)</text>
<text x="73.8" y="380.1" font-size="9.4" text-anchor="start" font-weight="normal" fill="#1c1c1c" stroke="#1c1c1c" stroke-width="0.14" textLength="66.6" lengthAdjust="spacingAndGlyphs" >Days post transplant</text>
<path d="M37.60,273.80 L79.80,273.80 L79.80,278.40 L97.40,278.40 L97.40,283.50 L115.40,283.50 L115.40,288.50 L162.70,288.50" fill="none" stroke="#c8102e" stroke-width="1.4" stroke-linejoin="miter" fill="none"/>
<rect x="77.6" y="276.40000000000003" width="4.4" height="4.4" fill="#c8102e" />
<rect x="95.2" y="281.3" width="4.4" height="4.4" fill="#c8102e" />
<rect x="113.2" y="286.3" width="4.4" height="4.4" fill="#c8102e" />
<rect x="160.5" y="286.3" width="4.4" height="4.4" fill="#c8102e" />
<path d="M37.60,274.40 L57.30,274.40 L57.30,279.00 L74.10,279.00 L74.10,282.80 L77.60,282.80 L77.60,301.00 L78.60,301.00 L78.60,310.30 L89.00,310.30 L89.00,323.60 L97.40,323.60 L97.40,341.10 L106.00,341.10 L106.00,345.60 L125.00,345.60 L125.00,349.40 L144.90,349.40 L144.90,355.00 L162.70,355.00" fill="none" stroke="#f7941d" stroke-width="1.5" stroke-linejoin="miter" fill="none"/>
<rect x="71.89999999999999" y="280.6" width="4.4" height="4.4" fill="#f7941d" />
<rect x="75.39999999999999" y="298.8" width="4.4" height="4.4" fill="#f7941d" />
<rect x="76.39999999999999" y="306.90000000000003" width="4.4" height="4.4" fill="#f7941d" />
<rect x="86.8" y="321.40000000000003" width="4.4" height="4.4" fill="#f7941d" />
<rect x="95.2" y="338.90000000000003" width="4.4" height="4.4" fill="#f7941d" />
<rect x="103.8" y="343.40000000000003" width="4.4" height="4.4" fill="#f7941d" />
<rect x="122.8" y="347.2" width="4.4" height="4.4" fill="#f7941d" />
<rect x="142.70000000000002" y="352.8" width="4.4" height="4.4" fill="#f7941d" />
<rect x="160.5" y="352.8" width="4.4" height="4.4" fill="#f7941d" />
<path d="M37.60,273.60 L52.00,273.60 L52.00,277.50 L55.50,277.50 L55.50,281.50 L58.40,281.50 L58.40,299.40 L69.70,299.40 L69.70,312.60 L78.20,312.60 L78.20,330.60 L88.00,330.60 L88.00,348.00 L97.30,348.00 L97.30,352.40 L162.70,352.40" fill="none" stroke="#3db54a" stroke-width="1.5" stroke-linejoin="miter" fill="none"/>
<circle cx="52.5" cy="276.5" r="2.2" fill="#3db54a" />
<circle cx="55.5" cy="281" r="2.2" fill="#3db54a" />
<circle cx="58.3" cy="299.4" r="2.2" fill="#3db54a" />
<circle cx="69.7" cy="312.6" r="2.2" fill="#3db54a" />
<circle cx="78.2" cy="317.3" r="2.2" fill="#3db54a" />
<circle cx="78.9" cy="330.6" r="2.2" fill="#3db54a" />
<circle cx="88" cy="334.4" r="2.2" fill="#3db54a" />
<circle cx="88.6" cy="348" r="2.2" fill="#3db54a" />
<circle cx="97.3" cy="352.4" r="2.2" fill="#3db54a" />
<path d="M37.60,273.10 L49.90,273.10 L49.90,276.90 L58.20,276.90 L58.20,282.00 L68.50,282.00 L68.50,286.70 L78.10,286.70 L78.10,311.60 L88.00,311.60 L88.00,321.30 L97.40,321.30 L97.40,336.40 L106.00,336.40 L106.00,341.40 L115.50,341.40 L115.50,346.30 L126.60,346.30 L126.60,351.30 L162.70,351.30" fill="none" stroke="#1d4f8a" stroke-width="1.5" stroke-linejoin="miter" fill="none"/>
<circle cx="49.9" cy="276.9" r="2.4" fill="#1d4f8a" />
<circle cx="58.2" cy="282" r="2.4" fill="#1d4f8a" />
<circle cx="68.5" cy="286.7" r="2.4" fill="#1d4f8a" />
<circle cx="78.1" cy="296.8" r="2.4" fill="#1d4f8a" />
<circle cx="79" cy="311.6" r="2.4" fill="#1d4f8a" />
<circle cx="88" cy="316.8" r="2.4" fill="#1d4f8a" />
<circle cx="89" cy="321.3" r="2.4" fill="#1d4f8a" />
<circle cx="97.4" cy="336.4" r="2.4" fill="#1d4f8a" />
<circle cx="106" cy="341.4" r="2.4" fill="#1d4f8a" />
<circle cx="115.5" cy="346.3" r="2.4" fill="#1d4f8a" />
<circle cx="126.6" cy="351.3" r="2.4" fill="#1d4f8a" />
<circle cx="162.7" cy="351.3" r="2.4" fill="#1d4f8a" />
<line x1="37.6" y1="271.7" x2="162.7" y2="271.7" stroke="#8a6cb0" stroke-width="1.0" />
<line x1="37.6" y1="270.6" x2="162.7" y2="270.6" stroke="#29a9e1" stroke-width="1.6" />
<path d="M160.2,272.9 L162.7,268.5 L165.2,272.9 Z" fill="#29a9e1" stroke="none" stroke-width="1" />
<line x1="212.8" y1="277.6" x2="221.9" y2="277.6" stroke="#29a9e1" stroke-width="1.2" />
<path d="M214.8,279.8 L217.3,275.20000000000005 L219.8,279.8 Z" fill="#29a9e1" stroke="none" stroke-width="1" />
<text x="225.75" y="280.3" font-size="7.6" text-anchor="start" font-weight="normal" fill="#1c1c1c" stroke="#1c1c1c" stroke-width="0.1" textLength="23.25" lengthAdjust="spacingAndGlyphs" >B6 BM</text>
<line x1="250.8" y1="277.6" x2="259.3" y2="277.6" stroke="#000" stroke-width="1.1" />
<path d="M258.1,275.20000000000005 L262.3,277.6 L258.1,280.0 Z" fill="#000" stroke="none" stroke-width="1" />
<text x="266.1" y="280.3" font-size="7.6" text-anchor="start" font-weight="normal" fill="#1c1c1c" stroke="#1c1c1c" stroke-width="0.1" textLength="47.64999999999998" lengthAdjust="spacingAndGlyphs" >BALB/c (n = 4)</text>
<line x1="212.8" y1="289.1" x2="221.9" y2="289.1" stroke="#8a6cb0" stroke-width="1.2" />
<path d="M214.8,286.90000000000003 L217.3,291.5 L219.8,286.90000000000003 Z" fill="#8a6cb0" stroke="none" stroke-width="1" />
<text x="225.75" y="291.8" font-size="7.6" text-anchor="start" font-weight="normal" fill="#1c1c1c" stroke="#1c1c1c" stroke-width="0.1" textLength="47.25" lengthAdjust="spacingAndGlyphs" >B6 BM + NAC</text>
<line x1="274.5" y1="289.1" x2="283.25" y2="289.1" stroke="#000" stroke-width="1.1" />
<path d="M282.05,286.70000000000005 L286.25,289.1 L282.05,291.5 Z" fill="#000" stroke="none" stroke-width="1" />
<text x="288.9" y="291.8" font-size="7.6" text-anchor="start" font-weight="normal" fill="#1c1c1c" stroke="#1c1c1c" stroke-width="0.1" textLength="48.10000000000002" lengthAdjust="spacingAndGlyphs" >BALB/c (n = 4)</text>
<line x1="212.8" y1="300.7" x2="221.9" y2="300.7" stroke="#1d4f8a" stroke-width="1.2" />
<circle cx="217.3" cy="300.7" r="2.2" fill="#1d4f8a" />
<text x="225.75" y="303.4" font-size="7.6" text-anchor="start" font-weight="normal" fill="#1c1c1c" stroke="#1c1c1c" stroke-width="0.1" textLength="47.55" lengthAdjust="spacingAndGlyphs" >B6 BM + B6 T</text>
<line x1="275" y1="300.7" x2="284.5" y2="300.7" stroke="#000" stroke-width="1.1" />
<path d="M283.3,298.3 L287.5,300.7 L283.3,303.09999999999997 Z" fill="#000" stroke="none" stroke-width="1" />
<text x="289.6" y="303.4" font-size="7.6" text-anchor="start" font-weight="normal" fill="#1c1c1c" stroke="#1c1c1c" stroke-width="0.1" textLength="51.64999999999998" lengthAdjust="spacingAndGlyphs" >BALB/c (n = 17)</text>
<line x1="212.8" y1="312.0" x2="221.9" y2="312.0" stroke="#3db54a" stroke-width="1.2" />
<circle cx="217.3" cy="312.0" r="2.2" fill="#3db54a" />
<text x="225.75" y="314.7" font-size="7.6" text-anchor="start" font-weight="normal" fill="#1c1c1c" stroke="#1c1c1c" stroke-width="0.1" textLength="72.45" lengthAdjust="spacingAndGlyphs" >B6 BM + B6 T + NAC</text>
<line x1="300" y1="312.0" x2="309.3" y2="312.0" stroke="#000" stroke-width="1.1" />
<path d="M308.1,309.6 L312.3,312.0 L308.1,314.4 Z" fill="#000" stroke="none" stroke-width="1" />
<text x="314.6" y="314.7" font-size="7.6" text-anchor="start" font-weight="normal" fill="#1c1c1c" stroke="#1c1c1c" stroke-width="0.1" textLength="51.64999999999998" lengthAdjust="spacingAndGlyphs" >BALB/c (n = 19)</text>
<line x1="212.8" y1="325.9" x2="221.9" y2="325.9" stroke="#c8102e" stroke-width="1.2" />
<rect x="215.20000000000002" y="323.79999999999995" width="4.2" height="4.2" fill="#c8102e" />
<text x="225.9" y="328.59999999999997" font-size="7.6" text-anchor="start" font-weight="normal" fill="#1c1c1c" stroke="#1c1c1c" stroke-width="0.1" textLength="57.3" lengthAdjust="spacingAndGlyphs" >B6 BM + GPR109</text>
<text x="291.3" y="328.59999999999997" font-size="7.6" text-anchor="start" font-weight="normal" fill="#1c1c1c" stroke="#1c1c1c" stroke-width="0.1" textLength="4.3" lengthAdjust="spacingAndGlyphs" >T</text>
<text x="283.7" y="326.09999999999997" font-size="4.6" text-anchor="start" font-weight="normal" fill="#1c1c1c" stroke="#1c1c1c" stroke-width="0.05" textLength="5.4" lengthAdjust="spacingAndGlyphs" >−/−</text>
<line x1="299.3" y1="325.9" x2="308.5" y2="325.9" stroke="#000" stroke-width="1.1" />
<path d="M307.3,323.5 L311.5,325.9 L307.3,328.29999999999995 Z" fill="#000" stroke="none" stroke-width="1" />
<text x="313.1" y="328.59999999999997" font-size="7.6" text-anchor="start" font-weight="normal" fill="#1c1c1c" stroke="#1c1c1c" stroke-width="0.1" textLength="52.39999999999998" lengthAdjust="spacingAndGlyphs" >BALB/c (n = 17)</text>
<line x1="212.8" y1="337.5" x2="221.9" y2="337.5" stroke="#f7941d" stroke-width="1.2" />
<rect x="215.20000000000002" y="335.4" width="4.2" height="4.2" fill="#f7941d" />
<text x="225.9" y="340.2" font-size="7.6" text-anchor="start" font-weight="normal" fill="#1c1c1c" stroke="#1c1c1c" stroke-width="0.1" textLength="57.3" lengthAdjust="spacingAndGlyphs" >B6 BM + GPR109</text>
<text x="291.3" y="340.2" font-size="7.6" text-anchor="start" font-weight="normal" fill="#1c1c1c" stroke="#1c1c1c" stroke-width="0.1" textLength="30.1" lengthAdjust="spacingAndGlyphs" >T + NAC</text>
<text x="283.7" y="337.7" font-size="4.6" text-anchor="start" font-weight="normal" fill="#1c1c1c" stroke="#1c1c1c" stroke-width="0.05" textLength="5.4" lengthAdjust="spacingAndGlyphs" >−/−</text>
<line x1="325.0" y1="337.5" x2="332.9" y2="337.5" stroke="#000" stroke-width="1.1" />
<path d="M331.7,335.1 L335.9,337.5 L331.7,339.9 Z" fill="#000" stroke="none" stroke-width="1" />
<text x="338.1" y="340.2" font-size="7.6" text-anchor="start" font-weight="normal" fill="#1c1c1c" stroke="#1c1c1c" stroke-width="0.1" textLength="51.89999999999998" lengthAdjust="spacingAndGlyphs" >BALB/c (n = 19)</text>
<path d="M390.5,298.75 L396.25,298.75 L396.25,324.5 L390.5,324.5" fill="none" stroke="#000" stroke-width="1.0" />
<path d="M384.5,311.25 L388.75,311.25 L388.75,323.75 L384.5,323.75" fill="none" stroke="#000" stroke-width="1.0" />
<path d="M391.25,327 L395.75,327 L395.75,338 L391.25,338" fill="none" stroke="#000" stroke-width="1.0" />
<path d="M401.40,308.65 L401.93,310.07 L403.44,310.14 L402.26,311.08 L402.66,312.54 L401.40,311.70 L400.14,312.54 L400.54,311.08 L399.36,310.14 L400.87,310.07 Z" fill="#111"/>
<path d="M405.35,308.65 L405.88,310.07 L407.39,310.14 L406.21,311.08 L406.61,312.54 L405.35,311.70 L404.09,312.54 L404.49,311.08 L403.31,310.14 L404.82,310.07 Z" fill="#111"/>
<path d="M409.30,308.65 L409.83,310.07 L411.34,310.14 L410.16,311.08 L410.56,312.54 L409.30,311.70 L408.04,312.54 L408.44,311.08 L407.26,310.14 L408.77,310.07 Z" fill="#111"/>
<path d="M413.25,308.65 L413.78,310.07 L415.29,310.14 L414.11,311.08 L414.51,312.54 L413.25,311.70 L411.99,312.54 L412.39,311.08 L411.21,310.14 L412.72,310.07 Z" fill="#111"/>
<path d="M372.65,315.15 L373.18,316.57 L374.69,316.64 L373.51,317.58 L373.91,319.04 L372.65,318.20 L371.39,319.04 L371.79,317.58 L370.61,316.64 L372.12,316.57 Z" fill="#111"/>
<path d="M376.60,315.15 L377.13,316.57 L378.64,316.64 L377.46,317.58 L377.86,319.04 L376.60,318.20 L375.34,319.04 L375.74,317.58 L374.56,316.64 L376.07,316.57 Z" fill="#111"/>
<path d="M380.55,315.15 L381.08,316.57 L382.59,316.64 L381.41,317.58 L381.81,319.04 L380.55,318.20 L379.29,319.04 L379.69,317.58 L378.51,316.64 L380.02,316.57 Z" fill="#111"/>
<path d="M384.50,315.15 L385.03,316.57 L386.54,316.64 L385.36,317.58 L385.76,319.04 L384.50,318.20 L383.24,319.04 L383.64,317.58 L382.46,316.64 L383.97,316.57 Z" fill="#111"/>
<path d="M401.40,330.55 L401.93,331.97 L403.44,332.04 L402.26,332.98 L402.66,334.44 L401.40,333.60 L400.14,334.44 L400.54,332.98 L399.36,332.04 L400.87,331.97 Z" fill="#111"/>
<path d="M405.35,330.55 L405.88,331.97 L407.39,332.04 L406.21,332.98 L406.61,334.44 L405.35,333.60 L404.09,334.44 L404.49,332.98 L403.31,332.04 L404.82,331.97 Z" fill="#111"/>
<path d="M409.30,330.55 L409.83,331.97 L411.34,332.04 L410.16,332.98 L410.56,334.44 L409.30,333.60 L408.04,334.44 L408.44,332.98 L407.26,332.04 L408.77,331.97 Z" fill="#111"/>
<path d="M413.25,330.55 L413.78,331.97 L415.29,332.04 L414.11,332.98 L414.51,334.44 L413.25,333.60 L411.99,334.44 L412.39,332.98 L411.21,332.04 L412.72,331.97 Z" fill="#111"/>
</svg></body></html>
